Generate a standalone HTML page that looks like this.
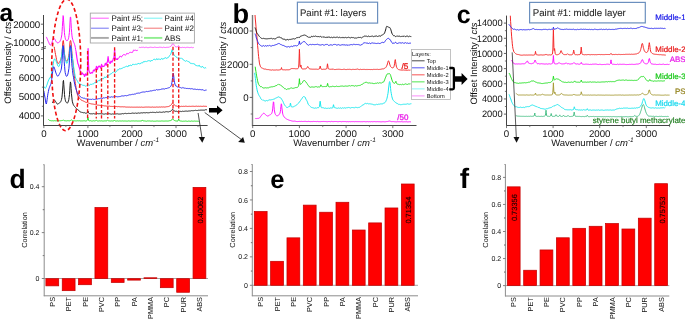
<!DOCTYPE html>
<html><head><meta charset="utf-8"><title>figure</title>
<style>html,body{margin:0;padding:0;background:#fff;}svg{display:block;will-change:transform;}svg text{font-family:"Liberation Sans", sans-serif;text-rendering:geometricPrecision;}</style>
</head><body>
<svg width="685" height="319" viewBox="0 0 685 319">
<rect x="0" y="0" width="685" height="319" fill="#ffffff"/>
<g id="pa">
<path d="M48.2 119.2 L48.5 119.5 L48.9 119.9 L49.2 120.1 L49.5 120.4 L49.9 120.6 L50.2 120.6 L50.5 120.6 L50.8 120.7 L51.2 120.7 L51.5 120.8 L51.8 120.8 L52.2 120.7 L52.5 120.8 L52.8 120.7 L53.2 120.8 L53.5 120.8 L53.8 120.9 L54.1 120.8 L54.5 120.7 L54.8 120.7 L55.1 120.8 L55.5 120.8 L55.8 120.8 L56.1 120.8 L56.5 120.8 L56.8 120.8 L57.1 120.9 L57.4 120.8 L57.8 120.8 L58.1 120.8 L58.4 120.9 L58.8 120.9 L59.1 120.8 L59.4 120.8 L59.8 120.7 L60.1 120.7 L60.4 120.7 L60.8 120.8 L61.1 120.8 L61.4 120.7 L61.7 120.5 L62.1 120.5 L62.4 120.5 L62.7 120.3 L63.1 120.0 L63.4 120.0 L63.7 120.3 L64.1 120.6 L64.4 120.7 L64.7 120.6 L65.0 120.6 L65.4 120.7 L65.7 120.9 L66.0 120.9 L66.4 120.9 L66.7 120.8 L67.0 120.7 L67.4 120.7 L67.7 120.7 L68.0 120.7 L68.3 120.7 L68.7 120.8 L69.0 120.9 L69.3 120.8 L69.7 120.8 L70.0 120.6 L70.3 120.5 L70.7 120.4 L71.0 120.1 L71.3 119.9 L71.6 120.0 L72.0 120.2 L72.3 120.4 L72.6 120.6 L73.0 120.7 L73.3 120.7 L73.6 120.8 L74.0 120.8 L74.3 120.8 L74.6 120.8 L75.0 120.9 L75.3 120.9 L75.6 120.9 L75.9 120.9 L76.3 120.9 L76.6 120.9 L76.9 120.8 L77.3 120.8 L77.6 120.7 L77.9 120.7 L78.3 120.8 L78.6 120.8 L78.9 120.8 L79.2 120.7 L79.6 120.8 L79.9 120.9 L80.2 121.0 L80.6 120.9 L80.9 120.8 L81.2 120.9 L81.6 120.9 L81.9 120.9 L82.2 120.9 L82.5 120.9 L82.9 120.9 L83.2 120.8 L83.5 120.8 L83.9 120.8 L84.2 120.7 L84.5 120.8 L84.9 120.9 L85.2 120.9 L85.5 121.0 L85.9 121.0 L86.2 120.9 L86.5 120.8 L86.8 120.7 L87.2 120.4 L87.5 119.5 L87.9 117.3 L88.2 118.6 L88.5 120.2 L88.8 120.7 L89.2 120.9 L89.5 120.8 L89.8 120.8 L90.1 120.8 L90.5 120.7 L90.8 120.8 L91.1 120.9 L91.5 121.0 L91.8 121.0 L92.1 121.0 L92.5 121.0 L92.8 120.9 L93.1 120.8 L93.4 120.8 L93.8 120.8 L94.1 120.9 L94.4 120.9 L94.8 120.9 L95.1 120.8 L95.4 120.7 L95.8 120.7 L96.1 120.6 L96.5 120.3 L96.7 120.5 L97.1 120.8 L97.4 120.9 L97.7 121.0 L98.1 121.0 L98.4 121.0 L98.7 121.0 L99.1 120.9 L99.4 120.8 L99.7 120.9 L100.1 121.0 L100.4 121.0 L100.7 120.9 L101.0 120.9 L101.4 120.9 L101.7 120.8 L102.0 120.9 L102.4 121.0 L102.7 121.0 L103.0 121.0 L103.4 121.0 L103.7 121.0 L104.0 120.9 L104.3 120.9 L104.7 120.9 L105.0 120.9 L105.3 120.9 L105.7 120.9 L106.0 120.9 L106.3 120.9 L106.7 120.8 L107.0 120.6 L107.3 120.3 L107.5 120.2 L108.0 120.6 L108.3 120.7 L108.6 120.8 L109.0 120.8 L109.3 120.9 L109.6 120.9 L110.0 120.9 L110.3 121.0 L110.6 121.0 L111.0 121.0 L111.3 120.9 L111.6 120.9 L111.9 121.0 L112.3 121.0 L112.6 121.0 L112.9 120.9 L113.3 120.9 L113.6 120.9 L113.9 120.7 L114.4 120.1 L114.6 120.3 L114.9 120.7 L115.2 121.0 L115.6 121.1 L115.9 121.1 L116.2 121.1 L116.6 121.0 L116.9 120.9 L117.2 120.9 L117.6 120.9 L117.9 120.9 L118.2 121.0 L118.5 121.1 L118.9 121.0 L119.2 121.0 L119.5 120.9 L119.9 120.9 L120.2 120.9 L120.5 121.0 L120.9 121.1 L121.2 121.1 L121.5 121.0 L121.8 121.0 L122.2 121.0 L122.5 120.9 L122.8 120.9 L123.2 121.0 L123.5 121.0 L123.8 121.0 L124.2 120.9 L124.5 121.0 L124.8 121.1 L125.2 121.1 L125.5 121.0 L125.8 120.9 L126.1 120.9 L126.5 121.1 L126.8 121.1 L127.1 121.1 L127.5 121.1 L127.8 121.0 L128.1 120.9 L128.5 120.9 L128.8 120.9 L129.1 120.9 L129.4 121.0 L129.8 121.0 L130.1 121.0 L130.4 121.1 L130.8 121.1 L131.1 121.0 L131.4 120.9 L131.8 121.0 L132.1 120.9 L132.4 121.0 L132.7 120.9 L133.1 120.9 L133.4 120.9 L133.7 120.9 L134.1 120.9 L134.4 121.0 L134.7 121.0 L135.1 120.9 L135.4 121.0 L135.7 120.9 L136.1 120.9 L136.4 120.9 L136.7 121.0 L137.0 121.1 L137.4 121.0 L137.7 121.1 L138.0 121.0 L138.4 121.0 L138.7 121.0 L139.0 121.0 L139.4 121.0 L139.7 121.0 L140.0 121.0 L140.3 121.0 L140.7 121.0 L141.0 121.0 L141.3 120.9 L141.7 120.8 L142.0 120.6 L142.3 120.1 L142.5 120.0 L143.0 120.7 L143.3 121.0 L143.6 121.0 L144.0 121.0 L144.3 121.0 L144.6 120.9 L145.0 121.0 L145.3 121.0 L145.6 121.1 L146.0 121.2 L146.3 121.2 L146.6 121.2 L146.9 121.1 L147.3 121.0 L147.6 120.9 L147.9 120.9 L148.3 120.9 L148.6 121.0 L148.9 121.0 L149.3 121.0 L149.6 120.9 L149.9 120.9 L150.3 121.0 L150.6 121.1 L150.9 121.1 L151.2 121.1 L151.6 121.1 L151.9 121.0 L152.2 121.0 L152.6 121.0 L152.9 121.1 L153.2 121.2 L153.6 121.2 L153.9 121.2 L154.2 121.2 L154.5 121.2 L154.9 121.2 L155.2 121.2 L155.5 121.2 L155.9 121.1 L156.2 121.1 L156.5 121.0 L156.9 121.0 L157.2 121.0 L157.5 121.0 L157.8 121.0 L158.2 121.1 L158.5 121.1 L158.8 121.1 L159.2 121.1 L159.5 121.1 L159.8 121.1 L160.2 121.2 L160.5 121.1 L160.8 121.0 L161.2 120.9 L161.5 121.0 L161.8 121.0 L162.1 121.0 L162.5 121.0 L162.8 121.0 L163.1 121.0 L163.5 121.1 L163.8 121.1 L164.1 121.1 L164.5 121.1 L164.8 121.0 L165.1 121.0 L165.4 121.0 L165.8 121.0 L166.1 121.0 L166.4 121.0 L166.8 121.0 L167.1 121.0 L167.4 121.1 L167.8 121.0 L168.1 121.0 L168.4 121.0 L168.7 120.9 L169.1 120.8 L169.4 120.8 L169.7 120.7 L170.1 120.7 L170.4 120.6 L170.7 120.6 L171.1 120.5 L171.4 120.3 L171.7 119.9 L172.0 119.3 L172.4 118.9 L172.7 118.8 L173.0 119.2 L173.4 119.7 L173.7 120.1 L174.0 120.3 L174.4 120.5 L174.7 120.5 L175.0 120.7 L175.4 120.8 L175.7 120.9 L176.0 120.9 L176.3 121.0 L176.7 121.0 L177.0 121.1 L177.3 121.1 L177.7 121.0 L178.0 120.8 L178.3 120.1 L178.7 119.0 L179.0 119.8 L179.3 120.6 L179.6 120.9 L180.0 121.0 L180.3 121.0 L180.6 121.0 L181.0 121.0 L181.3 121.1 L181.6 121.1 L182.0 121.2 L182.3 121.2 L182.6 121.3 L182.9 121.3 L183.3 121.2 L183.6 121.2 L183.9 121.2 L184.3 121.2 L184.6 121.2 L184.9 121.1 L185.3 121.1 L185.6 121.0 L185.9 121.0 L186.2 121.1 L186.6 121.2 L186.9 121.2 L187.2 121.3 L187.6 121.3 L187.9 121.2 L188.2 121.1 L188.6 121.1 L188.9 121.1 L189.2 121.1 L189.6 121.2 L189.9 121.2 L190.2 121.2 L190.5 121.3 L190.9 121.2 L191.2 121.1 L191.5 121.0 L191.9 121.1 L192.2 121.1 L192.5 121.2 L192.9 121.2 L193.2 121.2 L193.5 121.2 L193.8 121.2 L194.2 121.2 L194.5 121.0 L194.8 121.1 L195.2 121.2 L195.5 121.2 L195.8 121.1 L196.2 121.1 L196.5 121.2 L196.8 121.2 L197.1 121.2 L197.5 121.2 L197.8 121.3 L198.1 121.3 L198.5 121.3 L198.8 121.2" fill="none" stroke="#22e022" stroke-width="1.0" stroke-linejoin="round" />
<path d="M52.3 103.0 L52.6 102.4 L53.0 101.7 L53.3 101.0 L53.6 100.3 L53.9 100.0 L54.3 100.0 L54.6 100.2 L54.9 100.5 L55.3 101.0 L55.6 101.6 L55.9 102.1 L56.3 102.7 L56.6 103.2 L56.9 103.7 L57.2 104.1 L57.6 104.1 L57.9 104.0 L58.2 103.8 L58.6 103.6 L58.9 103.4 L59.2 103.3 L59.6 103.0 L59.9 102.6 L60.2 102.2 L60.5 101.9 L60.9 101.4 L61.2 100.6 L61.5 99.4 L61.9 97.6 L62.2 94.9 L62.5 91.1 L62.9 85.9 L63.2 81.0 L63.5 80.4 L63.8 84.5 L64.2 90.1 L64.5 94.5 L64.8 97.5 L65.2 99.5 L65.5 100.8 L65.8 101.7 L66.2 102.3 L66.5 102.6 L66.8 102.9 L67.1 103.0 L67.5 103.1 L67.8 102.6 L68.1 101.9 L68.5 100.9 L68.8 99.5 L69.1 97.5 L69.5 94.4 L69.8 90.2 L70.1 85.2 L70.4 81.9 L70.8 83.5 L71.1 88.4 L71.4 93.3 L71.8 97.1 L72.1 99.9 L72.4 101.8 L72.8 103.1 L73.1 104.1 L73.4 104.8 L73.7 105.4 L74.1 105.9 L74.4 106.3 L74.7 106.6 L75.1 107.0 L75.4 107.4 L75.7 107.8 L76.0 108.4 L76.4 108.7 L76.7 108.9 L77.0 109.0 L77.4 109.3 L77.7 109.6 L78.0 110.0 L78.4 110.2 L78.7 110.4 L79.0 110.8 L79.3 111.2 L79.7 111.5 L80.0 111.7 L80.3 111.9 L80.7 112.0 L81.0 111.9 L81.3 112.2 L81.7 112.4 L82.0 112.6 L82.3 112.5 L82.6 112.5 L83.0 112.6 L83.3 112.7 L83.6 112.8 L84.0 112.7 L84.3 112.6 L84.6 112.8 L85.0 113.1 L85.3 113.2 L85.6 113.2 L85.9 113.0 L86.3 113.1 L86.6 113.1 L86.9 113.0 L87.3 112.9 L87.6 112.1 L87.9 111.0 L88.3 112.2 L88.6 113.0 L88.9 113.3 L89.2 113.4 L89.6 113.6 L89.9 113.8 L90.2 113.8 L90.6 113.8 L90.9 113.8 L91.2 113.8 L91.6 113.8 L91.9 113.8 L92.2 113.9 L92.5 113.8 L92.9 113.7 L93.2 113.5 L93.5 113.6 L93.9 113.7 L94.2 113.8 L94.5 113.9 L94.9 113.8 L95.2 113.9 L95.5 113.9 L95.8 113.8 L96.2 113.7 L96.5 113.6 L96.8 113.6 L97.2 113.7 L97.5 113.6 L97.8 113.6 L98.1 113.7 L98.5 113.7 L98.8 113.8 L99.1 113.7 L99.5 113.7 L99.8 113.7 L100.1 113.7 L100.5 113.7 L100.8 113.8 L101.1 114.0 L101.4 113.9 L101.8 113.8 L102.1 113.8 L102.4 113.8 L102.8 113.9 L103.1 114.0 L103.4 114.1 L103.8 114.0 L104.1 114.1 L104.4 114.1 L104.7 114.0 L105.1 113.9 L105.4 113.8 L105.7 113.8 L106.1 113.8 L106.4 113.8 L106.7 114.0 L107.1 113.9 L107.4 113.8 L107.7 113.8 L108.0 113.8 L108.4 113.7 L108.7 113.7 L109.0 113.7 L109.4 113.7 L109.7 113.9 L110.0 114.0 L110.4 114.0 L110.7 114.0 L111.0 114.1 L111.3 114.2 L111.7 114.1 L112.0 114.0 L112.3 113.9 L112.7 114.0 L113.0 114.2 L113.3 114.1 L113.7 114.0 L114.0 113.9 L114.3 113.9 L114.6 114.0 L115.0 113.9 L115.3 113.9 L115.6 114.0 L116.0 114.0 L116.3 113.9 L116.6 113.9 L117.0 114.0 L117.3 113.9 L117.6 113.8 L117.9 113.6 L118.3 113.9 L118.6 114.1 L118.9 114.0 L119.3 114.0 L119.6 114.1 L119.9 114.0 L120.2 114.0 L120.6 114.0 L120.9 114.0 L121.2 114.0 L121.6 113.8 L121.9 113.8 L122.2 113.7 L122.6 113.6 L122.9 113.6 L123.2 113.7 L123.5 113.8 L123.9 113.7 L124.2 113.5 L124.5 113.5 L124.9 113.5 L125.2 113.4 L125.5 113.4 L125.9 113.3 L126.2 113.4 L126.5 113.6 L126.8 113.7 L127.2 113.6 L127.5 113.5 L127.8 113.5 L128.2 113.4 L128.5 113.4 L128.8 113.3 L129.2 113.4 L129.5 113.4 L129.8 113.5 L130.1 113.5 L130.5 113.5 L130.8 113.4 L131.1 113.4 L131.5 113.3 L131.8 113.2 L132.1 113.1 L132.5 113.1 L132.8 113.0 L133.1 113.0 L133.4 113.2 L133.8 113.3 L134.1 113.3 L134.4 113.3 L134.8 113.2 L135.1 113.1 L135.4 113.0 L135.8 113.0 L136.1 113.3 L136.4 113.3 L136.7 113.2 L137.1 113.1 L137.4 113.2 L137.7 113.2 L138.1 113.2 L138.4 113.0 L138.7 112.9 L139.1 113.1 L139.4 113.1 L139.7 113.2 L140.0 113.0 L140.4 113.0 L140.7 112.9 L141.0 112.8 L141.4 112.8 L141.7 112.8 L142.0 112.8 L142.3 112.8 L142.7 113.0 L143.0 112.8 L143.3 112.7 L143.7 112.7 L144.0 112.7 L144.3 112.8 L144.7 112.7 L145.0 112.9 L145.3 112.8 L145.6 112.9 L146.0 112.9 L146.3 112.7 L146.6 112.6 L147.0 112.7 L147.3 112.7 L147.6 112.8 L148.0 112.8 L148.3 112.8 L148.6 112.8 L148.9 112.7 L149.3 112.7 L149.6 112.6 L149.9 112.6 L150.3 112.5 L150.6 112.3 L150.9 112.4 L151.3 112.4 L151.6 112.5 L151.9 112.4 L152.2 112.3 L152.6 112.3 L152.9 112.4 L153.2 112.4 L153.6 112.4 L153.9 112.3 L154.2 112.4 L154.6 112.4 L154.9 112.5 L155.2 112.5 L155.5 112.6 L155.9 112.4 L156.2 112.2 L156.5 112.2 L156.9 112.2 L157.2 112.3 L157.5 112.3 L157.9 112.4 L158.2 112.4 L158.5 112.3 L158.8 112.3 L159.2 112.1 L159.5 112.1 L159.8 112.1 L160.2 112.2 L160.5 112.2 L160.8 112.3 L161.2 112.3 L161.5 112.3 L161.8 112.4 L162.1 112.3 L162.5 112.2 L162.8 112.1 L163.1 112.0 L163.5 111.9 L163.8 112.1 L164.1 112.2 L164.4 112.2 L164.8 112.0 L165.1 111.8 L165.4 111.8 L165.8 111.9 L166.1 111.9 L166.4 111.7 L166.8 111.7 L167.1 111.8 L167.4 111.8 L167.7 111.8 L168.1 111.9 L168.4 111.9 L168.7 111.8 L169.1 111.6 L169.4 111.6 L169.7 111.5 L170.1 111.5 L170.4 111.4 L170.7 111.3 L171.0 111.0 L171.4 110.5 L171.7 110.1 L172.0 109.7 L172.4 109.4 L172.7 109.3 L173.0 109.5 L173.4 109.9 L173.7 110.3 L174.0 110.7 L174.3 111.0 L174.7 111.2 L175.0 111.3 L175.3 111.3 L175.7 111.3 L176.0 111.2 L176.3 111.2 L176.7 111.3 L177.0 111.5 L177.3 111.6 L177.6 111.6 L178.0 111.5 L178.3 111.4 L178.6 111.2 L179.0 111.3 L179.3 111.3 L179.6 111.5 L180.0 111.5 L180.3 111.4 L180.6 111.4 L180.9 111.6 L181.3 111.6 L181.6 111.5 L181.9 111.5 L182.3 111.3 L182.6 111.2 L182.9 111.2 L183.3 111.3 L183.6 111.4 L183.9 111.3 L184.2 111.2 L184.6 111.3 L184.9 111.3 L185.2 111.2 L185.6 111.1 L185.9 111.1 L186.2 111.1 L186.5 111.1 L186.9 111.2 L187.2 111.3 L187.5 111.2 L187.9 111.2 L188.2 111.1 L188.5 111.0 L188.9 111.1 L189.2 111.0 L189.5 111.0 L189.8 110.9 L190.2 110.9 L190.5 110.9 L190.8 111.0 L191.2 110.8 L191.5 110.6 L191.8 110.7 L192.2 110.7 L192.5 110.7 L192.8 110.6 L193.1 110.5 L193.5 110.7 L193.8 110.7 L194.1 110.7 L194.5 110.5 L194.8 110.4 L195.1 110.3 L195.5 110.3 L195.8 110.4 L196.1 110.5 L196.4 110.5 L196.8 110.4 L197.1 110.3 L197.4 110.5 L197.8 110.5 L198.1 110.5 L198.4 110.3 L198.8 110.2 L199.1 110.3 L199.4 110.2 L199.7 110.3 L200.1 110.2 L200.4 110.2 L200.7 110.2 L201.1 110.3 L201.4 110.2 L201.7 110.0 L202.1 109.9 L202.4 110.1 L202.7 110.2 L203.0 110.1 L203.4 110.2 L203.7 110.1 L204.0 110.1 L204.4 110.2 L204.7 110.0 L205.0 109.8 L205.4 109.7 L205.7 109.7 L206.0 109.7 L206.3 109.7 L206.7 109.8 L207.0 109.9" fill="none" stroke="#1c1c1c" stroke-width="1.0" stroke-linejoin="round" />
<path d="M54.2 46.8 L54.5 48.8 L54.9 50.8 L55.2 52.7 L55.5 54.4 L55.9 56.1 L56.2 57.7 L56.5 59.4 L56.8 60.7 L57.2 61.9 L57.5 62.7 L57.8 63.3 L58.2 63.5 L58.5 63.4 L58.8 63.0 L59.2 62.5 L59.5 62.1 L59.8 61.5 L60.1 61.0 L60.5 60.3 L60.8 59.4 L61.1 58.3 L61.5 56.7 L61.8 54.5 L62.1 51.2 L62.5 46.9 L62.8 42.1 L63.1 40.6 L63.4 40.6 L63.8 44.4 L64.1 49.2 L64.4 53.2 L64.8 56.0 L65.1 58.0 L65.4 59.3 L65.8 60.3 L66.1 60.8 L66.4 61.1 L66.7 61.2 L67.1 61.0 L67.4 60.5 L67.7 59.9 L68.1 58.9 L68.4 57.6 L68.7 55.8 L69.1 53.4 L69.4 50.2 L69.7 46.1 L70.0 41.7 L70.4 40.6 L70.7 40.6 L71.0 42.1 L71.4 46.3 L71.7 50.2 L72.0 53.6 L72.4 56.8 L72.7 59.8 L73.0 62.9 L73.3 66.1 L73.7 69.5 L74.0 72.8 L74.3 75.8 L74.7 78.6 L75.0 81.1 L75.3 83.4 L75.7 85.4 L76.0 87.4 L76.3 89.2 L76.6 91.0 L77.0 92.6 L77.3 94.0 L77.6 95.1 L78.0 96.1 L78.3 96.9 L78.6 97.3 L79.0 97.7 L79.3 98.1 L79.6 98.5 L79.9 98.9 L80.3 99.1 L80.6 99.4 L80.9 99.8 L81.3 100.1 L81.6 100.3 L81.9 100.5 L82.3 100.6 L82.6 100.7 L82.9 100.8 L83.2 101.0 L83.6 101.1 L83.9 101.3 L84.2 101.5 L84.6 101.6 L84.9 101.8 L85.2 102.0 L85.6 102.2 L85.9 102.3 L86.2 102.4 L86.5 102.5 L86.9 102.5 L87.2 102.6 L87.5 102.7 L87.9 102.7 L88.2 102.9 L88.5 103.0 L88.9 103.1 L89.2 103.3 L89.5 103.4 L89.8 103.5 L90.2 103.6 L90.5 103.7 L90.8 103.7 L91.2 103.8 L91.5 103.9 L91.8 104.0 L92.2 104.0 L92.5 104.0 L92.8 104.1 L93.1 104.1 L93.5 104.2 L93.8 104.3 L94.1 104.4 L94.5 104.4 L94.8 104.4 L95.1 104.5 L95.5 104.7 L95.8 104.8 L96.1 104.8 L96.4 104.8 L96.8 104.9 L97.1 105.0 L97.4 105.1 L97.8 105.1 L98.1 105.1 L98.4 105.2 L98.8 105.2 L99.1 105.3 L99.4 105.3 L99.7 105.3 L100.1 105.4 L100.4 105.5 L100.7 105.5 L101.1 105.6 L101.4 105.6 L101.7 105.6 L102.1 105.5 L102.4 105.6 L102.7 105.6 L103.0 105.7 L103.4 105.7 L103.7 105.7 L104.0 105.7 L104.4 105.9 L104.7 105.9 L105.0 105.9 L105.4 105.9 L105.7 106.0 L106.0 106.1 L106.3 106.1 L106.7 106.1 L107.0 106.1 L107.3 106.1 L107.7 106.1 L108.0 106.2 L108.3 106.2 L108.7 106.2 L109.0 106.2 L109.3 106.1 L109.6 106.2 L110.0 106.3 L110.3 106.4 L110.6 106.4 L111.0 106.4 L111.3 106.4 L111.6 106.4 L112.0 106.4 L112.3 106.4 L112.6 106.5 L112.9 106.4 L113.3 106.4 L113.6 106.4 L113.9 106.4 L114.3 106.3 L114.6 106.4 L114.9 106.5 L115.3 106.5 L115.6 106.5 L115.9 106.5 L116.2 106.5 L116.6 106.5 L116.9 106.6 L117.2 106.7 L117.6 106.7 L117.9 106.6 L118.2 106.5 L118.6 106.6 L118.9 106.6 L119.2 106.7 L119.5 106.7 L119.9 106.7 L120.2 106.8 L120.5 106.8 L120.9 106.8 L121.2 106.8 L121.5 106.8 L121.9 106.7 L122.2 106.6 L122.5 106.8 L122.8 106.9 L123.2 106.9 L123.5 106.9 L123.8 106.8 L124.2 106.8 L124.5 106.8 L124.8 106.9 L125.2 107.0 L125.5 107.0 L125.8 107.0 L126.1 107.1 L126.5 107.1 L126.8 107.0 L127.1 107.0 L127.5 107.1 L127.8 107.1 L128.1 107.2 L128.5 107.1 L128.8 107.1 L129.1 107.1 L129.4 107.1 L129.8 107.1 L130.1 107.2 L130.4 107.2 L130.8 107.2 L131.1 107.2 L131.4 107.1 L131.8 107.1 L132.1 107.1 L132.4 107.2 L132.7 107.2 L133.1 107.3 L133.4 107.2 L133.7 107.2 L134.1 107.2 L134.4 107.2 L134.7 107.2 L135.1 107.3 L135.4 107.2 L135.7 107.2 L136.0 107.2 L136.4 107.2 L136.7 107.1 L137.0 107.1 L137.4 107.1 L137.7 107.2 L138.0 107.2 L138.4 107.2 L138.7 107.2 L139.0 107.1 L139.3 107.1 L139.7 107.2 L140.0 107.3 L140.3 107.2 L140.7 107.3 L141.0 107.2 L141.3 107.1 L141.7 107.1 L142.0 107.2 L142.3 107.3 L142.6 107.2 L143.0 107.2 L143.3 107.2 L143.6 107.3 L144.0 107.3 L144.3 107.2 L144.6 107.2 L145.0 107.2 L145.3 107.1 L145.6 107.1 L145.9 107.0 L146.3 107.0 L146.6 107.1 L146.9 107.1 L147.3 107.1 L147.6 107.1 L147.9 107.1 L148.3 107.1 L148.6 107.0 L148.9 107.1 L149.2 107.1 L149.6 107.1 L149.9 107.1 L150.2 107.1 L150.6 107.2 L150.9 107.3 L151.2 107.2 L151.6 107.2 L151.9 107.2 L152.2 107.1 L152.5 107.0 L152.9 107.1 L153.2 107.2 L153.5 107.2 L153.9 107.2 L154.2 107.1 L154.5 107.2 L154.9 107.2 L155.2 107.2 L155.5 107.2 L155.8 107.2 L156.2 107.1 L156.5 107.0 L156.8 107.0 L157.2 107.1 L157.5 107.1 L157.8 107.1 L158.2 107.2 L158.5 107.1 L158.8 107.1 L159.1 107.0 L159.5 107.0 L159.8 107.0 L160.1 107.1 L160.5 107.1 L160.8 107.1 L161.1 107.0 L161.5 106.9 L161.8 106.9 L162.1 106.9 L162.4 107.0 L162.8 107.1 L163.1 107.1 L163.4 107.0 L163.8 106.8 L164.1 106.9 L164.4 107.0 L164.8 107.1 L165.1 107.0 L165.4 107.0 L165.7 106.9 L166.1 106.8 L166.4 106.8 L166.7 106.7 L167.1 106.7 L167.4 106.7 L167.7 106.6 L168.1 106.6 L168.4 106.6 L168.7 106.4 L169.0 106.3 L169.4 106.1 L169.7 106.0 L170.0 105.9 L170.4 105.6 L170.7 105.2 L171.0 104.8 L171.4 104.5 L171.7 104.1 L172.0 103.6 L172.3 103.2 L172.7 103.0 L173.0 103.2 L173.3 103.7 L173.7 104.2 L174.0 104.6 L174.3 105.0 L174.7 105.3 L175.0 105.6 L175.3 105.8 L175.6 105.8 L176.0 105.9 L176.3 106.0 L176.6 106.0 L177.0 106.2 L177.3 106.3 L177.6 106.4 L178.0 106.4 L178.3 106.4 L178.6 106.4 L178.9 106.4 L179.3 106.4 L179.6 106.4 L179.9 106.4 L180.3 106.4 L180.6 106.6 L180.9 106.4 L181.3 106.3 L181.6 106.3 L181.9 106.5 L182.2 106.5 L182.6 106.4 L182.9 106.4 L183.2 106.3 L183.6 106.3 L183.9 106.4 L184.2 106.4 L184.6 106.4 L184.9 106.4 L185.2 106.3 L185.5 106.2 L185.9 106.2 L186.2 106.2 L186.5 106.3 L186.9 106.3 L187.2 106.4 L187.5 106.4 L187.9 106.4 L188.2 106.3 L188.5 106.4 L188.8 106.4 L189.2 106.3 L189.5 106.3 L189.8 106.4 L190.2 106.4 L190.5 106.4 L190.8 106.4 L191.2 106.4 L191.5 106.3 L191.8 106.3 L192.1 106.3 L192.5 106.2 L192.8 106.3 L193.1 106.2 L193.5 106.3 L193.8 106.3 L194.1 106.3 L194.5 106.4 L194.8 106.4 L195.1 106.4 L195.4 106.3 L195.8 106.3 L196.1 106.3 L196.4 106.2 L196.8 106.2 L197.1 106.3 L197.4 106.3 L197.8 106.4 L198.1 106.3 L198.4 106.3 L198.7 106.2 L199.1 106.2 L199.4 106.3 L199.7 106.4 L200.1 106.3 L200.4 106.3 L200.7 106.2 L201.1 106.3 L201.4 106.3 L201.7 106.4 L202.0 106.4 L202.4 106.4 L202.7 106.3 L203.0 106.2 L203.4 106.2 L203.7 106.2 L204.0 106.3 L204.4 106.3 L204.7 106.3 L205.0 106.3 L205.3 106.3 L205.7 106.3 L206.0 106.4 L206.3 106.4 L206.7 106.4 L207.0 106.4" fill="none" stroke="#f52828" stroke-width="1.0" stroke-linejoin="round" />
<path d="M44.0 86.5 L44.3 87.1 L44.7 87.8 L45.0 87.9 L45.3 88.1 L45.6 87.9 L46.0 87.5 L46.3 86.8 L46.6 85.6 L47.0 84.8 L47.3 83.8 L47.6 82.8 L48.0 81.7 L48.3 81.0 L48.6 80.1 L48.9 79.6 L49.3 78.8 L49.6 77.9 L49.9 78.0 L50.3 78.0 L50.6 77.1 L50.9 76.2 L51.3 74.9 L51.6 72.8 L51.9 70.8 L52.2 69.3 L52.6 67.6 L52.9 65.9 L53.2 63.9 L53.6 61.7 L53.9 60.4 L54.2 59.2 L54.6 59.0 L54.9 59.0 L55.2 59.5 L55.5 60.1 L55.9 60.6 L56.2 61.4 L56.5 62.2 L56.9 63.0 L57.2 64.0 L57.5 64.9 L57.9 65.9 L58.2 66.3 L58.5 66.6 L58.8 66.4 L59.2 66.2 L59.5 65.4 L59.8 64.4 L60.2 63.1 L60.5 61.9 L60.8 60.6 L61.2 58.8 L61.5 56.7 L61.8 54.1 L62.1 51.3 L62.5 47.9 L62.8 46.5 L63.1 46.5 L63.5 46.5 L63.8 48.5 L64.1 51.7 L64.5 54.6 L64.8 56.4 L65.1 58.3 L65.4 59.7 L65.8 60.9 L66.1 62.1 L66.4 63.1 L66.8 63.1 L67.1 63.2 L67.4 62.6 L67.8 61.4 L68.1 60.2 L68.4 59.2 L68.7 57.9 L69.1 55.7 L69.4 52.8 L69.7 49.9 L70.1 47.2 L70.4 46.5 L70.7 46.5 L71.1 47.6 L71.4 50.0 L71.7 52.7 L72.0 54.9 L72.4 57.6 L72.7 60.0 L73.0 62.2 L73.4 64.7 L73.7 67.3 L74.0 69.6 L74.4 71.7 L74.7 73.6 L75.0 75.3 L75.3 76.9 L75.7 78.1 L76.0 79.0 L76.3 79.4 L76.7 79.7 L77.0 80.3 L77.3 80.8 L77.7 81.5 L78.0 82.3 L78.3 82.9 L78.6 83.1 L79.0 83.5 L79.3 83.6 L79.6 83.9 L80.0 84.2 L80.3 84.3 L80.6 84.2 L81.0 84.3 L81.3 84.4 L81.6 84.7 L81.9 84.8 L82.3 84.9 L82.6 85.1 L82.9 85.5 L83.3 85.4 L83.6 85.4 L83.9 85.6 L84.3 85.6 L84.6 85.4 L84.9 85.6 L85.2 85.8 L85.6 86.2 L85.9 86.3 L86.2 85.9 L86.6 86.0 L86.9 85.7 L87.2 85.9 L87.6 85.6 L87.9 85.3 L88.2 85.2 L88.5 84.9 L88.9 84.9 L89.2 85.2 L89.5 85.4 L89.9 85.0 L90.2 84.5 L90.5 84.0 L90.9 84.1 L91.2 84.4 L91.5 84.3 L91.8 84.4 L92.2 84.0 L92.5 84.0 L92.8 83.9 L93.2 84.0 L93.5 83.8 L93.8 83.7 L94.2 83.2 L94.5 82.7 L94.8 82.9 L95.1 83.1 L95.5 82.8 L95.8 82.3 L96.1 82.2 L96.5 82.5 L96.8 82.8 L97.1 82.3 L97.5 81.2 L97.8 80.8 L98.1 80.7 L98.4 80.6 L98.8 81.0 L99.1 81.0 L99.4 80.8 L99.8 79.9 L100.1 79.5 L100.4 79.7 L100.7 80.1 L101.1 79.8 L101.4 79.1 L101.7 78.6 L102.1 78.6 L102.4 78.5 L102.7 78.9 L103.1 79.2 L103.4 78.9 L103.7 78.2 L104.0 78.0 L104.4 77.5 L104.7 76.8 L105.0 77.2 L105.4 77.4 L105.7 77.8 L106.0 77.3 L106.4 77.1 L106.7 76.4 L107.0 76.1 L107.3 75.6 L107.7 75.6 L108.0 75.4 L108.3 75.2 L108.7 75.2 L109.0 75.1 L109.3 75.1 L109.7 74.6 L110.0 74.3 L110.3 74.2 L110.6 74.0 L111.0 73.8 L111.3 73.8 L111.6 73.3 L112.0 72.9 L112.3 72.7 L112.6 72.6 L113.0 72.5 L113.3 72.1 L113.6 72.0 L113.9 71.7 L114.3 71.6 L114.6 71.7 L114.9 72.1 L115.3 72.5 L115.6 72.0 L115.9 71.9 L116.3 71.6 L116.6 71.5 L116.9 71.1 L117.2 70.4 L117.6 69.7 L117.9 69.6 L118.2 69.8 L118.6 69.7 L118.9 69.2 L119.2 68.8 L119.6 68.8 L119.9 68.6 L120.2 68.6 L120.5 69.0 L120.9 69.0 L121.2 68.9 L121.5 68.4 L121.9 68.4 L122.2 68.3 L122.5 68.1 L122.9 67.8 L123.2 67.7 L123.5 67.5 L123.8 67.2 L124.2 67.2 L124.5 67.3 L124.8 67.2 L125.2 67.0 L125.5 66.7 L125.8 66.6 L126.2 66.3 L126.5 66.3 L126.8 66.4 L127.1 66.5 L127.5 66.5 L127.8 66.8 L128.1 66.7 L128.5 66.0 L128.8 65.2 L129.1 65.5 L129.5 65.7 L129.8 65.7 L130.1 65.3 L130.4 65.1 L130.8 65.2 L131.1 65.7 L131.4 65.6 L131.8 65.4 L132.1 65.2 L132.4 64.7 L132.8 64.1 L133.1 64.1 L133.4 64.3 L133.7 64.4 L134.1 64.8 L134.4 64.8 L134.7 64.5 L135.1 64.5 L135.4 64.4 L135.7 64.2 L136.1 64.5 L136.4 64.4 L136.7 64.3 L137.0 64.5 L137.4 64.2 L137.7 64.0 L138.0 63.7 L138.4 63.0 L138.7 63.5 L139.0 63.7 L139.4 63.9 L139.7 63.8 L140.0 63.4 L140.3 63.3 L140.7 63.6 L141.0 63.4 L141.3 62.9 L141.7 62.7 L142.0 62.8 L142.3 62.9 L142.7 62.6 L143.0 61.9 L143.3 61.8 L143.6 61.7 L144.0 62.2 L144.3 61.8 L144.6 61.4 L145.0 61.2 L145.3 61.4 L145.6 61.4 L146.0 61.5 L146.3 61.6 L146.6 61.6 L146.9 61.3 L147.3 61.0 L147.6 61.1 L147.9 61.0 L148.3 60.7 L148.6 60.7 L148.9 60.8 L149.3 60.7 L149.6 60.8 L149.9 60.9 L150.2 61.3 L150.6 61.3 L150.9 60.8 L151.2 60.2 L151.6 60.6 L151.9 60.9 L152.2 60.8 L152.5 60.5 L152.9 60.1 L153.2 59.8 L153.5 59.4 L153.9 59.3 L154.2 59.1 L154.5 59.3 L154.9 59.6 L155.2 60.1 L155.5 59.9 L155.8 59.6 L156.2 59.2 L156.5 59.2 L156.8 58.6 L157.2 59.3 L157.5 59.8 L157.8 59.5 L158.2 59.4 L158.5 59.1 L158.8 59.1 L159.1 58.8 L159.5 59.3 L159.8 59.6 L160.1 59.7 L160.5 59.5 L160.8 59.5 L161.1 58.8 L161.5 58.4 L161.8 58.3 L162.1 58.7 L162.4 59.3 L162.8 59.1 L163.1 58.6 L163.4 58.8 L163.8 58.9 L164.1 58.6 L164.4 58.4 L164.8 57.8 L165.1 57.8 L165.4 57.7 L165.7 57.8 L166.1 57.9 L166.4 58.4 L166.7 58.2 L167.1 57.8 L167.4 57.9 L167.7 57.8 L168.1 57.8 L168.4 57.4 L168.7 57.0 L169.0 56.5 L169.4 55.8 L169.7 55.6 L170.0 55.1 L170.4 54.7 L170.7 54.1 L171.0 53.3 L171.4 52.1 L171.7 50.8 L172.0 49.7 L172.3 50.2 L172.7 51.5 L173.0 52.5 L173.3 53.3 L173.7 54.2 L174.0 55.0 L174.3 55.6 L174.7 55.6 L175.0 55.8 L175.3 56.1 L175.6 56.5 L176.0 56.9 L176.3 57.1 L176.6 57.2 L177.0 57.4 L177.3 57.9 L177.6 58.2 L178.0 58.4 L178.3 58.2 L178.6 58.4 L178.9 58.2 L179.3 58.4 L179.6 58.3 L179.9 58.4 L180.3 58.3 L180.6 58.4 L180.9 58.1 L181.3 58.3 L181.6 58.1 L181.9 58.4 L182.2 58.5 L182.6 58.9 L182.9 59.4 L183.2 59.8 L183.6 59.9 L183.9 60.0 L184.2 60.4 L184.6 60.7 L184.9 61.0 L185.2 61.1 L185.5 61.3 L185.9 61.1 L186.2 60.8 L186.5 60.7 L186.9 60.6 L187.2 60.9 L187.5 61.1 L187.9 61.6 L188.2 61.7 L188.5 61.6 L188.8 61.4 L189.2 61.8 L189.5 62.1 L189.8 62.8 L190.2 63.0 L190.5 63.4 L190.8 63.3 L191.2 63.6 L191.5 63.5 L191.8 63.2 L192.1 63.3 L192.5 63.6 L192.8 63.8 L193.1 63.9 L193.5 63.6 L193.8 63.7 L194.1 63.7 L194.5 63.9 L194.8 64.5 L195.1 65.0 L195.4 65.3 L195.8 65.2 L196.1 65.4 L196.4 65.6 L196.8 65.5 L197.1 65.5 L197.4 65.8 L197.8 66.1 L198.1 66.1 L198.4 66.1 L198.7 65.5 L199.1 65.3 L199.4 65.4 L199.7 66.4 L200.1 66.7 L200.4 66.7 L200.7 66.8 L201.1 67.1 L201.4 67.1 L201.7 67.1 L202.0 66.9 L202.4 66.2 L202.7 66.7 L203.0 67.3 L203.4 67.4 L203.7 67.7 L204.0 67.6 L204.4 67.9 L204.7 68.2 L205.0 67.9 L205.3 67.6 L205.7 67.7 L206.0 68.2" fill="none" stroke="#18e8ee" stroke-width="1.0" stroke-linejoin="round" />
<path d="M43.8 90.9 L44.1 92.5 L44.4 94.2 L44.7 96.0 L45.1 98.1 L45.4 100.1 L45.7 102.0 L46.1 103.7 L46.4 104.0 L46.7 102.3 L47.1 99.7 L47.4 97.4 L47.7 95.2 L48.0 93.3 L48.4 91.5 L48.7 89.9 L49.0 88.7 L49.4 87.5 L49.7 86.7 L50.0 86.0 L50.4 85.1 L50.7 84.4 L51.0 83.4 L51.3 81.9 L51.7 79.6 L52.0 76.7 L52.3 74.0 L52.7 71.5 L53.0 69.4 L53.3 67.7 L53.7 66.8 L54.0 66.9 L54.3 67.9 L54.7 68.8 L55.0 69.9 L55.3 71.0 L55.6 72.1 L56.0 73.0 L56.3 73.9 L56.6 74.7 L57.0 75.4 L57.3 76.0 L57.6 76.2 L58.0 76.2 L58.3 76.0 L58.6 75.5 L58.9 74.8 L59.3 74.2 L59.6 73.5 L59.9 72.8 L60.3 72.3 L60.6 71.4 L60.9 70.5 L61.3 69.1 L61.6 67.0 L61.9 63.7 L62.2 59.2 L62.6 53.1 L62.9 47.2 L63.2 45.6 L63.6 49.0 L63.9 55.6 L64.2 61.8 L64.6 66.4 L64.9 70.1 L65.2 72.6 L65.6 74.3 L65.9 75.4 L66.2 76.0 L66.5 76.3 L66.9 76.3 L67.2 76.0 L67.5 75.2 L67.9 74.1 L68.2 72.8 L68.5 71.0 L68.9 68.6 L69.2 65.0 L69.5 60.1 L69.8 53.4 L70.2 46.9 L70.5 45.6 L70.8 46.3 L71.2 52.5 L71.5 58.8 L71.8 63.7 L72.2 67.7 L72.5 70.7 L72.8 73.1 L73.1 75.2 L73.5 77.2 L73.8 79.2 L74.1 81.2 L74.5 83.0 L74.8 84.7 L75.1 86.0 L75.5 87.3 L75.8 88.4 L76.1 89.4 L76.5 90.6 L76.8 91.6 L77.1 92.4 L77.4 93.4 L77.8 94.0 L78.1 94.5 L78.4 94.8 L78.8 95.1 L79.1 95.3 L79.4 95.6 L79.8 95.9 L80.1 96.3 L80.4 96.8 L80.7 97.0 L81.1 97.3 L81.4 97.5 L81.7 97.6 L82.1 97.6 L82.4 97.7 L82.7 97.9 L83.1 97.9 L83.4 98.1 L83.7 98.3 L84.0 98.1 L84.4 98.2 L84.7 98.3 L85.0 98.5 L85.4 98.7 L85.7 99.0 L86.0 99.1 L86.4 99.0 L86.7 98.8 L87.0 98.7 L87.4 98.9 L87.7 99.2 L88.0 99.1 L88.3 99.1 L88.7 99.2 L89.0 99.2 L89.3 99.3 L89.7 99.4 L90.0 99.5 L90.3 99.4 L90.7 99.3 L91.0 99.3 L91.3 99.3 L91.6 99.5 L92.0 99.4 L92.3 99.1 L92.6 99.0 L93.0 99.2 L93.3 99.3 L93.6 99.4 L94.0 99.4 L94.3 99.4 L94.6 99.5 L95.0 99.6 L95.3 99.4 L95.6 99.2 L95.9 99.1 L96.3 99.1 L96.6 99.1 L96.9 98.9 L97.3 99.0 L97.6 98.9 L97.9 98.8 L98.3 98.7 L98.6 98.7 L98.9 98.6 L99.2 98.6 L99.6 98.6 L99.9 98.5 L100.2 98.4 L100.6 98.2 L100.9 98.3 L101.2 98.2 L101.6 98.3 L101.9 98.5 L102.2 98.4 L102.5 98.4 L102.9 98.4 L103.2 98.0 L103.5 97.8 L103.9 97.7 L104.2 98.0 L104.5 98.0 L104.9 97.9 L105.2 97.8 L105.5 97.6 L105.9 97.6 L106.2 97.6 L106.5 97.6 L106.8 97.6 L107.2 97.2 L107.5 96.7 L107.8 96.0 L108.0 96.0 L108.5 96.8 L108.8 96.9 L109.2 96.9 L109.5 97.0 L109.8 97.3 L110.1 97.3 L110.5 97.2 L110.8 97.0 L111.1 96.9 L111.5 96.8 L111.8 96.7 L112.1 96.8 L112.5 97.0 L112.8 97.1 L113.1 96.9 L113.4 96.9 L113.8 96.8 L114.1 96.7 L114.4 96.6 L114.8 96.6 L115.1 96.5 L115.4 96.5 L115.8 96.5 L116.1 96.5 L116.4 96.6 L116.8 96.7 L117.1 96.8 L117.4 96.8 L117.7 96.8 L118.1 96.8 L118.4 96.7 L118.7 96.7 L119.1 96.8 L119.4 96.6 L119.7 96.5 L120.1 96.4 L120.4 96.5 L120.7 96.3 L121.0 96.2 L121.4 96.0 L121.7 96.0 L122.0 96.0 L122.4 95.9 L122.7 95.9 L123.0 95.9 L123.4 95.9 L123.7 96.1 L124.0 96.0 L124.3 95.8 L124.7 95.7 L125.0 95.5 L125.3 95.5 L125.7 95.6 L126.0 95.7 L126.3 95.7 L126.7 95.8 L127.0 95.7 L127.3 95.6 L127.7 95.4 L128.0 95.3 L128.3 95.2 L128.6 95.1 L129.0 94.9 L129.3 94.8 L129.6 94.8 L130.0 94.9 L130.3 94.9 L130.6 94.7 L131.0 94.6 L131.3 94.5 L131.6 94.6 L131.9 94.5 L132.3 94.4 L132.6 94.3 L132.9 94.4 L133.3 94.5 L133.6 94.3 L133.9 94.2 L134.3 94.1 L134.6 94.0 L134.9 94.2 L135.2 94.1 L135.6 94.0 L135.9 93.8 L136.2 93.5 L136.6 93.3 L136.9 93.3 L137.2 93.3 L137.6 93.2 L137.9 93.1 L138.2 93.0 L138.6 93.1 L138.9 93.2 L139.2 93.1 L139.5 93.2 L139.9 93.0 L140.2 92.8 L140.5 92.7 L140.9 92.6 L141.2 92.4 L141.5 92.4 L141.9 92.2 L142.2 92.2 L142.5 92.1 L142.8 92.0 L143.2 92.1 L143.5 91.9 L143.8 92.0 L144.2 92.0 L144.5 92.0 L144.8 92.1 L145.2 92.0 L145.5 91.9 L145.8 91.6 L146.2 91.3 L146.5 91.5 L146.8 91.6 L147.1 91.7 L147.5 91.6 L147.8 91.7 L148.1 91.4 L148.5 91.4 L148.8 91.3 L149.1 91.3 L149.5 91.2 L149.8 91.1 L150.1 90.8 L150.4 90.9 L150.8 90.9 L151.1 90.8 L151.4 90.9 L151.8 90.9 L152.1 90.8 L152.4 90.6 L152.8 90.6 L153.1 90.4 L153.4 90.4 L153.7 90.4 L154.1 90.3 L154.4 90.3 L154.7 90.2 L155.1 90.3 L155.4 90.3 L155.7 90.2 L156.1 89.9 L156.4 89.6 L156.7 89.6 L157.1 89.8 L157.4 90.0 L157.7 89.8 L158.0 89.9 L158.4 89.8 L158.7 89.7 L159.0 89.7 L159.4 89.6 L159.7 89.7 L160.0 89.6 L160.4 89.5 L160.7 89.5 L161.0 89.2 L161.3 89.2 L161.7 89.0 L162.0 89.0 L162.3 89.0 L162.7 88.9 L163.0 88.9 L163.3 88.9 L163.7 88.9 L164.0 89.1 L164.3 89.1 L164.6 89.0 L165.0 88.7 L165.3 88.6 L165.6 88.5 L166.0 88.5 L166.3 88.5 L166.6 88.5 L167.0 88.5 L167.3 88.3 L167.6 88.0 L168.0 88.0 L168.3 87.9 L168.6 87.8 L168.9 87.7 L169.3 87.7 L169.6 87.4 L169.9 87.1 L170.3 86.7 L170.6 86.5 L170.9 86.0 L171.3 85.3 L171.6 84.4 L171.9 82.8 L172.2 80.7 L172.6 77.6 L172.9 74.4 L173.2 73.2 L173.6 74.9 L173.9 78.0 L174.2 80.8 L174.6 82.7 L174.9 84.0 L175.2 84.9 L175.5 85.7 L175.9 85.9 L176.2 86.0 L176.5 86.2 L176.9 86.5 L177.2 86.9 L177.5 87.0 L177.9 86.9 L178.2 86.7 L178.5 86.9 L178.9 86.8 L179.2 87.1 L179.5 87.4 L179.8 87.6 L180.2 87.6 L180.5 87.6 L180.8 87.7 L181.2 88.0 L181.5 88.0 L181.8 87.8 L182.2 87.5 L182.5 87.7 L182.8 87.9 L183.1 87.9 L183.5 87.8 L183.8 87.9 L184.1 88.0 L184.5 88.2 L184.8 88.1 L185.1 88.0 L185.5 88.1 L185.8 88.4 L186.1 88.7 L186.5 88.5 L186.8 88.4 L187.1 88.4 L187.4 88.4 L187.8 88.6 L188.1 88.6 L188.4 88.6 L188.8 88.5 L189.1 88.4 L189.4 88.5 L189.8 88.7 L190.1 89.1 L190.4 88.9 L190.7 88.7 L191.1 88.6 L191.4 88.7 L191.7 88.7 L192.1 88.8 L192.4 88.8 L192.7 88.9 L193.1 89.2 L193.4 89.2 L193.7 89.2 L194.0 89.0 L194.4 89.1 L194.7 89.2 L195.0 89.2 L195.4 89.3 L195.7 89.2 L196.0 89.3 L196.4 89.5 L196.7 89.5 L197.0 89.5 L197.4 89.3 L197.7 89.4 L198.0 89.3 L198.3 89.5 L198.7 89.7 L199.0 89.8 L199.3 89.7 L199.7 89.4 L200.0 89.6 L200.3 89.6 L200.7 89.7 L201.0 89.8 L201.3 89.8 L201.6 89.8 L202.0 89.8 L202.3 89.8 L202.6 89.7 L203.0 89.8 L203.3 90.1 L203.6 90.2 L204.0 90.4 L204.3 90.5 L204.6 90.5 L204.9 90.3 L205.3 90.3 L205.6 90.1 L205.9 90.0 L206.3 90.0 L206.6 90.1" fill="none" stroke="#2828f0" stroke-width="1.0" stroke-linejoin="round" />
<path d="M46.2 36.9 L46.6 37.5 L46.9 38.2 L47.2 38.9 L47.6 39.7 L47.9 40.6 L48.2 41.3 L48.6 41.9 L48.9 42.7 L49.2 43.5 L49.6 44.3 L49.9 44.8 L50.2 45.1 L50.5 45.1 L50.9 44.8 L51.2 44.3 L51.5 43.6 L51.9 42.8 L52.2 41.8 L52.5 40.8 L52.9 39.9 L53.2 39.1 L53.5 38.6 L53.8 38.4 L54.2 38.5 L54.5 38.7 L54.8 39.2 L55.2 39.8 L55.5 40.5 L55.8 41.1 L56.2 41.6 L56.5 42.1 L56.8 42.4 L57.1 42.6 L57.5 42.8 L57.8 42.8 L58.1 42.8 L58.5 42.7 L58.8 42.4 L59.1 42.1 L59.5 41.9 L59.8 41.6 L60.1 41.0 L60.4 40.4 L60.8 39.6 L61.1 38.6 L61.4 37.1 L61.8 34.8 L62.1 31.4 L62.4 26.5 L62.8 20.3 L63.1 15.6 L63.4 16.5 L63.7 22.1 L64.1 28.0 L64.4 32.4 L64.7 35.3 L65.1 37.4 L65.4 38.8 L65.7 39.6 L66.1 40.2 L66.4 40.6 L66.7 40.7 L67.0 40.8 L67.4 40.6 L67.7 40.3 L68.0 39.7 L68.4 38.8 L68.7 37.5 L69.0 35.5 L69.4 32.4 L69.7 27.9 L70.0 22.0 L70.3 17.1 L70.7 17.2 L71.0 22.4 L71.3 28.3 L71.7 32.8 L72.0 35.9 L72.3 37.9 L72.7 39.3 L73.0 40.4 L73.3 41.4 L73.6 42.2 L74.0 42.8 L74.3 43.6 L74.6 44.6 L75.0 45.9 L75.3 47.5 L75.6 49.4 L76.0 51.4" fill="none" stroke="#ff10ff" stroke-width="1.0" stroke-linejoin="round" />
<path d="M76.0 51.4 L76.3 53.6 L76.6 55.7 L76.9 58.0 L77.3 60.2 L77.6 62.0 L77.9 63.6 L78.3 64.3 L78.6 65.3 L78.9 66.7 L79.3 67.6 L79.6 68.5 L79.9 70.0 L80.2 70.9 L80.6 71.8 L80.9 73.2 L81.2 74.0 L81.6 74.4 L81.9 73.5 L82.2 72.9 L82.6 73.3 L82.9 73.9 L83.2 74.2 L83.5 74.5 L83.9 74.6 L84.2 75.3 L84.5 76.5 L84.9 75.9 L85.2 74.7 L85.5 73.8 L85.9 74.6 L86.2 75.2 L86.5 75.2 L86.8 74.5 L87.2 73.6 L87.5 70.6 L87.8 59.6 L88.1 48.6 L88.5 64.1 L88.8 70.0 L89.2 71.6 L89.5 71.7 L89.8 72.8 L90.1 73.2 L90.5 73.3 L90.8 73.3 L91.1 72.9 L91.5 72.7 L91.8 72.4 L92.1 72.7 L92.5 72.9 L92.8 72.1 L93.1 71.2 L93.4 70.2 L93.8 70.3 L94.1 70.6 L94.4 70.9 L94.8 69.8 L95.1 69.2 L95.4 69.3 L95.8 69.0 L96.1 67.9 L96.4 66.4 L96.7 66.8 L97.1 68.2 L97.4 69.6 L97.7 68.3 L98.1 67.2 L98.4 66.4 L98.7 66.2 L99.1 66.4 L99.4 66.1 L99.7 66.3 L100.0 66.9 L100.4 67.7 L100.7 68.0 L101.0 66.9 L101.4 65.2 L101.6 64.3 L102.0 66.2 L102.4 66.7 L102.7 66.3 L103.0 66.1 L103.3 66.4 L103.7 66.4 L104.0 66.2 L104.3 66.0 L104.7 65.5 L105.0 64.4 L105.3 63.3 L105.7 63.5 L106.0 64.6 L106.3 65.3 L106.6 64.0 L107.0 62.5 L107.3 62.1 L107.6 60.6 L108.1 56.7 L108.3 58.2 L108.6 60.7 L109.0 62.1 L109.3 62.5 L109.6 63.0 L109.9 63.0 L110.3 63.3 L110.6 62.1 L110.9 61.1 L111.3 61.3 L111.6 61.7 L111.9 62.2 L112.3 61.2 L112.6 60.9 L112.9 60.0 L113.2 58.9 L113.6 58.3 L113.9 58.0 L114.2 55.3 L114.6 49.5 L114.9 53.4 L115.2 57.4 L115.6 58.5 L115.9 59.5 L116.2 59.2 L116.5 59.2 L116.9 59.2 L117.2 59.4 L117.5 59.5 L117.9 58.5 L118.2 58.3" fill="none" stroke="#ff10ff" stroke-width="1.2" stroke-linejoin="round" />
<path d="M117.9 58.5 L118.2 58.3 L118.5 58.2 L118.9 58.0 L119.2 57.8 L119.5 57.2 L119.8 56.2 L120.2 56.2 L120.5 56.1 L120.8 56.7 L121.2 56.9 L121.5 57.1 L121.8 56.3 L122.2 56.1 L122.5 55.4 L122.8 55.5 L123.1 55.1 L123.5 54.6 L123.8 54.4 L124.1 54.8 L124.5 54.7 L124.8 54.9 L125.1 55.1 L125.5 55.2 L125.8 54.8 L126.1 54.6 L126.4 54.2 L126.8 53.3 L127.1 53.2 L127.4 53.6 L127.8 53.8 L128.1 53.8 L128.4 53.8 L128.8 53.3 L129.1 53.0 L129.4 52.6 L129.7 52.4 L130.1 52.4 L130.4 52.2 L130.7 52.4 L131.1 52.2 L131.4 52.6 L131.7 52.5 L132.1 52.4 L132.4 52.5 L132.7 52.2 L133.0 51.3 L133.4 50.3 L133.7 50.1 L134.0 50.3 L134.4 50.4 L134.7 50.3 L135.0 50.4 L135.4 50.2 L135.7 50.2 L136.0 50.2 L136.3 50.4 L136.7 50.6 L137.0 50.5 L137.3 50.2 L137.7 50.4 L138.0 50.6" fill="none" stroke="#ff10ff" stroke-width="1.0" stroke-linejoin="round" />
<path d="M138.8 47.7 L139.1 47.5 L139.4 47.4 L139.7 47.4 L140.1 47.4 L140.4 47.5 L140.7 47.5 L141.1 47.4 L141.4 47.3 L141.7 47.3 L142.0 47.3 L142.4 47.3 L142.7 47.3 L143.0 47.2 L143.4 47.2 L143.7 47.3 L144.0 47.4 L144.3 47.6 L144.7 47.5 L145.0 47.6 L145.3 47.4 L145.7 47.3 L146.0 47.2 L146.3 47.3 L146.7 47.3 L147.0 47.5 L147.3 47.6 L147.6 47.6 L148.0 47.6 L148.3 47.6 L148.6 47.6 L149.0 47.5 L149.3 47.5 L149.6 47.3 L149.9 47.1 L150.3 47.2 L150.6 47.2 L150.9 47.2 L151.3 47.3 L151.6 47.3 L151.9 47.4 L152.3 47.4 L152.6 47.5 L152.9 47.6 L153.2 47.5 L153.6 47.5 L153.9 47.3 L154.2 47.2 L154.6 47.2 L154.9 47.2 L155.2 47.2 L155.5 47.3 L155.9 47.4 L156.2 47.4 L156.5 47.5 L156.9 47.5 L157.2 47.5 L157.5 47.5 L157.9 47.3 L158.2 47.4 L158.5 47.4 L158.8 47.5 L159.2 47.3 L159.5 47.2 L159.8 47.3 L160.2 47.2 L160.5 47.3 L160.8 47.3 L161.1 47.3 L161.5 47.4 L161.8 47.4 L162.1 47.6 L162.5 47.5 L162.8 47.6 L163.1 47.4 L163.5 47.2 L163.8 47.3 L164.1 47.4 L164.4 47.4 L164.8 47.5 L165.1 47.5 L165.4 47.5 L165.8 47.5 L166.1 47.4 L166.4 47.4 L166.7 47.3 L167.1 47.3 L167.4 47.3 L167.7 47.3 L168.1 47.2 L168.4 47.3 L168.7 47.3 L169.0 47.2 L169.4 47.1 L169.7 47.0 L170.0 46.7 L170.4 46.5 L170.7 46.2 L171.0 46.0 L171.4 45.8 L171.7 45.4 L172.0 44.8 L172.3 44.1 L172.7 43.7 L173.0 43.4 L173.3 43.7 L173.7 44.3 L174.0 44.9 L174.3 45.4 L174.6 45.9 L175.0 46.3 L175.3 46.5 L175.6 46.7 L176.0 46.8 L176.3 46.8 L176.6 47.0 L177.0 47.0 L177.3 46.9 L177.6 46.7 L177.9 46.4 L178.3 45.8 L178.5 45.6 L178.9 46.5 L179.3 46.9 L179.6 47.1 L179.9 47.3 L180.2 47.5 L180.6 47.5 L180.9 47.5 L181.2 47.6 L181.6 47.5 L181.9 47.5 L182.2 47.4 L182.6 47.3 L182.9 47.3 L183.2 47.4 L183.5 47.5 L183.9 47.4 L184.2 47.4 L184.5 47.4 L184.9 47.6 L185.2 47.7 L185.5 47.7 L185.8 47.6 L186.2 47.5 L186.5 47.4 L186.8 47.3 L187.2 47.3 L187.5 47.3 L187.8 47.3 L188.2 47.4 L188.5 47.4 L188.8 47.5 L189.1 47.6 L189.5 47.6 L189.8 47.6 L190.1 47.6 L190.5 47.5 L190.8 47.4 L191.1 47.4 L191.4 47.3 L191.8 47.4 L192.1 47.6 L192.4 47.7 L192.8 47.6 L193.1 47.6 L193.4 47.5 L193.8 47.4" fill="none" stroke="#ff10ff" stroke-width="0.8" stroke-linejoin="round" opacity="0.85"/>
<line x1="87.60" y1="51.00" x2="87.60" y2="118.60" stroke="#f01818" stroke-width="1.35" stroke-dasharray="3.4 1.9"/>
<line x1="96.30" y1="69.00" x2="96.30" y2="118.60" stroke="#f01818" stroke-width="1.35" stroke-dasharray="3.4 1.9"/>
<line x1="101.50" y1="67.50" x2="101.50" y2="118.60" stroke="#f01818" stroke-width="1.35" stroke-dasharray="3.4 1.9"/>
<line x1="107.80" y1="64.00" x2="107.80" y2="118.60" stroke="#f01818" stroke-width="1.35" stroke-dasharray="3.4 1.9"/>
<line x1="114.60" y1="47.20" x2="114.60" y2="118.60" stroke="#f01818" stroke-width="1.35" stroke-dasharray="3.4 1.9"/>
<line x1="173.00" y1="46.80" x2="173.00" y2="118.60" stroke="#f01818" stroke-width="1.35" stroke-dasharray="3.4 1.9"/>
<line x1="178.70" y1="46.80" x2="178.70" y2="118.60" stroke="#f01818" stroke-width="1.35" stroke-dasharray="3.4 1.9"/>
<ellipse cx="66.2" cy="65" rx="14.5" ry="65.7" fill="none" stroke="#f01010" stroke-width="1.6" stroke-dasharray="3.8 2.5" transform="rotate(0.6 66.2 65)"/>
<line x1="43.50" y1="15.00" x2="43.50" y2="126.00" stroke="#444444" stroke-width="1" />
<line x1="43.00" y1="125.50" x2="207.60" y2="125.50" stroke="#444444" stroke-width="1" />
<line x1="43.85" y1="125.50" x2="43.85" y2="128.10" stroke="#666" stroke-width="0.9" />
<text x="43.85" y="136.80" font-size="9.7" fill="#111" text-anchor="middle" font-weight="normal" >0</text>
<line x1="87.90" y1="125.50" x2="87.90" y2="128.10" stroke="#666" stroke-width="0.9" />
<text x="87.90" y="136.80" font-size="9.7" fill="#111" text-anchor="middle" font-weight="normal" >1000</text>
<line x1="131.95" y1="125.50" x2="131.95" y2="128.10" stroke="#666" stroke-width="0.9" />
<text x="131.95" y="136.80" font-size="9.7" fill="#111" text-anchor="middle" font-weight="normal" >2000</text>
<line x1="176.00" y1="125.50" x2="176.00" y2="128.10" stroke="#666" stroke-width="0.9" />
<text x="176.00" y="136.80" font-size="9.7" fill="#111" text-anchor="middle" font-weight="normal" >3000</text>
<line x1="65.88" y1="125.50" x2="65.88" y2="127.10" stroke="#666" stroke-width="0.8" />
<line x1="109.92" y1="125.50" x2="109.92" y2="127.10" stroke="#666" stroke-width="0.8" />
<line x1="153.97" y1="125.50" x2="153.97" y2="127.10" stroke="#666" stroke-width="0.8" />
<line x1="198.02" y1="125.50" x2="198.02" y2="127.10" stroke="#666" stroke-width="0.8" />
<line x1="40.90" y1="24.20" x2="43.50" y2="24.20" stroke="#555" stroke-width="0.9" />
<text x="40.20" y="27.60" font-size="9.7" fill="#111" text-anchor="end" font-weight="normal" >20000</text>
<line x1="40.90" y1="42.85" x2="43.50" y2="42.85" stroke="#555" stroke-width="0.9" />
<text x="40.20" y="46.25" font-size="9.7" fill="#111" text-anchor="end" font-weight="normal" >10000</text>
<line x1="40.90" y1="58.60" x2="43.50" y2="58.60" stroke="#555" stroke-width="0.9" />
<text x="40.20" y="62.00" font-size="9.7" fill="#111" text-anchor="end" font-weight="normal" >7000</text>
<line x1="40.90" y1="77.60" x2="43.50" y2="77.60" stroke="#555" stroke-width="0.9" />
<text x="40.20" y="81.00" font-size="9.7" fill="#111" text-anchor="end" font-weight="normal" >6000</text>
<line x1="40.90" y1="96.70" x2="43.50" y2="96.70" stroke="#555" stroke-width="0.9" />
<text x="40.20" y="100.10" font-size="9.7" fill="#111" text-anchor="end" font-weight="normal" >5000</text>
<line x1="40.90" y1="115.90" x2="43.50" y2="115.90" stroke="#555" stroke-width="0.9" />
<text x="40.20" y="119.30" font-size="9.7" fill="#111" text-anchor="end" font-weight="normal" >4000</text>
<line x1="41.90" y1="33.50" x2="43.50" y2="33.50" stroke="#555" stroke-width="0.8" />
<line x1="41.90" y1="68.10" x2="43.50" y2="68.10" stroke="#555" stroke-width="0.8" />
<line x1="41.90" y1="87.20" x2="43.50" y2="87.20" stroke="#555" stroke-width="0.8" />
<line x1="41.90" y1="106.30" x2="43.50" y2="106.30" stroke="#555" stroke-width="0.8" />
<line x1="41.20" y1="48.00" x2="46.00" y2="46.40" stroke="#444444" stroke-width="0.8" />
<line x1="41.20" y1="49.60" x2="46.00" y2="48.00" stroke="#444444" stroke-width="0.8" />
<text x="117.80" y="146.00" font-size="9.5" fill="#111" text-anchor="middle" font-weight="normal" >Wavenumber / <tspan font-style="italic">cm</tspan><tspan font-style="italic" font-size="6.5" dy="-3.8">-1</tspan></text>
<text transform="translate(11.10 62.70) rotate(-90)" font-size="9.35" fill="#111" text-anchor="middle" font-weight="normal" >Offset Intensity / <tspan font-style="italic">cts</tspan></text>
<rect x="90.30" y="13.10" width="104.10" height="29.90" fill="#fff" stroke="#a6a6a6" stroke-width="0.9" />
<line x1="91.00" y1="18.20" x2="108.80" y2="18.20" stroke="#ff30ff" stroke-width="0.8" />
<text x="111.50" y="21.10" font-size="8.0" fill="#111" text-anchor="start" font-weight="normal" >Paint #5;</text>
<line x1="91.00" y1="28.20" x2="108.80" y2="28.20" stroke="#5050f0" stroke-width="0.8" />
<text x="111.50" y="31.10" font-size="8.0" fill="#111" text-anchor="start" font-weight="normal" >Paint #3;</text>
<line x1="91.00" y1="37.90" x2="108.80" y2="37.90" stroke="#a9a9a9" stroke-width="1.9" />
<text x="111.50" y="40.80" font-size="8.0" fill="#111" text-anchor="start" font-weight="normal" >Paint #1;</text>
<line x1="144.00" y1="18.20" x2="162.30" y2="18.20" stroke="#50f0f0" stroke-width="0.8" />
<text x="164.60" y="21.10" font-size="8.0" fill="#111" text-anchor="start" font-weight="normal" >Paint #4</text>
<line x1="144.00" y1="28.20" x2="162.30" y2="28.20" stroke="#f05050" stroke-width="0.8" />
<text x="164.60" y="31.10" font-size="8.0" fill="#111" text-anchor="start" font-weight="normal" >Paint #2</text>
<line x1="144.00" y1="37.90" x2="162.30" y2="37.90" stroke="#90ee90" stroke-width="1.9" />
<text x="164.60" y="40.80" font-size="8.0" fill="#111" text-anchor="start" font-weight="normal" >ABS</text>
<text x="-0.60" y="21.10" font-size="24.5" fill="#000" text-anchor="start" font-weight="bold" >a</text>
<path d="M209 108 H217 V105.6 L222.6 110.3 L217 115 V112.5 H209 Z" fill="#000"/>
<line x1="198.10" y1="113.00" x2="201.90" y2="137.40" stroke="#222" stroke-width="0.8" />
<path d="M198.7 136.9 L205 136.9 L202.3 142.8 Z" fill="#111"/>
<line x1="204.70" y1="112.50" x2="241.40" y2="139.50" stroke="#222" stroke-width="0.8" />
<path d="M244.8 142.8 L238.1 141.9 L243.1 136.9 Z" fill="#111"/>
</g>
<g id="pb">
<path d="M255.2 118.5 L255.5 118.5 L255.9 118.5 L256.2 118.6 L256.5 118.5 L256.9 118.5 L257.2 118.5 L257.5 118.4 L257.8 118.4 L258.2 118.4 L258.5 118.4 L258.8 118.3 L259.2 118.2 L259.5 117.9 L259.8 117.6 L260.2 117.2 L260.5 116.7 L260.8 116.2 L261.1 115.8 L261.5 115.4 L261.8 115.0 L262.1 114.6 L262.5 114.2 L262.8 113.8 L263.1 113.5 L263.5 113.3 L263.8 113.2 L264.1 113.3 L264.4 113.5 L264.8 113.9 L265.1 114.2 L265.4 114.6 L265.8 114.9 L266.1 115.2 L266.4 115.4 L266.8 115.7 L267.1 115.9 L267.4 116.0 L267.7 116.0 L268.1 116.0 L268.4 115.8 L268.7 115.6 L269.1 115.4 L269.4 115.1 L269.7 114.9 L270.1 114.8 L270.4 114.7 L270.7 114.4 L271.0 114.1 L271.4 113.8 L271.7 113.4 L272.0 112.6 L272.4 111.2 L272.7 108.9 L273.0 105.3 L273.4 101.8 L273.7 102.2 L274.0 106.2 L274.3 109.8 L274.7 112.0 L275.0 113.4 L275.3 114.2 L275.7 114.8 L276.0 115.2 L276.3 115.5 L276.7 115.8 L277.0 115.8 L277.3 115.8 L277.6 115.7 L278.0 115.5 L278.3 115.3 L278.6 115.0 L279.0 114.8 L279.3 114.4 L279.6 113.9 L280.0 113.1 L280.3 111.8 L280.6 109.7 L280.9 106.6 L281.3 103.8 L281.6 104.6 L281.9 107.9 L282.3 111.0 L282.6 113.1 L282.9 114.5 L283.3 115.5 L283.6 116.1 L283.9 116.6 L284.2 117.1 L284.6 117.4 L284.9 117.8 L285.2 118.1 L285.6 118.3 L285.9 118.5 L286.2 118.7 L286.6 119.0 L286.9 119.1 L287.2 119.4 L287.5 119.5 L287.9 119.6 L288.2 119.8 L288.5 119.9 L288.9 120.0 L289.2 120.2 L289.5 120.3 L289.9 120.4 L290.2 120.5 L290.5 120.5 L290.8 120.7 L291.2 120.8 L291.5 120.9 L291.8 120.9 L292.2 121.0 L292.5 121.1 L292.8 121.2 L293.2 121.2 L293.5 121.2 L293.8 121.2 L294.1 121.1 L294.5 121.1 L294.8 121.2 L295.1 121.2 L295.5 121.3 L295.8 121.3 L296.1 121.4 L296.5 121.5 L296.8 121.5 L297.1 121.5 L297.5 121.6 L297.8 121.5 L298.1 121.5 L298.4 121.5 L298.8 121.4 L299.1 121.4 L299.4 121.4 L299.8 121.5 L300.1 121.6 L300.4 121.5 L300.8 121.4 L301.1 121.4 L301.4 121.4 L301.7 121.4 L302.1 121.5 L302.4 121.5 L302.7 121.5 L303.1 121.5 L303.4 121.5 L303.7 121.4 L304.1 121.4 L304.4 121.4 L304.7 121.4 L305.0 121.4 L305.4 121.4 L305.7 121.4 L306.0 121.5 L306.4 121.5 L306.7 121.6 L307.0 121.6 L307.4 121.6 L307.7 121.5 L308.0 121.5 L308.3 121.4 L308.7 121.4 L309.0 121.4 L309.3 121.5 L309.7 121.5 L310.0 121.5 L310.3 121.6 L310.7 121.6 L311.0 121.6 L311.3 121.6 L311.6 121.5 L312.0 121.4 L312.3 121.5 L312.6 121.6 L313.0 121.6 L313.3 121.5 L313.6 121.4 L314.0 121.5 L314.3 121.5 L314.6 121.5 L314.9 121.5 L315.3 121.5 L315.6 121.5 L315.9 121.6 L316.3 121.6 L316.6 121.6 L316.9 121.5 L317.3 121.5 L317.6 121.4 L317.9 121.5 L318.2 121.6 L318.6 121.6 L318.9 121.6 L319.2 121.6 L319.6 121.6 L319.9 121.7 L320.2 121.6 L320.6 121.7 L320.9 121.6 L321.2 121.6 L321.5 121.5 L321.9 121.5 L322.2 121.5 L322.5 121.5 L322.9 121.5 L323.2 121.4 L323.5 121.5 L323.9 121.5 L324.2 121.5 L324.5 121.5 L324.8 121.6 L325.2 121.6 L325.5 121.5 L325.8 121.6 L326.2 121.6 L326.5 121.6 L326.8 121.7 L327.2 121.7 L327.5 121.7 L327.8 121.6 L328.1 121.6 L328.5 121.5 L328.8 121.5 L329.1 121.5 L329.5 121.5 L329.8 121.6 L330.1 121.6 L330.5 121.7 L330.8 121.6 L331.1 121.5 L331.4 121.4 L331.8 121.5 L332.1 121.5 L332.4 121.6 L332.8 121.6 L333.1 121.7 L333.4 121.6 L333.8 121.6 L334.1 121.6 L334.4 121.5 L334.8 121.5 L335.1 121.5 L335.4 121.5 L335.7 121.5 L336.1 121.5 L336.4 121.5 L336.7 121.5 L337.1 121.5 L337.4 121.6 L337.7 121.7 L338.1 121.6 L338.4 121.7 L338.7 121.6 L339.0 121.6 L339.4 121.5 L339.7 121.5 L340.0 121.5 L340.4 121.5 L340.7 121.6 L341.0 121.6 L341.4 121.7 L341.7 121.7 L342.0 121.6 L342.3 121.6 L342.7 121.5 L343.0 121.6 L343.3 121.5 L343.7 121.6 L344.0 121.6 L344.3 121.6 L344.7 121.5 L345.0 121.5 L345.3 121.6 L345.6 121.5 L346.0 121.6 L346.3 121.7 L346.6 121.7 L347.0 121.6 L347.3 121.6 L347.6 121.6 L348.0 121.6 L348.3 121.7 L348.6 121.7 L348.9 121.7 L349.3 121.6 L349.6 121.6 L349.9 121.6 L350.3 121.7 L350.6 121.7 L350.9 121.6 L351.3 121.6 L351.6 121.6 L351.9 121.7 L352.2 121.7 L352.6 121.6 L352.9 121.6 L353.2 121.6 L353.6 121.6 L353.9 121.6 L354.2 121.7 L354.6 121.7 L354.9 121.6 L355.2 121.6 L355.5 121.6 L355.9 121.5 L356.2 121.6 L356.5 121.6 L356.9 121.7 L357.2 121.7 L357.5 121.6 L357.9 121.7 L358.2 121.7 L358.5 121.6 L358.8 121.7 L359.2 121.7 L359.5 121.6 L359.8 121.6 L360.2 121.6 L360.5 121.7 L360.8 121.8 L361.2 121.7 L361.5 121.7 L361.8 121.7 L362.1 121.7 L362.5 121.7 L362.8 121.7 L363.1 121.6 L363.5 121.6 L363.8 121.6 L364.1 121.6 L364.5 121.6 L364.8 121.6 L365.1 121.6 L365.4 121.7 L365.8 121.8 L366.1 121.7 L366.4 121.7 L366.8 121.7 L367.1 121.6 L367.4 121.6 L367.8 121.6 L368.1 121.6 L368.4 121.7 L368.7 121.8 L369.1 121.7 L369.4 121.7 L369.7 121.6 L370.1 121.7 L370.4 121.8 L370.7 121.7 L371.1 121.6 L371.4 121.6 L371.7 121.6 L372.1 121.6 L372.4 121.7 L372.7 121.8 L373.0 121.8 L373.4 121.7 L373.7 121.6 L374.0 121.6 L374.4 121.6 L374.7 121.6 L375.0 121.7 L375.4 121.7 L375.7 121.7 L376.0 121.7 L376.3 121.7 L376.7 121.7 L377.0 121.7 L377.3 121.7 L377.7 121.6 L378.0 121.7 L378.3 121.7 L378.7 121.7 L379.0 121.7 L379.3 121.7 L379.6 121.7 L380.0 121.8 L380.3 121.8 L380.6 121.8 L381.0 121.8 L381.3 121.8 L381.6 121.8 L382.0 121.7 L382.3 121.7 L382.6 121.7 L382.9 121.7 L383.3 121.7 L383.6 121.7 L383.9 121.7 L384.3 121.8 L384.6 121.8 L384.9 121.7 L385.3 121.8 L385.6 121.7 L385.9 121.7 L386.2 121.6 L386.6 121.6 L386.9 121.6 L387.2 121.6 L387.6 121.5 L387.9 121.4 L388.2 121.4 L388.6 121.2 L388.9 121.1 L389.2 121.1 L389.5 121.0 L389.9 121.1 L390.2 121.2 L390.5 121.3 L390.9 121.5 L391.2 121.6 L391.5 121.6 L391.9 121.6 L392.2 121.6 L392.5 121.6 L392.8 121.6 L393.2 121.6 L393.5 121.6 L393.8 121.6 L394.2 121.7 L394.5 121.7 L394.8 121.7 L395.2 121.7 L395.5 121.8 L395.8 121.8 L396.1 121.8 L396.5 121.8 L396.8 121.9 L397.1 121.8 L397.5 121.7 L397.8 121.7 L398.1 121.8 L398.5 121.7 L398.8 121.7 L399.1 121.7 L399.4 121.7 L399.8 121.7 L400.1 121.7 L400.4 121.7 L400.8 121.8 L401.1 121.7 L401.4 121.7 L401.8 121.7 L402.1 121.8 L402.4 121.8 L402.7 121.8 L403.1 121.8 L403.4 121.8 L403.7 121.9 L404.1 121.9 L404.4 121.8 L404.7 121.7 L405.1 121.7 L405.4 121.8 L405.7 121.8 L406.0 121.8 L406.4 121.7 L406.7 121.8 L407.0 121.8 L407.4 121.9 L407.7 121.9 L408.0 121.9 L408.4 121.9 L408.7 121.8 L409.0 121.8 L409.3 121.8 L409.7 121.7 L410.0 121.7 L410.3 121.8 L410.7 121.8 L411.0 121.8" fill="none" stroke="#ff10ff" stroke-width="1.0" stroke-linejoin="round" />
<path d="M254.7 72.8 L255.0 75.5 L255.4 78.4 L255.7 80.8 L256.0 83.4 L256.3 85.8 L256.7 87.8 L257.0 89.6 L257.3 91.0 L257.7 92.2 L258.0 93.2 L258.3 94.0 L258.7 94.7 L259.0 95.4 L259.3 95.9 L259.6 96.4 L260.0 96.9 L260.3 97.4 L260.6 98.3 L261.0 99.0 L261.3 99.3 L261.6 99.5 L262.0 99.6 L262.3 99.9 L262.6 100.2 L262.9 100.2 L263.3 100.1 L263.6 100.1 L263.9 100.4 L264.3 100.6 L264.6 100.8 L264.9 101.1 L265.3 101.0 L265.6 100.9 L265.9 100.7 L266.2 100.6 L266.6 100.5 L266.9 100.5 L267.2 100.7 L267.6 100.8 L267.9 100.6 L268.2 100.3 L268.6 100.2 L268.9 100.0 L269.2 100.0 L269.5 99.8 L269.9 99.7 L270.2 99.8 L270.5 99.9 L270.9 99.9 L271.2 99.8 L271.5 99.7 L271.9 99.7 L272.2 99.6 L272.5 99.6 L272.8 99.4 L273.2 99.3 L273.5 99.2 L273.8 99.2 L274.2 99.0 L274.5 98.9 L274.8 98.8 L275.2 98.5 L275.5 98.1 L275.8 98.0 L276.1 97.9 L276.5 97.8 L276.8 97.6 L277.1 97.5 L277.5 97.3 L277.8 97.2 L278.1 97.0 L278.5 96.9 L278.8 96.8 L279.1 97.1 L279.4 97.3 L279.8 97.5 L280.1 97.6 L280.4 97.7 L280.8 98.0 L281.1 98.3 L281.4 98.8 L281.8 99.5 L282.1 100.1 L282.4 100.4 L282.7 101.0 L283.1 101.7 L283.4 102.5 L283.7 103.3 L284.1 104.0 L284.4 104.7 L284.7 105.1 L285.1 105.7 L285.4 106.0 L285.7 106.4 L286.0 106.7 L286.4 107.0 L286.7 107.4 L287.0 107.4 L287.4 107.5 L287.7 107.2 L288.0 107.0 L288.3 106.8 L288.7 106.8 L289.0 106.7 L289.3 106.6 L289.7 106.4 L290.0 105.7 L290.3 103.6 L290.5 103.1 L291.0 105.8 L291.3 106.6 L291.6 107.0 L292.0 107.0 L292.3 106.9 L292.6 107.0 L293.0 107.0 L293.3 107.0 L293.6 106.7 L294.0 106.5 L294.3 106.2 L294.6 106.1 L294.9 105.9 L295.3 105.8 L295.6 105.6 L295.9 105.4 L296.3 105.2 L296.6 105.0 L296.9 104.8 L297.3 104.4 L297.6 104.0 L297.9 103.7 L298.2 103.3 L298.6 103.0 L298.9 102.6 L299.2 102.2 L299.6 101.9 L299.9 101.4 L300.2 100.9 L300.6 100.4 L300.9 100.0 L301.2 99.5 L301.5 99.1 L301.9 98.6 L302.2 98.0 L302.5 97.5 L302.9 97.0 L303.2 96.8 L303.5 96.6 L303.9 96.6 L304.2 96.7 L304.5 96.8 L304.8 96.9 L305.2 97.3 L305.5 98.1 L305.8 99.0 L306.2 99.6 L306.5 100.0 L306.8 100.6 L307.2 101.3 L307.5 102.2 L307.8 103.0 L308.1 104.0 L308.5 104.6 L308.8 104.9 L309.1 105.2 L309.5 105.7 L309.8 106.0 L310.1 106.3 L310.5 106.7 L310.8 106.9 L311.1 107.2 L311.4 107.4 L311.8 107.4 L312.1 107.4 L312.4 107.6 L312.8 107.8 L313.1 107.9 L313.4 107.9 L313.8 108.0 L314.1 108.0 L314.4 108.2 L314.7 108.3 L315.1 108.1 L315.4 107.9 L315.7 108.0 L316.1 108.2 L316.4 108.2 L316.7 107.9 L317.1 107.7 L317.4 107.7 L317.7 107.7 L318.0 107.7 L318.4 107.6 L318.7 107.6 L319.0 107.3 L319.4 106.7 L319.7 105.0 L320.0 102.0 L320.2 101.2 L320.7 105.0 L321.0 107.0 L321.3 107.5 L321.7 107.7 L322.0 107.6 L322.3 107.7 L322.7 107.7 L323.0 107.9 L323.3 107.8 L323.6 107.9 L324.0 108.2 L324.3 108.4 L324.6 108.2 L325.0 108.1 L325.3 108.0 L325.6 108.2 L326.0 108.3 L326.3 108.3 L326.6 108.5 L326.9 108.4 L327.3 108.4 L327.6 108.3 L327.9 108.2 L328.3 108.0 L328.6 108.1 L328.9 108.4 L329.3 108.4 L329.6 108.3 L329.9 108.2 L330.2 108.1 L330.6 107.9 L330.9 107.9 L331.2 108.0 L331.6 108.0 L331.9 108.1 L332.2 108.0 L332.6 108.0 L332.9 107.4 L333.2 106.0 L333.5 104.7 L333.9 106.2 L334.2 107.3 L334.5 107.6 L334.9 107.7 L335.2 107.8 L335.5 107.8 L335.9 107.9 L336.2 108.0 L336.5 108.2 L336.8 108.3 L337.2 108.4 L337.5 108.3 L337.8 108.3 L338.2 108.2 L338.5 107.9 L338.8 107.9 L339.2 108.1 L339.5 108.3 L339.8 108.1 L340.1 107.8 L340.5 107.9 L340.8 108.1 L341.1 108.3 L341.5 108.3 L341.8 108.3 L342.1 108.0 L342.5 107.8 L342.8 107.6 L343.1 107.9 L343.4 108.1 L343.8 108.2 L344.1 107.9 L344.4 107.8 L344.8 107.9 L345.1 108.1 L345.4 108.0 L345.8 108.2 L346.1 108.1 L346.4 107.8 L346.7 107.7 L347.1 107.7 L347.4 107.7 L347.7 107.7 L348.1 107.6 L348.4 107.5 L348.7 107.4 L349.0 107.4 L349.4 107.6 L349.7 107.7 L350.0 107.8 L350.4 107.9 L350.7 108.1 L351.0 107.9 L351.4 107.6 L351.7 107.6 L352.0 107.5 L352.3 107.5 L352.7 107.5 L353.0 107.5 L353.3 107.5 L353.7 107.8 L354.0 107.9 L354.3 107.8 L354.7 107.7 L355.0 107.5 L355.3 107.4 L355.6 107.3 L356.0 107.3 L356.3 107.4 L356.6 107.5 L357.0 107.8 L357.3 107.7 L357.6 107.7 L358.0 107.5 L358.3 107.5 L358.6 107.4 L358.9 107.5 L359.3 107.4 L359.6 107.3 L359.9 107.1 L360.3 106.8 L360.6 106.6 L360.9 106.3 L361.3 106.1 L361.6 105.9 L361.9 105.6 L362.2 105.4 L362.6 105.1 L362.9 105.0 L363.2 104.9 L363.6 104.8 L363.9 104.3 L364.2 104.0 L364.6 103.7 L364.9 103.8 L365.2 103.7 L365.5 103.4 L365.9 103.2 L366.2 103.4 L366.5 103.7 L366.9 103.8 L367.2 103.6 L367.5 103.4 L367.9 103.7 L368.2 103.8 L368.5 103.9 L368.8 103.8 L369.2 103.8 L369.5 103.8 L369.8 103.7 L370.2 103.8 L370.5 103.9 L370.8 104.0 L371.2 104.1 L371.5 104.1 L371.8 104.1 L372.1 104.2 L372.5 104.1 L372.8 104.5 L373.1 104.7 L373.5 104.7 L373.8 104.6 L374.1 104.6 L374.5 104.8 L374.8 104.8 L375.1 104.7 L375.4 104.8 L375.8 104.6 L376.1 104.4 L376.4 104.3 L376.8 104.3 L377.1 104.6 L377.4 104.5 L377.8 104.6 L378.1 104.5 L378.4 104.3 L378.7 104.1 L379.1 104.1 L379.4 104.2 L379.7 104.2 L380.1 104.1 L380.4 103.9 L380.7 103.9 L381.0 103.8 L381.4 103.8 L381.7 104.0 L382.0 104.0 L382.4 104.0 L382.7 103.9 L383.0 103.5 L383.4 103.1 L383.7 103.1 L384.0 103.0 L384.3 103.1 L384.7 102.8 L385.0 102.4 L385.3 102.0 L385.7 101.6 L386.0 100.9 L386.3 100.2 L386.7 99.3 L387.0 98.2 L387.3 96.9 L387.6 95.3 L388.0 93.4 L388.3 91.0 L388.6 88.0 L389.0 85.0 L389.3 82.6 L389.6 81.6 L390.0 82.7 L390.3 85.4 L390.6 88.6 L390.9 91.4 L391.3 93.5 L391.6 95.3 L391.9 96.8 L392.3 98.1 L392.6 99.1 L392.9 99.9 L393.3 100.4 L393.6 100.7 L393.9 100.9 L394.2 101.3 L394.6 101.7 L394.9 101.9 L395.2 102.2 L395.6 102.4 L395.9 102.8 L396.2 103.2 L396.6 103.2 L396.9 103.4 L397.2 103.5 L397.5 103.6 L397.9 103.7 L398.2 104.1 L398.5 104.4 L398.9 104.6 L399.2 104.5 L399.5 104.4 L399.9 104.5 L400.2 104.6 L400.5 104.7 L400.8 104.6 L401.2 104.6 L401.5 104.6 L401.8 104.7 L402.2 104.7 L402.5 104.4 L402.8 104.3 L403.2 104.3 L403.5 104.2 L403.8 104.3 L404.1 104.3 L404.5 104.2 L404.8 104.3 L405.1 104.2 L405.5 104.3 L405.8 104.2 L406.1 104.2 L406.5 104.1 L406.8 104.1 L407.1 104.0 L407.4 103.8 L407.8 103.9 L408.1 104.0 L408.4 104.1 L408.8 104.1 L409.1 104.1 L409.4 104.2 L409.8 104.1 L410.1 104.1 L410.4 103.9 L410.7 103.7 L411.1 103.7 L411.4 103.7" fill="none" stroke="#18e8ee" stroke-width="1.0" stroke-linejoin="round" />
<path d="M255.2 66.7 L255.5 69.0 L255.9 71.4 L256.2 73.3 L256.5 75.1 L256.8 76.9 L257.2 78.7 L257.5 80.3 L257.8 81.8 L258.2 83.2 L258.5 84.2 L258.8 84.7 L259.2 85.0 L259.5 85.7 L259.8 86.0 L260.1 86.3 L260.5 86.6 L260.8 86.7 L261.1 86.6 L261.5 86.6 L261.8 86.9 L262.1 87.3 L262.5 87.6 L262.8 87.6 L263.1 87.7 L263.4 87.9 L263.8 88.2 L264.1 88.2 L264.4 88.0 L264.8 87.8 L265.1 87.8 L265.4 87.7 L265.8 87.8 L266.1 87.8 L266.4 87.9 L266.7 88.0 L267.1 87.9 L267.4 87.9 L267.7 87.7 L268.1 87.6 L268.4 87.8 L268.7 87.8 L269.0 87.6 L269.4 87.4 L269.7 87.2 L270.0 87.2 L270.4 87.1 L270.7 87.0 L271.0 86.9 L271.4 86.8 L271.7 86.9 L272.0 86.9 L272.3 86.9 L272.7 86.7 L273.0 86.6 L273.3 86.6 L273.7 86.5 L274.0 86.5 L274.3 86.4 L274.7 86.4 L275.0 86.3 L275.3 86.1 L275.6 85.7 L276.0 85.5 L276.3 85.5 L276.6 85.5 L277.0 85.3 L277.3 85.0 L277.6 84.7 L278.0 84.5 L278.3 84.2 L278.6 84.2 L278.9 84.5 L279.3 84.7 L279.6 84.6 L279.9 84.7 L280.3 84.9 L280.6 85.2 L280.9 85.3 L281.2 85.6 L281.6 85.8 L281.9 86.3 L282.2 86.6 L282.6 86.8 L282.9 87.0 L283.2 87.2 L283.6 87.5 L283.9 87.8 L284.2 88.2 L284.5 88.6 L284.9 88.9 L285.2 88.7 L285.5 88.8 L285.9 89.0 L286.2 89.3 L286.5 89.5 L286.9 89.5 L287.2 89.4 L287.5 89.1 L287.8 88.7 L288.2 88.7 L288.5 88.9 L288.8 89.0 L289.2 89.0 L289.5 88.8 L289.8 88.6 L290.2 88.2 L290.5 88.1 L290.8 87.9 L291.1 87.9 L291.5 87.9 L291.8 88.0 L292.1 88.1 L292.5 88.3 L292.8 88.3 L293.1 88.2 L293.4 88.3 L293.8 88.2 L294.1 88.1 L294.4 88.1 L294.8 87.8 L295.1 87.5 L295.4 87.5 L295.8 87.8 L296.1 87.9 L296.4 87.6 L296.7 87.4 L297.1 87.3 L297.4 87.4 L297.7 87.1 L298.1 86.8 L298.4 86.3 L298.7 85.3 L299.1 82.9 L299.4 78.7 L299.7 81.9 L300.0 84.1 L300.4 84.3 L300.7 84.2 L301.0 83.9 L301.4 83.7 L301.7 83.4 L302.0 83.1 L302.4 82.7 L302.7 82.1 L303.0 81.3 L303.3 80.9 L303.7 80.6 L304.0 80.6 L304.3 80.6 L304.7 80.5 L305.0 80.9 L305.3 81.2 L305.6 81.7 L306.0 82.1 L306.3 82.6 L306.6 83.0 L307.0 83.3 L307.3 83.8 L307.6 84.5 L308.0 85.2 L308.3 85.5 L308.6 85.7 L308.9 86.1 L309.3 86.6 L309.6 87.1 L309.9 87.3 L310.3 87.4 L310.6 87.2 L310.9 87.1 L311.3 86.9 L311.6 87.0 L311.9 87.2 L312.2 87.0 L312.6 87.0 L312.9 87.0 L313.2 87.1 L313.6 87.1 L313.9 87.1 L314.2 87.1 L314.6 87.0 L314.9 86.8 L315.2 86.7 L315.5 86.7 L315.9 86.7 L316.2 86.7 L316.5 86.7 L316.9 86.8 L317.2 87.0 L317.5 87.1 L317.8 87.0 L318.2 86.9 L318.5 86.9 L318.8 86.9 L319.2 87.0 L319.5 86.9 L319.8 87.0 L320.2 86.7 L320.5 86.3 L320.9 84.8 L321.1 85.4 L321.5 86.2 L321.8 86.4 L322.1 86.5 L322.5 86.6 L322.8 86.7 L323.1 86.6 L323.5 86.6 L323.8 86.6 L324.1 86.6 L324.4 86.5 L324.8 86.5 L325.1 86.4 L325.4 86.5 L325.8 86.6 L326.1 86.5 L326.4 86.5 L326.8 86.4 L327.1 85.7 L327.4 84.1 L327.6 83.4 L328.1 85.6 L328.4 86.4 L328.7 86.7 L329.1 86.8 L329.4 86.9 L329.7 86.8 L330.0 86.8 L330.4 86.6 L330.7 86.7 L331.0 86.5 L331.4 86.6 L331.7 86.6 L332.0 86.4 L332.4 86.3 L332.7 86.2 L333.0 86.2 L333.3 86.3 L333.7 86.5 L334.0 86.5 L334.3 86.6 L334.7 86.6 L335.0 86.5 L335.3 86.5 L335.7 86.5 L336.0 86.4 L336.3 86.3 L336.6 86.1 L337.0 86.2 L337.3 86.4 L337.6 86.5 L338.0 86.6 L338.3 86.5 L338.6 86.5 L338.9 86.7 L339.3 86.6 L339.6 86.4 L339.9 86.2 L340.3 86.1 L340.6 86.2 L340.9 86.3 L341.3 86.1 L341.6 86.1 L341.9 86.1 L342.2 86.0 L342.6 86.1 L342.9 86.2 L343.2 86.3 L343.6 86.3 L343.9 86.3 L344.2 86.4 L344.6 86.1 L344.9 86.2 L345.2 86.1 L345.5 86.0 L345.9 86.1 L346.2 86.2 L346.5 86.1 L346.9 86.3 L347.2 86.4 L347.5 86.1 L347.9 85.9 L348.2 85.8 L348.5 85.9 L348.8 85.9 L349.2 85.7 L349.5 85.7 L349.8 85.7 L350.2 86.0 L350.5 86.1 L350.8 85.8 L351.1 85.7 L351.5 85.6 L351.8 85.7 L352.1 85.7 L352.5 85.6 L352.8 85.7 L353.1 85.7 L353.5 85.8 L353.8 85.8 L354.1 86.1 L354.4 86.2 L354.8 85.8 L355.1 85.6 L355.4 85.6 L355.8 85.9 L356.1 86.1 L356.4 86.0 L356.8 85.9 L357.1 85.8 L357.4 85.8 L357.7 85.7 L358.1 85.6 L358.4 85.6 L358.7 85.5 L359.1 85.6 L359.4 85.5 L359.7 85.4 L360.1 85.4 L360.4 85.3 L360.7 85.1 L361.0 84.9 L361.4 84.6 L361.7 84.5 L362.0 84.5 L362.4 84.4 L362.7 84.0 L363.0 83.6 L363.3 83.3 L363.7 83.1 L364.0 82.9 L364.3 82.8 L364.7 83.0 L365.0 82.7 L365.3 82.5 L365.7 82.3 L366.0 82.3 L366.3 82.2 L366.6 82.4 L367.0 82.6 L367.3 82.8 L367.6 82.7 L368.0 82.8 L368.3 82.9 L368.6 83.1 L369.0 83.1 L369.3 83.0 L369.6 82.8 L369.9 82.9 L370.3 83.1 L370.6 83.1 L370.9 83.0 L371.3 83.0 L371.6 83.1 L371.9 83.4 L372.3 83.3 L372.6 83.2 L372.9 83.2 L373.2 83.5 L373.6 83.6 L373.9 83.6 L374.2 83.6 L374.6 83.5 L374.9 83.4 L375.2 83.2 L375.5 83.3 L375.9 83.4 L376.2 83.4 L376.5 83.3 L376.9 83.1 L377.2 83.0 L377.5 82.8 L377.9 82.9 L378.2 83.2 L378.5 83.2 L378.8 83.0 L379.2 82.7 L379.5 82.8 L379.8 82.8 L380.2 82.9 L380.5 82.9 L380.8 83.0 L381.2 83.1 L381.5 83.0 L381.8 82.9 L382.1 82.6 L382.5 82.3 L382.8 82.3 L383.1 82.3 L383.5 82.1 L383.8 81.6 L384.1 81.1 L384.5 80.2 L384.8 79.4 L385.1 78.6 L385.4 77.8 L385.8 76.9 L386.1 76.1 L386.4 75.3 L386.8 74.6 L387.1 74.1 L387.4 73.9 L387.7 73.9 L388.1 73.9 L388.4 73.8 L388.7 73.7 L389.1 73.7 L389.4 73.6 L389.7 73.8 L390.1 74.2 L390.4 74.7 L390.7 75.6 L391.0 76.8 L391.4 77.9 L391.7 79.1 L392.0 80.1 L392.4 81.0 L392.7 81.8 L393.0 82.3 L393.4 82.8 L393.7 83.0 L394.0 83.2 L394.3 83.3 L394.7 83.3 L395.0 83.0 L395.3 82.6 L395.7 81.7 L395.9 81.3 L396.3 82.7 L396.7 83.6 L397.0 83.9 L397.3 84.1 L397.6 84.1 L398.0 84.2 L398.3 84.3 L398.6 84.4 L399.0 84.6 L399.3 84.7 L399.6 84.5 L399.9 84.4 L400.3 84.4 L400.6 84.5 L400.9 84.5 L401.3 84.7 L401.6 84.8 L401.9 84.5 L402.3 84.2 L402.6 84.3 L402.9 84.5 L403.2 84.6 L403.6 84.6 L403.9 84.5 L404.2 84.4 L404.6 84.3 L404.9 84.2 L405.2 84.0 L405.6 83.9 L405.9 83.9 L406.2 84.1 L406.5 84.2 L406.9 84.2 L407.2 84.5 L407.5 84.4 L407.9 84.3 L408.2 84.2 L408.5 83.9 L408.9 83.8 L409.2 83.9 L409.5 83.9 L409.8 83.9 L410.2 83.8 L410.5 83.9" fill="none" stroke="#22e022" stroke-width="1.0" stroke-linejoin="round" />
<path d="M255.0 15.0 L255.3 19.0 L255.7 23.0 L256.0 26.8 L256.3 30.7 L256.7 34.4 L257.0 38.0 L257.3 41.7 L257.6 45.7 L258.0 49.6 L258.3 53.2 L258.6 56.5 L259.0 59.6 L259.3 62.1 L259.6 63.9 L260.0 65.2 L260.3 66.1 L260.6 66.8 L260.9 67.3 L261.3 67.6 L261.6 67.8 L261.9 67.9 L262.3 68.0 L262.6 68.3 L262.9 68.5 L263.3 68.7 L263.6 68.8 L263.9 68.9 L264.2 69.0 L264.6 69.1 L264.9 69.1 L265.2 69.1 L265.6 69.1 L265.9 69.3 L266.2 69.5 L266.6 69.4 L266.9 69.5 L267.2 69.5 L267.5 69.6 L267.9 69.6 L268.2 69.6 L268.5 69.6 L268.9 69.7 L269.2 69.8 L269.5 69.8 L269.9 69.8 L270.2 69.8 L270.5 70.0 L270.8 70.0 L271.2 70.1 L271.5 70.1 L271.8 70.1 L272.2 70.0 L272.5 69.8 L272.8 69.9 L273.2 70.0 L273.5 70.1 L273.8 70.0 L274.1 70.1 L274.5 70.0 L274.8 70.1 L275.1 70.1 L275.5 70.0 L275.8 70.0 L276.1 69.9 L276.5 69.9 L276.8 69.9 L277.1 70.0 L277.5 70.0 L277.8 70.0 L278.1 70.0 L278.4 70.0 L278.8 70.0 L279.1 70.0 L279.4 69.9 L279.8 69.8 L280.1 69.8 L280.4 69.7 L280.8 69.6 L281.1 69.2 L281.5 67.6 L281.7 68.5 L282.1 69.5 L282.4 69.8 L282.7 69.8 L283.1 69.8 L283.4 69.8 L283.7 69.8 L284.1 69.8 L284.4 69.8 L284.7 69.8 L285.0 69.9 L285.4 69.9 L285.7 69.9 L286.0 69.8 L286.4 69.8 L286.7 69.8 L287.0 69.9 L287.4 69.8 L287.7 69.8 L288.0 69.8 L288.3 69.8 L288.7 69.8 L289.0 69.8 L289.3 69.7 L289.7 69.6 L290.0 69.4 L290.3 69.2 L290.7 69.1 L291.0 69.0 L291.3 68.7 L291.6 68.6 L292.0 68.5 L292.3 68.5 L292.6 68.6 L293.0 68.6 L293.3 68.6 L293.6 68.6 L294.0 68.6 L294.3 68.6 L294.6 68.6 L294.9 68.7 L295.3 68.7 L295.6 68.8 L295.9 68.8 L296.3 68.8 L296.6 68.7 L296.9 68.7 L297.3 68.7 L297.6 68.7 L297.9 68.6 L298.2 68.3 L298.6 67.4 L298.9 64.0 L299.4 49.3 L299.6 53.5 L299.9 63.9 L300.2 66.9 L300.6 66.6 L300.9 65.1 L301.2 66.9 L301.6 68.3 L301.9 68.7 L302.2 68.9 L302.5 68.9 L302.9 68.9 L303.2 68.9 L303.5 69.0 L303.9 68.9 L304.2 68.9 L304.5 68.9 L304.9 68.9 L305.2 68.9 L305.5 68.9 L305.8 68.7 L306.2 68.6 L306.5 68.4 L306.8 68.0 L307.2 67.4 L307.5 66.7 L307.8 66.5 L308.2 67.0 L308.5 67.7 L308.8 68.2 L309.1 68.6 L309.5 68.8 L309.8 68.9 L310.1 69.0 L310.5 69.0 L310.8 69.1 L311.1 69.1 L311.5 69.1 L311.8 69.2 L312.1 69.2 L312.4 69.2 L312.8 69.2 L313.1 69.2 L313.4 69.2 L313.8 69.2 L314.1 69.2 L314.4 69.2 L314.8 69.2 L315.1 69.1 L315.4 69.2 L315.7 69.2 L316.1 69.2 L316.4 69.2 L316.7 69.2 L317.1 69.3 L317.4 69.3 L317.7 69.3 L318.1 69.2 L318.4 69.2 L318.7 69.2 L319.0 69.1 L319.4 68.9 L319.7 68.2 L320.0 66.7 L320.2 66.0 L320.7 68.1 L321.0 68.9 L321.4 69.2 L321.7 69.3 L322.0 69.3 L322.4 69.4 L322.7 69.4 L323.0 69.5 L323.3 69.3 L323.7 69.2 L324.0 69.2 L324.3 69.2 L324.7 69.3 L325.0 69.2 L325.3 69.2 L325.7 69.2 L326.0 69.2 L326.3 69.1 L326.6 68.7 L327.0 67.6 L327.3 64.9 L327.5 63.8 L328.0 67.3 L328.3 68.6 L328.6 69.0 L329.0 69.2 L329.3 69.2 L329.6 69.2 L329.9 69.3 L330.3 69.3 L330.6 69.3 L330.9 69.3 L331.3 69.3 L331.6 69.2 L331.9 69.3 L332.3 69.3 L332.6 69.2 L333.0 68.8 L333.2 69.0 L333.6 69.3 L333.9 69.4 L334.2 69.5 L334.6 69.5 L334.9 69.5 L335.2 69.5 L335.6 69.5 L335.9 69.5 L336.2 69.4 L336.5 69.4 L336.9 69.3 L337.2 69.3 L337.5 69.3 L337.9 69.3 L338.2 69.2 L338.5 69.3 L338.9 69.3 L339.2 69.3 L339.5 69.3 L339.8 69.3 L340.2 69.4 L340.5 69.4 L340.8 69.4 L341.2 69.5 L341.5 69.5 L341.8 69.5 L342.2 69.5 L342.5 69.5 L342.8 69.4 L343.1 69.3 L343.5 69.3 L343.8 69.3 L344.1 69.3 L344.5 69.3 L344.8 69.3 L345.1 69.5 L345.5 69.5 L345.8 69.5 L346.1 69.5 L346.5 69.5 L346.8 69.6 L347.1 69.5 L347.4 69.4 L347.8 69.3 L348.1 69.3 L348.4 69.4 L348.8 69.4 L349.1 69.4 L349.4 69.3 L349.8 69.3 L350.1 69.3 L350.4 69.4 L350.7 69.5 L351.1 69.6 L351.4 69.6 L351.7 69.6 L352.1 69.5 L352.4 69.4 L352.7 69.4 L353.1 69.4 L353.4 69.4 L353.7 69.4 L354.0 69.5 L354.4 69.5 L354.7 69.4 L355.0 69.3 L355.4 69.4 L355.7 69.4 L356.0 69.4 L356.4 69.3 L356.7 69.2 L357.0 69.0 L357.2 68.9 L357.7 69.2 L358.0 69.4 L358.3 69.4 L358.7 69.4 L359.0 69.3 L359.3 69.5 L359.7 69.6 L360.0 69.6 L360.3 69.4 L360.6 69.3 L361.0 69.4 L361.3 69.5 L361.6 69.5 L362.0 69.5 L362.3 69.5 L362.6 69.4 L363.0 69.3 L363.3 69.4 L363.6 69.4 L363.9 69.3 L364.3 69.4 L364.6 69.4 L364.9 69.4 L365.3 69.5 L365.6 69.5 L365.9 69.6 L366.3 69.6 L366.6 69.4 L366.9 69.4 L367.3 69.4 L367.6 69.5 L367.9 69.6 L368.2 69.5 L368.6 69.5 L368.9 69.5 L369.2 69.5 L369.6 69.5 L369.9 69.5 L370.2 69.6 L370.6 69.5 L370.9 69.4 L371.2 69.4 L371.5 69.5 L371.9 69.5 L372.2 69.5 L372.5 69.6 L372.9 69.5 L373.2 69.4 L373.5 69.4 L373.9 69.3 L374.2 69.3 L374.5 69.4 L374.8 69.5 L375.2 69.5 L375.5 69.4 L375.8 69.4 L376.2 69.4 L376.5 69.4 L376.8 69.4 L377.2 69.4 L377.5 69.3 L377.8 69.4 L378.1 69.5 L378.5 69.5 L378.8 69.4 L379.1 69.4 L379.5 69.4 L379.8 69.4 L380.1 69.3 L380.5 69.3 L380.8 69.3 L381.1 69.2 L381.4 69.1 L381.8 69.1 L382.1 69.0 L382.4 68.9 L382.8 68.9 L383.1 68.9 L383.4 68.9 L383.8 68.7 L384.1 68.6 L384.4 68.4 L384.7 68.2 L385.1 68.1 L385.4 67.8 L385.7 67.5 L386.1 67.1 L386.4 66.5 L386.7 65.8 L387.1 65.0 L387.4 63.9 L387.7 62.6 L388.0 61.5 L388.4 60.8 L388.7 60.9 L389.0 61.8 L389.4 63.0 L389.7 64.2 L390.0 65.2 L390.4 66.1 L390.7 66.7 L391.0 67.0 L391.4 67.4 L391.7 67.6 L392.0 67.7 L392.3 67.8 L392.7 67.8 L393.0 67.7 L393.3 67.6 L393.7 67.1 L394.0 66.4 L394.3 65.2 L394.7 63.2 L395.0 60.5 L395.3 59.6 L395.6 61.7 L396.0 64.3 L396.3 66.1 L396.6 67.3 L397.0 67.9 L397.3 68.5 L397.6 68.8 L398.0 69.2 L398.3 69.5 L398.6 69.6 L398.9 69.6 L399.3 69.7 L399.6 69.8 L399.9 69.9 L400.3 69.9 L400.6 70.0 L400.9 70.1 L401.3 70.1 L401.6 70.1 L401.9 70.1 L402.2 70.1 L402.6 70.1 L402.9 70.1 L403.2 70.0 L403.6 70.0 L403.9 70.0 L404.2 70.1 L404.6 70.1 L404.9 70.1 L405.2 70.1 L405.5 70.2 L405.9 70.2 L406.2 70.3 L406.5 70.3 L406.9 70.3 L407.2 70.3 L407.5 70.3 L407.9 70.3 L408.2 70.2 L408.5 70.1 L408.8 70.1 L409.2 70.2 L409.5 70.2 L409.8 70.2 L410.2 70.1 L410.5 70.1" fill="none" stroke="#f52828" stroke-width="1.0" stroke-linejoin="round" />
<path d="M255.0 33.6 L255.3 34.5 L255.7 35.5 L256.0 36.5 L256.3 37.7 L256.6 38.8 L257.0 39.5 L257.3 40.4 L257.6 41.3 L258.0 42.2 L258.3 42.9 L258.6 43.5 L259.0 44.0 L259.3 44.4 L259.6 44.6 L259.9 44.8 L260.3 45.1 L260.6 45.5 L260.9 45.6 L261.3 45.8 L261.6 46.0 L261.9 46.3 L262.3 46.2 L262.6 45.9 L262.9 45.7 L263.2 45.5 L263.6 45.6 L263.9 45.9 L264.2 46.1 L264.6 46.3 L264.9 46.0 L265.2 45.7 L265.6 45.7 L265.9 46.1 L266.2 46.3 L266.5 46.1 L266.9 45.9 L267.2 45.6 L267.5 45.7 L267.9 45.6 L268.2 45.7 L268.5 46.0 L268.9 45.7 L269.2 45.5 L269.5 45.4 L269.8 45.6 L270.2 45.8 L270.5 45.9 L270.8 46.0 L271.2 46.0 L271.5 46.0 L271.8 46.0 L272.2 45.8 L272.5 45.4 L272.8 45.4 L273.1 45.4 L273.5 45.5 L273.8 45.4 L274.1 45.2 L274.5 45.2 L274.8 45.1 L275.1 45.0 L275.4 44.9 L275.8 44.6 L276.1 44.6 L276.4 44.5 L276.8 44.4 L277.1 44.0 L277.4 44.0 L277.8 43.7 L278.1 43.5 L278.4 43.5 L278.7 43.6 L279.1 43.6 L279.4 43.7 L279.7 43.7 L280.1 44.0 L280.4 44.3 L280.7 44.5 L281.1 44.7 L281.4 44.7 L281.7 45.0 L282.0 45.2 L282.4 45.4 L282.7 45.2 L283.0 45.1 L283.4 45.3 L283.7 45.7 L284.0 45.9 L284.4 46.0 L284.7 46.1 L285.0 46.3 L285.3 46.4 L285.7 46.5 L286.0 46.5 L286.3 46.7 L286.7 47.0 L287.0 47.1 L287.3 47.0 L287.7 46.7 L288.0 46.4 L288.3 46.5 L288.6 46.4 L289.0 46.8 L289.3 47.0 L289.6 47.0 L290.0 46.7 L290.3 46.5 L290.6 46.7 L290.9 46.5 L291.3 46.4 L291.6 46.2 L291.9 46.2 L292.3 46.5 L292.6 46.6 L292.9 46.2 L293.3 46.0 L293.6 45.8 L293.9 45.8 L294.2 45.8 L294.6 45.8 L294.9 45.6 L295.2 45.6 L295.6 45.6 L295.9 45.7 L296.2 45.8 L296.6 45.9 L296.9 45.8 L297.2 45.7 L297.5 45.5 L297.9 45.2 L298.2 44.9 L298.5 44.7 L298.9 44.1 L299.2 42.2 L299.4 41.2 L299.9 43.9 L300.2 44.4 L300.5 44.2 L300.8 44.0 L301.2 43.6 L301.5 43.3 L301.8 42.9 L302.2 42.6 L302.5 42.2 L302.8 41.9 L303.2 41.6 L303.5 41.6 L303.8 41.7 L304.1 41.6 L304.5 41.5 L304.8 41.7 L305.1 42.2 L305.5 42.7 L305.8 43.0 L306.1 43.3 L306.5 43.6 L306.8 44.1 L307.1 44.5 L307.4 44.6 L307.8 44.8 L308.1 45.1 L308.4 45.2 L308.8 45.2 L309.1 44.9 L309.4 44.7 L309.7 44.5 L310.1 44.4 L310.4 44.4 L310.7 44.5 L311.1 44.7 L311.4 44.7 L311.7 44.7 L312.1 44.6 L312.4 44.4 L312.7 44.4 L313.0 44.3 L313.4 44.5 L313.7 44.6 L314.0 44.8 L314.4 44.7 L314.7 44.6 L315.0 44.6 L315.4 44.5 L315.7 44.6 L316.0 44.6 L316.3 44.5 L316.7 44.4 L317.0 44.2 L317.3 44.3 L317.7 44.2 L318.0 44.3 L318.3 44.5 L318.7 44.8 L319.0 45.0 L319.3 45.0 L319.6 44.8 L320.0 44.7 L320.3 44.9 L320.6 45.1 L321.0 45.2 L321.3 45.1 L321.6 45.0 L322.0 44.5 L322.3 44.2 L322.6 44.5 L322.9 44.8 L323.3 45.0 L323.6 45.0 L323.9 45.1 L324.3 45.1 L324.6 45.2 L324.9 44.8 L325.2 44.6 L325.6 44.6 L325.9 44.6 L326.2 44.6 L326.6 44.4 L326.9 44.5 L327.2 44.4 L327.6 44.5 L327.9 44.8 L328.2 45.0 L328.5 45.4 L328.9 45.4 L329.2 45.4 L329.5 45.2 L329.9 45.0 L330.2 44.7 L330.5 44.9 L330.9 45.0 L331.2 45.1 L331.5 44.9 L331.8 44.9 L332.2 45.1 L332.5 45.2 L332.8 45.1 L333.2 44.7 L333.5 44.5 L333.8 44.6 L334.2 44.5 L334.5 44.4 L334.8 44.5 L335.1 44.4 L335.5 44.5 L335.8 44.6 L336.1 44.7 L336.5 45.0 L336.8 45.2 L337.1 45.1 L337.5 45.1 L337.8 44.7 L338.1 44.5 L338.4 44.6 L338.8 45.0 L339.1 45.2 L339.4 45.1 L339.8 45.0 L340.1 45.1 L340.4 45.2 L340.8 45.2 L341.1 45.0 L341.4 44.8 L341.7 45.0 L342.1 44.9 L342.4 44.9 L342.7 44.6 L343.1 44.4 L343.4 44.9 L343.7 45.2 L344.0 45.0 L344.4 44.9 L344.7 44.7 L345.0 44.9 L345.4 45.1 L345.7 45.0 L346.0 44.9 L346.4 44.9 L346.7 44.9 L347.0 44.8 L347.3 45.0 L347.7 45.2 L348.0 45.3 L348.3 45.0 L348.7 45.0 L349.0 44.9 L349.3 45.1 L349.7 44.9 L350.0 44.9 L350.3 44.7 L350.6 44.7 L351.0 44.4 L351.3 44.5 L351.6 44.6 L352.0 44.8 L352.3 44.8 L352.6 44.8 L353.0 44.5 L353.3 44.4 L353.6 44.3 L353.9 44.3 L354.3 44.4 L354.6 44.4 L354.9 44.6 L355.3 44.6 L355.6 44.6 L355.9 44.7 L356.3 44.5 L356.6 44.5 L356.9 44.6 L357.2 44.6 L357.6 44.5 L357.9 44.4 L358.2 44.3 L358.6 44.7 L358.9 44.9 L359.2 45.0 L359.5 44.9 L359.9 44.9 L360.2 45.1 L360.5 45.2 L360.9 45.0 L361.2 44.7 L361.5 44.7 L361.9 44.6 L362.2 44.5 L362.5 44.2 L362.8 43.7 L363.2 43.4 L363.5 43.1 L363.8 43.0 L364.2 42.9 L364.5 42.8 L364.8 42.7 L365.2 42.6 L365.5 42.8 L365.8 43.1 L366.1 43.4 L366.5 43.1 L366.8 42.8 L367.1 43.0 L367.5 43.2 L367.8 43.4 L368.1 43.4 L368.5 43.5 L368.8 43.4 L369.1 43.0 L369.4 42.8 L369.8 43.1 L370.1 43.5 L370.4 43.6 L370.8 43.6 L371.1 43.5 L371.4 43.1 L371.8 42.8 L372.1 43.0 L372.4 42.9 L372.7 43.0 L373.1 43.3 L373.4 43.2 L373.7 43.2 L374.1 43.3 L374.4 43.2 L374.7 43.2 L375.1 43.2 L375.4 43.3 L375.7 43.5 L376.0 43.6 L376.4 43.5 L376.7 43.5 L377.0 43.4 L377.4 43.4 L377.7 43.2 L378.0 43.1 L378.3 43.1 L378.7 43.3 L379.0 43.7 L379.3 43.6 L379.7 43.5 L380.0 43.5 L380.3 43.3 L380.7 43.3 L381.0 43.0 L381.3 42.8 L381.6 42.6 L382.0 42.5 L382.3 42.4 L382.6 42.3 L383.0 42.2 L383.3 42.4 L383.6 42.7 L384.0 42.7 L384.3 42.3 L384.6 42.0 L384.9 41.5 L385.3 40.8 L385.6 40.4 L385.9 40.2 L386.3 39.7 L386.6 39.4 L386.9 39.0 L387.3 38.8 L387.6 38.5 L387.9 38.4 L388.2 38.3 L388.6 38.3 L388.9 38.6 L389.2 39.0 L389.6 39.5 L389.9 39.6 L390.2 39.7 L390.6 40.4 L390.9 41.1 L391.2 41.5 L391.5 42.0 L391.9 42.3 L392.2 42.9 L392.5 43.4 L392.9 43.3 L393.2 43.1 L393.5 43.1 L393.8 43.3 L394.2 43.4 L394.5 43.0 L394.8 42.8 L395.2 42.4 L395.6 42.0 L395.8 42.5 L396.2 43.0 L396.5 43.2 L396.8 43.5 L397.1 43.5 L397.5 43.5 L397.8 43.2 L398.1 43.1 L398.5 43.0 L398.8 43.2 L399.1 43.2 L399.5 42.9 L399.8 42.6 L400.1 42.8 L400.4 42.9 L400.8 43.0 L401.1 43.1 L401.4 43.1 L401.8 42.9 L402.1 42.8 L402.4 42.7 L402.8 42.7 L403.1 42.8 L403.4 43.0 L403.7 43.3 L404.1 43.3 L404.4 43.1 L404.7 43.1 L405.1 42.9 L405.4 42.6 L405.7 42.9 L406.1 43.2 L406.4 43.2 L406.7 43.2 L407.0 43.0 L407.4 43.0 L407.7 43.0 L408.0 43.1 L408.4 43.3 L408.7 43.5 L409.0 43.5 L409.4 43.3 L409.7 43.2 L410.0 43.3 L410.3 43.2 L410.7 43.1 L411.0 43.0" fill="none" stroke="#2828f0" stroke-width="1.0" stroke-linejoin="round" />
<path d="M255.0 27.5 L255.3 28.4 L255.7 29.3 L256.0 30.3 L256.3 31.3 L256.6 32.4 L257.0 33.1 L257.3 33.5 L257.6 33.9 L258.0 34.5 L258.3 34.9 L258.6 35.4 L259.0 36.1 L259.3 36.4 L259.6 36.7 L259.9 37.0 L260.3 37.4 L260.6 37.6 L260.9 37.8 L261.3 38.1 L261.6 38.3 L261.9 38.6 L262.3 39.0 L262.6 38.7 L262.9 38.6 L263.2 38.3 L263.6 38.3 L263.9 38.3 L264.2 38.4 L264.6 38.7 L264.9 38.7 L265.2 38.8 L265.6 38.7 L265.9 38.9 L266.2 38.8 L266.5 38.9 L266.9 38.6 L267.2 38.6 L267.5 38.8 L267.9 38.8 L268.2 38.7 L268.5 38.7 L268.8 38.6 L269.2 38.7 L269.5 38.6 L269.8 38.5 L270.2 38.6 L270.5 38.4 L270.8 38.4 L271.2 38.3 L271.5 38.4 L271.8 38.4 L272.1 38.5 L272.5 38.9 L272.8 38.9 L273.1 38.7 L273.5 38.6 L273.8 38.8 L274.1 39.0 L274.5 38.9 L274.8 38.7 L275.1 38.6 L275.4 38.8 L275.8 38.6 L276.1 38.4 L276.4 38.0 L276.8 37.9 L277.1 37.6 L277.4 37.3 L277.8 37.3 L278.1 37.3 L278.4 37.1 L278.7 37.3 L279.1 37.2 L279.4 37.1 L279.7 37.1 L280.1 37.3 L280.4 37.6 L280.7 37.9 L281.1 37.8 L281.4 37.7 L281.7 38.2 L282.0 38.7 L282.4 38.8 L282.7 39.1 L283.0 39.2 L283.4 39.2 L283.7 39.1 L284.0 39.0 L284.3 39.1 L284.7 39.1 L285.0 39.5 L285.3 40.0 L285.7 40.1 L286.0 39.9 L286.3 39.9 L286.7 39.7 L287.0 39.7 L287.3 39.6 L287.6 39.4 L288.0 39.5 L288.3 39.9 L288.6 40.0 L289.0 39.7 L289.3 39.3 L289.6 39.4 L290.0 39.3 L290.3 39.3 L290.6 39.5 L290.9 39.6 L291.3 39.4 L291.6 39.0 L291.9 38.9 L292.3 39.0 L292.6 38.9 L292.9 38.8 L293.3 38.6 L293.6 38.8 L293.9 38.9 L294.2 38.9 L294.6 39.0 L294.9 39.0 L295.2 38.9 L295.6 38.5 L295.9 38.2 L296.2 37.9 L296.5 37.7 L296.9 37.8 L297.2 37.7 L297.5 37.8 L297.9 37.3 L298.2 37.0 L298.5 37.2 L298.9 37.6 L299.2 37.6 L299.5 37.4 L299.8 37.3 L300.2 36.7 L300.5 36.2 L300.8 36.0 L301.2 36.0 L301.5 35.9 L301.8 35.8 L302.2 35.6 L302.5 35.6 L302.8 35.4 L303.1 35.3 L303.5 35.2 L303.8 35.3 L304.1 35.0 L304.5 35.0 L304.8 35.1 L305.1 35.2 L305.5 35.4 L305.8 35.4 L306.1 35.5 L306.4 35.7 L306.8 36.3 L307.1 36.6 L307.4 36.7 L307.8 36.7 L308.1 36.9 L308.4 37.2 L308.7 37.3 L309.1 37.3 L309.4 37.2 L309.7 37.3 L310.1 37.2 L310.4 37.3 L310.7 37.2 L311.1 36.9 L311.4 36.7 L311.7 36.2 L312.0 36.4 L312.4 36.5 L312.7 36.7 L313.0 36.4 L313.4 36.2 L313.7 36.4 L314.0 36.6 L314.4 36.5 L314.7 36.2 L315.0 36.0 L315.3 36.0 L315.7 36.1 L316.0 36.2 L316.3 36.4 L316.7 36.5 L317.0 36.6 L317.3 36.7 L317.7 36.5 L318.0 36.6 L318.3 36.6 L318.6 36.5 L319.0 36.4 L319.3 36.7 L319.6 36.9 L320.0 37.0 L320.3 36.7 L320.6 36.3 L320.9 36.5 L321.3 36.9 L321.6 37.1 L321.9 37.1 L322.3 37.2 L322.6 36.9 L322.9 36.6 L323.3 36.9 L323.6 37.1 L323.9 37.3 L324.2 37.1 L324.6 37.2 L324.9 37.2 L325.2 37.3 L325.6 37.5 L325.9 37.4 L326.2 37.5 L326.6 37.3 L326.9 36.9 L327.2 36.9 L327.5 37.4 L327.9 37.5 L328.2 37.2 L328.5 37.0 L328.9 37.0 L329.2 37.0 L329.5 37.1 L329.9 37.3 L330.2 37.9 L330.5 37.8 L330.8 37.5 L331.2 37.4 L331.5 37.1 L331.8 37.0 L332.2 37.5 L332.5 37.8 L332.8 37.8 L333.1 37.5 L333.5 37.2 L333.8 37.3 L334.1 37.4 L334.5 37.3 L334.8 37.2 L335.1 37.2 L335.5 37.4 L335.8 37.7 L336.1 37.5 L336.4 37.3 L336.8 37.2 L337.1 37.2 L337.4 37.0 L337.8 37.4 L338.1 37.7 L338.4 37.7 L338.8 37.6 L339.1 37.5 L339.4 37.3 L339.7 37.2 L340.1 37.4 L340.4 37.7 L340.7 37.8 L341.1 37.8 L341.4 37.7 L341.7 37.4 L342.1 37.1 L342.4 37.4 L342.7 37.7 L343.0 38.1 L343.4 37.6 L343.7 37.4 L344.0 37.4 L344.4 37.6 L344.7 37.7 L345.0 37.5 L345.4 37.4 L345.7 37.5 L346.0 37.8 L346.3 37.8 L346.7 37.7 L347.0 37.5 L347.3 37.5 L347.7 37.6 L348.0 37.5 L348.3 37.4 L348.6 37.2 L349.0 37.4 L349.3 37.5 L349.6 37.7 L350.0 37.8 L350.3 37.9 L350.6 37.9 L351.0 38.0 L351.3 37.7 L351.6 37.3 L351.9 37.4 L352.3 37.5 L352.6 37.6 L352.9 37.7 L353.3 37.5 L353.6 37.7 L353.9 37.8 L354.3 38.1 L354.6 38.0 L354.9 38.1 L355.2 38.0 L355.6 38.0 L355.9 37.8 L356.2 37.9 L356.6 38.1 L356.9 38.0 L357.2 37.8 L357.6 37.8 L357.9 37.5 L358.2 37.4 L358.5 37.4 L358.9 37.7 L359.2 37.6 L359.5 37.5 L359.9 37.4 L360.2 37.4 L360.5 37.4 L360.8 37.6 L361.2 37.8 L361.5 37.9 L361.8 37.7 L362.2 37.4 L362.5 37.2 L362.8 37.1 L363.2 37.0 L363.5 36.7 L363.8 36.5 L364.1 36.2 L364.5 36.1 L364.8 36.0 L365.1 36.2 L365.5 36.1 L365.8 36.2 L366.1 36.1 L366.5 36.2 L366.8 36.3 L367.1 36.4 L367.4 36.6 L367.8 36.7 L368.1 36.3 L368.4 36.1 L368.8 36.0 L369.1 36.2 L369.4 36.5 L369.8 36.7 L370.1 36.6 L370.4 36.5 L370.7 36.4 L371.1 36.4 L371.4 36.3 L371.7 36.2 L372.1 36.2 L372.4 36.1 L372.7 36.2 L373.0 36.4 L373.4 36.7 L373.7 36.5 L374.0 36.1 L374.4 36.1 L374.7 36.4 L375.0 36.4 L375.4 36.2 L375.7 36.1 L376.0 36.1 L376.3 36.0 L376.7 36.0 L377.0 36.2 L377.3 36.4 L377.7 36.5 L378.0 36.5 L378.3 36.3 L378.7 36.0 L379.0 35.8 L379.3 35.9 L379.6 35.8 L380.0 35.9 L380.3 36.1 L380.6 36.2 L381.0 35.9 L381.3 35.4 L381.6 35.2 L382.0 35.0 L382.3 34.9 L382.6 34.8 L382.9 34.7 L383.3 34.4 L383.6 34.2 L383.9 34.0 L384.3 33.5 L384.6 33.0 L384.9 32.1 L385.2 31.2 L385.6 30.0 L385.9 28.7 L386.2 27.5 L386.6 26.6 L386.9 26.1 L387.2 26.3 L387.6 26.7 L387.9 26.9 L388.2 27.0 L388.5 27.2 L388.9 27.2 L389.2 27.4 L389.5 27.5 L389.9 27.6 L390.2 28.2 L390.5 28.8 L390.9 29.8 L391.2 30.9 L391.5 31.9 L391.8 33.0 L392.2 33.9 L392.5 34.4 L392.8 35.0 L393.2 35.4 L393.5 35.7 L393.8 35.6 L394.2 35.7 L394.5 35.7 L394.8 35.9 L395.1 36.1 L395.5 36.5 L395.8 36.7 L396.1 36.5 L396.5 36.1 L396.8 36.0 L397.1 36.1 L397.5 36.1 L397.8 36.2 L398.1 36.3 L398.4 36.3 L398.8 36.1 L399.1 36.0 L399.4 36.1 L399.8 36.3 L400.1 36.4 L400.4 36.7 L400.7 36.6 L401.1 36.5 L401.4 36.4 L401.7 36.5 L402.1 36.5 L402.4 36.4 L402.7 36.2 L403.1 36.0 L403.4 36.2 L403.7 36.4 L404.0 36.4 L404.4 36.0 L404.7 35.9 L405.0 36.4 L405.4 36.7 L405.7 36.4 L406.0 36.1 L406.4 36.1 L406.7 36.3 L407.0 36.4 L407.3 36.2 L407.7 36.1 L408.0 36.1 L408.3 36.5 L408.7 36.8 L409.0 36.5 L409.3 36.3 L409.7 36.2 L410.0 36.4 L410.3 36.5 L410.6 36.5 L411.0 36.8 L411.3 36.7" fill="none" stroke="#1c1c1c" stroke-width="1.0" stroke-linejoin="round" />
<text x="401.60" y="68.70" font-size="8.2" fill="#e81818" text-anchor="start" font-weight="normal" stroke="#e81818" stroke-width="0.3">/5</text>
<text x="397.30" y="119.80" font-size="8.0" fill="#e818e8" text-anchor="start" font-weight="normal" stroke="#e818e8" stroke-width="0.3">/50</text>
<line x1="252.50" y1="15.00" x2="252.50" y2="126.00" stroke="#7a7a7a" stroke-width="1.4" />
<line x1="252.00" y1="125.50" x2="416.50" y2="125.50" stroke="#4a4a4a" stroke-width="1" />
<line x1="252.70" y1="125.50" x2="252.70" y2="128.10" stroke="#666" stroke-width="0.9" />
<text x="252.70" y="136.50" font-size="9.7" fill="#111" text-anchor="middle" font-weight="normal" >0</text>
<line x1="299.40" y1="125.50" x2="299.40" y2="128.10" stroke="#666" stroke-width="0.9" />
<text x="299.40" y="136.50" font-size="9.7" fill="#111" text-anchor="middle" font-weight="normal" >1000</text>
<line x1="346.10" y1="125.50" x2="346.10" y2="128.10" stroke="#666" stroke-width="0.9" />
<text x="346.10" y="136.50" font-size="9.7" fill="#111" text-anchor="middle" font-weight="normal" >2000</text>
<line x1="392.80" y1="125.50" x2="392.80" y2="128.10" stroke="#666" stroke-width="0.9" />
<text x="392.80" y="136.50" font-size="9.7" fill="#111" text-anchor="middle" font-weight="normal" >3000</text>
<line x1="276.05" y1="125.50" x2="276.05" y2="127.10" stroke="#666" stroke-width="0.8" />
<line x1="322.75" y1="125.50" x2="322.75" y2="127.10" stroke="#666" stroke-width="0.8" />
<line x1="369.45" y1="125.50" x2="369.45" y2="127.10" stroke="#666" stroke-width="0.8" />
<line x1="249.70" y1="31.00" x2="252.50" y2="31.00" stroke="#555" stroke-width="0.9" />
<text x="248.60" y="34.40" font-size="9.7" fill="#111" text-anchor="end" font-weight="normal" >4000</text>
<line x1="249.70" y1="64.30" x2="252.50" y2="64.30" stroke="#555" stroke-width="0.9" />
<text x="248.60" y="67.70" font-size="9.7" fill="#111" text-anchor="end" font-weight="normal" >2000</text>
<line x1="249.70" y1="97.40" x2="252.50" y2="97.40" stroke="#555" stroke-width="0.9" />
<text x="248.60" y="100.80" font-size="9.7" fill="#111" text-anchor="end" font-weight="normal" >0</text>
<line x1="250.70" y1="47.60" x2="252.50" y2="47.60" stroke="#555" stroke-width="0.8" />
<line x1="250.70" y1="80.90" x2="252.50" y2="80.90" stroke="#555" stroke-width="0.8" />
<line x1="250.70" y1="114.00" x2="252.50" y2="114.00" stroke="#555" stroke-width="0.8" />
<text x="334.50" y="145.60" font-size="9.5" fill="#111" text-anchor="middle" font-weight="normal" >Wavenumber / <tspan font-style="italic">cm</tspan><tspan font-style="italic" font-size="6.5" dy="-3.8">-1</tspan></text>
<text transform="translate(226.40 62.70) rotate(-90)" font-size="9.35" fill="#111" text-anchor="middle" font-weight="normal" >Offset Intensity / <tspan font-style="italic">cts</tspan></text>
<rect x="297.40" y="2.20" width="80.20" height="20.90" fill="#fff" stroke="#6b8fbe" stroke-width="1.2" />
<text x="299.90" y="15.80" font-size="9.65" fill="#262626" text-anchor="start" font-weight="normal" stroke="#262626" stroke-width="0.08">Paint #1: layers</text>
<rect x="411.50" y="49.50" width="39.00" height="50.00" fill="#fff" stroke="#b4b4b4" stroke-width="0.8" />
<text x="412.10" y="55.80" font-size="5.7" fill="#111" text-anchor="start" font-weight="normal" >Layers:</text>
<line x1="412.00" y1="60.80" x2="424.60" y2="60.80" stroke="#1c1c1c" stroke-width="0.8" />
<text x="426.75" y="62.60" font-size="5.7" fill="#111" text-anchor="start" font-weight="normal" >Top</text>
<line x1="412.00" y1="67.82" x2="424.60" y2="67.82" stroke="#2828f0" stroke-width="0.8" />
<text x="426.75" y="69.62" font-size="5.7" fill="#111" text-anchor="start" font-weight="normal" >Middle-1</text>
<line x1="412.00" y1="74.84" x2="424.60" y2="74.84" stroke="#f52828" stroke-width="0.8" />
<text x="426.75" y="76.64" font-size="5.7" fill="#111" text-anchor="start" font-weight="normal" >Middle-2</text>
<line x1="412.00" y1="81.86" x2="424.60" y2="81.86" stroke="#22e022" stroke-width="0.8" />
<text x="426.75" y="83.66" font-size="5.7" fill="#111" text-anchor="start" font-weight="normal" >Middle-3</text>
<line x1="412.00" y1="88.88" x2="424.60" y2="88.88" stroke="#70f0f4" stroke-width="0.8" />
<text x="426.75" y="90.68" font-size="5.7" fill="#111" text-anchor="start" font-weight="normal" >Middle-4</text>
<line x1="412.00" y1="95.90" x2="424.60" y2="95.90" stroke="#f870f8" stroke-width="0.8" />
<text x="426.75" y="97.70" font-size="5.7" fill="#111" text-anchor="start" font-weight="normal" >Bottom</text>
<path d="M449.3 68 H452.6 Q453.9 68 453.9 69.3 V88 Q453.9 89.3 452.6 89.3 H449.3" fill="none" stroke="#000" stroke-width="2.3"/>
<path d="M454 76.2 H461.6 V72.9 L467.6 79 L461.6 85 V81.7 H454 Z" fill="#000"/>
<text x="232.40" y="23.20" font-size="27.2" fill="#000" text-anchor="start" font-weight="bold" >b</text>
</g>
<g id="pc">
<path d="M515.9 115.7 L516.2 115.8 L516.6 115.8 L516.9 115.9 L517.2 116.0 L517.6 116.1 L517.9 116.1 L518.2 116.1 L518.5 116.2 L518.9 116.1 L519.2 116.2 L519.5 116.2 L519.9 116.2 L520.2 116.2 L520.5 116.3 L520.9 116.3 L521.2 116.3 L521.5 116.3 L521.8 116.3 L522.2 116.3 L522.5 116.3 L522.8 116.4 L523.2 116.4 L523.5 116.3 L523.8 116.3 L524.2 116.3 L524.5 116.4 L524.8 116.4 L525.1 116.4 L525.5 116.4 L525.8 116.3 L526.1 116.3 L526.5 116.3 L526.8 116.3 L527.1 116.4 L527.5 116.4 L527.8 116.4 L528.1 116.4 L528.4 116.3 L528.8 116.3 L529.1 116.3 L529.4 116.4 L529.8 116.3 L530.1 116.3 L530.4 116.2 L530.8 116.2 L531.1 116.2 L531.4 116.3 L531.7 116.4 L532.1 116.4 L532.4 116.3 L532.7 116.3 L533.1 116.2 L533.4 116.2 L533.7 116.1 L534.1 115.9 L534.4 115.0 L534.8 113.0 L535.0 114.6 L535.4 115.9 L535.7 116.2 L536.0 116.3 L536.4 116.3 L536.7 116.4 L537.0 116.4 L537.4 116.4 L537.7 116.4 L538.0 116.4 L538.3 116.3 L538.7 116.3 L539.0 116.3 L539.3 116.4 L539.7 116.4 L540.0 116.4 L540.3 116.4 L540.7 116.4 L541.0 116.3 L541.3 116.3 L541.6 116.3 L542.0 116.4 L542.3 116.5 L542.6 116.4 L543.0 116.2 L543.3 116.2 L543.6 116.4 L544.0 116.4 L544.3 116.2 L544.6 116.1 L544.9 115.9 L545.3 115.5 L545.6 113.9 L546.0 110.2 L546.3 112.5 L546.6 115.2 L546.9 116.0 L547.3 116.3 L547.6 116.3 L547.9 116.3 L548.2 116.3 L548.6 116.3 L548.9 116.3 L549.2 116.4 L549.6 116.4 L549.9 116.3 L550.2 116.1 L550.6 115.8 L550.9 114.8 L551.2 113.5 L551.5 115.0 L551.9 116.0 L552.2 116.3 L552.5 116.4 L552.9 116.4 L553.2 116.4 L553.5 116.4 L553.9 116.4 L554.2 116.3 L554.5 116.3 L554.8 116.3 L555.2 116.2 L555.5 115.8 L555.8 115.0 L556.0 114.7 L556.5 115.8 L556.8 116.1 L557.2 116.2 L557.5 116.3 L557.8 116.3 L558.1 116.4 L558.5 116.4 L558.8 116.3 L559.1 116.1 L559.5 115.5 L559.8 114.9 L560.1 115.6 L560.5 116.2 L560.8 116.4 L561.1 116.4 L561.4 116.5 L561.8 116.4 L562.1 116.3 L562.4 116.3 L562.8 116.2 L563.1 116.0 L563.4 115.5 L563.6 115.3 L564.1 116.1 L564.4 116.3 L564.7 116.4 L565.1 116.4 L565.4 116.4 L565.7 116.5 L566.1 116.5 L566.4 116.5 L566.7 116.4 L567.1 116.3 L567.4 116.2 L567.7 115.8 L568.0 115.4 L568.4 115.9 L568.7 116.2 L569.0 116.4 L569.4 116.5 L569.7 116.5 L570.0 116.6 L570.4 116.5 L570.7 116.5 L571.0 116.4 L571.3 116.4 L571.7 116.4 L572.0 116.4 L572.3 116.4 L572.7 116.2 L573.0 116.2 L573.3 116.0 L573.7 115.1 L574.0 113.1 L574.2 112.1 L574.6 114.6 L575.0 115.8 L575.3 116.2 L575.6 116.4 L576.0 116.5 L576.3 116.4 L576.6 116.4 L577.0 116.4 L577.3 116.4 L577.6 116.4 L577.9 116.3 L578.3 116.4 L578.6 116.4 L578.9 116.4 L579.3 116.4 L579.6 116.4 L579.9 116.4 L580.3 116.5 L580.6 116.5 L580.9 116.6 L581.2 116.6 L581.6 116.6 L581.9 116.6 L582.2 116.5 L582.6 116.5 L582.9 116.4 L583.2 116.5 L583.6 116.5 L583.9 116.5 L584.2 116.6 L584.5 116.6 L584.9 116.6 L585.2 116.5 L585.5 116.4 L585.9 116.4 L586.2 116.5 L586.5 116.4 L586.9 116.1 L587.3 115.2 L587.5 115.6 L587.8 116.2 L588.2 116.4 L588.5 116.6 L588.8 116.7 L589.2 116.7 L589.5 116.7 L589.8 116.6 L590.2 116.5 L590.5 116.5 L590.8 116.5 L591.1 116.6 L591.5 116.5 L591.8 116.5 L592.1 116.5 L592.5 116.5 L592.8 116.5 L593.1 116.5 L593.5 116.4 L593.8 116.5 L594.1 116.6 L594.4 116.7 L594.8 116.5 L595.1 116.5 L595.4 116.5 L595.8 116.5 L596.1 116.5 L596.4 116.6 L596.8 116.6 L597.1 116.7 L597.4 116.6 L597.7 116.6 L598.1 116.5 L598.4 116.5 L598.7 116.6 L599.1 116.7 L599.4 116.6 L599.7 116.5 L600.1 116.5 L600.4 116.6 L600.7 116.6 L601.0 116.6 L601.4 116.7 L601.7 116.6 L602.0 116.6 L602.4 116.6 L602.7 116.6 L603.0 116.7 L603.4 116.7 L603.7 116.7 L604.0 116.6 L604.3 116.6 L604.7 116.6 L605.0 116.7 L605.3 116.7 L605.7 116.7 L606.0 116.6 L606.3 116.5 L606.7 116.6 L607.0 116.6 L607.3 116.6 L607.6 116.6 L608.0 116.6 L608.3 116.6 L608.6 116.5 L609.0 116.6 L609.3 116.7 L609.6 116.7 L610.0 116.6 L610.3 116.5 L610.6 116.6 L610.9 116.6 L611.3 116.7 L611.6 116.7 L611.9 116.7 L612.3 116.7 L612.6 116.6 L612.9 116.6 L613.3 116.5 L613.6 116.6 L613.9 116.6 L614.2 116.7 L614.6 116.6 L614.9 116.6 L615.2 116.6 L615.6 116.7 L615.9 116.7 L616.2 116.7 L616.6 116.7 L616.9 116.7 L617.2 116.7 L617.5 116.7 L617.9 116.7 L618.2 116.6 L618.5 116.6 L618.9 116.7 L619.2 116.7 L619.5 116.7 L619.9 116.7 L620.2 116.7 L620.5 116.6 L620.8 116.6 L621.2 116.5 L621.5 116.6 L621.8 116.6 L622.2 116.8 L622.5 116.7 L622.8 116.6 L623.2 116.6 L623.5 116.7 L623.8 116.8 L624.1 116.8 L624.5 116.7 L624.8 116.8 L625.1 116.7 L625.5 116.6 L625.8 116.6 L626.1 116.6 L626.5 116.6 L626.8 116.7 L627.1 116.8 L627.4 116.8 L627.8 116.8 L628.1 116.8 L628.4 116.8 L628.8 116.7 L629.1 116.7 L629.4 116.6 L629.8 116.6 L630.1 116.6 L630.4 116.5 L630.7 116.6 L631.1 116.6 L631.4 116.6 L631.7 116.7 L632.1 116.6 L632.4 116.6 L632.7 116.6 L633.1 116.5 L633.4 116.5 L633.7 116.4 L634.0 116.3 L634.4 116.0 L634.8 115.5 L635.0 115.7 L635.4 116.2 L635.7 116.4 L636.0 116.5 L636.4 116.4 L636.7 116.4 L637.0 116.3 L637.3 116.4 L637.7 116.3 L638.0 116.2 L638.3 115.9 L638.7 115.7 L639.0 115.3 L639.3 114.8 L639.7 114.3 L640.0 113.5 L640.3 112.7 L640.6 111.6 L641.0 110.6 L641.3 109.6 L641.6 108.4 L642.0 107.1 L642.3 105.9 L642.6 105.1 L643.0 104.7 L643.3 104.5 L643.6 104.8 L643.9 105.5 L644.3 106.4 L644.6 107.8 L644.9 109.0 L645.3 110.2 L645.6 111.3 L645.9 112.2 L646.3 113.1 L646.6 113.7 L646.9 114.2 L647.2 114.7 L647.6 115.3 L647.9 115.7 L648.2 115.9 L648.6 116.1 L648.9 116.2 L649.2 116.2 L649.6 116.2 L649.9 116.2 L650.2 116.2 L650.5 116.2 L650.9 116.2 L651.2 116.2 L651.5 116.3 L651.9 116.3 L652.2 116.3 L652.5 116.4 L652.9 116.4 L653.2 116.4 L653.5 116.2 L653.8 116.3 L654.2 116.4 L654.5 116.5 L654.8 116.5 L655.2 116.5 L655.5 116.4 L655.8 116.3 L656.2 116.3 L656.5 116.4 L656.8 116.4 L657.1 116.5 L657.5 116.5 L657.8 116.5 L658.1 116.5 L658.5 116.5 L658.8 116.5 L659.1 116.4 L659.5 116.4 L659.8 116.3 L660.1 116.3 L660.4 116.4 L660.8 116.5 L661.1 116.4 L661.4 116.3 L661.8 116.4 L662.1 116.5 L662.4 116.5 L662.8 116.6 L663.1 116.6 L663.4 116.5 L663.7 116.5 L664.1 116.5 L664.4 116.5 L664.7 116.5 L665.1 116.5 L665.4 116.4 L665.7 116.5 L666.1 116.5 L666.4 116.6 L666.7 116.5 L667.0 116.5 L667.4 116.4 L667.7 116.4 L668.0 116.4 L668.4 116.5 L668.7 116.6" fill="none" stroke="#4cc088" stroke-width="1.0" stroke-linejoin="round" />
<path d="M509.1 94.4 L509.4 95.3 L509.8 96.3 L510.1 97.3 L510.4 98.1 L510.8 99.0 L511.1 100.0 L511.4 100.9 L511.7 101.8 L512.1 102.6 L512.4 103.3 L512.7 103.9 L513.1 104.4 L513.4 104.8 L513.7 105.1 L514.1 105.6 L514.4 106.0 L514.7 106.4 L515.0 106.6 L515.4 106.8 L515.7 106.7 L516.0 106.8 L516.4 106.7 L516.7 106.9 L517.0 107.0 L517.4 107.2 L517.7 107.3 L518.0 107.4 L518.3 107.4 L518.7 107.5 L519.0 107.5 L519.3 107.5 L519.7 107.4 L520.0 107.3 L520.3 107.2 L520.7 107.2 L521.0 107.4 L521.3 107.5 L521.7 107.5 L522.0 107.7 L522.3 107.5 L522.6 107.5 L523.0 107.4 L523.3 107.3 L523.6 107.3 L524.0 107.4 L524.3 107.6 L524.6 107.4 L525.0 107.1 L525.3 107.0 L525.6 106.9 L525.9 106.9 L526.3 106.9 L526.6 106.7 L526.9 106.7 L527.3 106.6 L527.6 106.6 L527.9 106.7 L528.3 106.7 L528.6 106.6 L528.9 106.6 L529.2 106.5 L529.6 106.4 L529.9 106.3 L530.2 105.9 L530.6 105.6 L530.9 105.5 L531.2 105.4 L531.6 105.2 L531.9 105.1 L532.2 105.0 L532.6 105.0 L532.9 105.2 L533.2 105.3 L533.5 105.4 L533.9 105.6 L534.2 105.7 L534.5 105.8 L534.9 105.9 L535.2 106.1 L535.5 106.3 L535.9 106.4 L536.2 106.5 L536.5 106.6 L536.8 106.6 L537.2 106.7 L537.5 107.0 L537.8 107.3 L538.2 107.4 L538.5 107.5 L538.8 107.5 L539.2 107.7 L539.5 107.6 L539.8 108.0 L540.1 108.2 L540.5 108.4 L540.8 108.5 L541.1 108.6 L541.5 108.5 L541.8 108.6 L542.1 108.6 L542.5 108.7 L542.8 108.7 L543.1 108.8 L543.5 108.8 L543.8 109.0 L544.1 109.1 L544.4 109.1 L544.8 109.1 L545.1 109.1 L545.4 109.1 L545.8 109.1 L546.1 108.9 L546.4 108.8 L546.8 108.6 L547.1 108.7 L547.4 108.7 L547.7 108.6 L548.1 108.4 L548.4 108.3 L548.7 108.1 L549.1 108.0 L549.4 107.9 L549.7 107.9 L550.1 107.8 L550.4 107.7 L550.7 107.5 L551.0 107.4 L551.4 107.4 L551.7 107.1 L552.0 106.8 L552.4 106.6 L552.7 106.5 L553.0 106.5 L553.4 106.2 L553.7 106.0 L554.0 105.7 L554.4 105.8 L554.7 105.9 L555.0 105.7 L555.3 105.4 L555.7 105.3 L556.0 105.2 L556.3 105.1 L556.7 104.7 L557.0 104.5 L557.3 104.5 L557.7 104.6 L558.0 104.8 L558.3 104.9 L558.6 104.9 L559.0 105.3 L559.3 105.6 L559.6 105.9 L560.0 106.1 L560.3 106.3 L560.6 106.7 L561.0 107.0 L561.3 107.2 L561.6 107.5 L561.9 107.6 L562.3 107.8 L562.6 107.9 L562.9 108.2 L563.3 108.3 L563.6 108.5 L563.9 108.8 L564.3 109.2 L564.6 109.4 L564.9 109.6 L565.3 109.6 L565.6 109.7 L565.9 109.8 L566.2 109.8 L566.6 109.7 L566.9 109.7 L567.2 109.8 L567.6 109.8 L567.9 109.9 L568.2 109.9 L568.6 109.8 L568.9 109.7 L569.2 109.7 L569.5 109.8 L569.9 110.0 L570.2 109.9 L570.5 109.7 L570.9 109.7 L571.2 109.9 L571.5 110.0 L571.9 109.9 L572.2 109.9 L572.5 109.8 L572.8 109.8 L573.2 109.7 L573.5 109.5 L573.8 108.7 L574.3 106.8 L574.5 107.3 L574.8 108.6 L575.2 109.3 L575.5 109.5 L575.8 109.6 L576.2 109.7 L576.5 109.7 L576.8 109.6 L577.1 109.6 L577.5 109.7 L577.8 109.8 L578.1 109.9 L578.5 110.0 L578.8 110.0 L579.1 109.9 L579.5 109.9 L579.8 110.0 L580.1 110.0 L580.4 110.1 L580.8 109.9 L581.1 109.7 L581.4 109.9 L581.8 110.0 L582.1 110.1 L582.4 110.1 L582.8 110.1 L583.1 109.9 L583.4 109.7 L583.7 109.7 L584.1 109.9 L584.4 109.9 L584.7 110.0 L585.1 110.2 L585.4 110.1 L585.7 109.9 L586.1 110.0 L586.4 109.9 L586.7 109.7 L587.0 109.1 L587.3 108.7 L587.7 109.6 L588.0 110.0 L588.4 110.2 L588.7 110.2 L589.0 110.2 L589.4 110.0 L589.7 110.0 L590.0 109.9 L590.4 110.0 L590.7 109.9 L591.0 110.0 L591.3 110.2 L591.7 110.3 L592.0 110.2 L592.3 110.1 L592.7 110.1 L593.0 110.1 L593.3 110.0 L593.7 110.1 L594.0 110.0 L594.3 110.0 L594.6 110.1 L595.0 110.1 L595.3 110.2 L595.6 110.2 L596.0 110.1 L596.3 110.0 L596.6 110.1 L597.0 110.2 L597.3 110.2 L597.6 110.1 L597.9 110.0 L598.3 110.0 L598.6 109.8 L598.9 110.0 L599.3 110.2 L599.6 110.3 L599.9 110.3 L600.3 110.2 L600.6 110.1 L600.9 110.0 L601.3 109.9 L601.6 110.1 L601.9 110.2 L602.2 110.1 L602.6 110.1 L602.9 110.1 L603.2 110.3 L603.6 110.3 L603.9 110.3 L604.2 110.3 L604.6 110.2 L604.9 110.2 L605.2 110.1 L605.5 110.0 L605.9 110.0 L606.2 110.0 L606.5 110.1 L606.9 109.9 L607.2 110.0 L607.5 109.9 L607.9 110.0 L608.2 110.1 L608.5 110.1 L608.8 110.0 L609.2 110.0 L609.5 110.0 L609.8 110.1 L610.2 110.0 L610.5 110.0 L610.8 109.9 L611.2 110.1 L611.5 110.2 L611.8 110.1 L612.2 110.0 L612.5 110.1 L612.8 110.1 L613.1 110.1 L613.5 110.0 L613.8 110.0 L614.1 110.0 L614.5 110.0 L614.8 109.9 L615.1 109.7 L615.5 109.5 L615.8 109.4 L616.1 109.2 L616.4 109.1 L616.8 109.0 L617.1 108.9 L617.4 108.8 L617.8 108.7 L618.1 108.7 L618.4 108.6 L618.8 108.5 L619.1 108.4 L619.4 108.2 L619.7 108.3 L620.1 108.4 L620.4 108.5 L620.7 108.4 L621.1 108.4 L621.4 108.3 L621.7 108.3 L622.1 108.3 L622.4 108.4 L622.7 108.4 L623.1 108.2 L623.4 108.1 L623.7 108.1 L624.0 108.2 L624.4 108.1 L624.7 108.1 L625.0 108.1 L625.4 108.1 L625.7 108.1 L626.0 108.2 L626.4 108.1 L626.7 108.0 L627.0 108.0 L627.3 108.0 L627.7 108.1 L628.0 108.3 L628.3 108.4 L628.7 108.3 L629.0 108.2 L629.3 108.3 L629.7 108.4 L630.0 108.5 L630.3 108.4 L630.6 108.4 L631.0 108.3 L631.3 108.3 L631.6 108.2 L632.0 108.2 L632.3 108.1 L632.6 108.3 L633.0 108.4 L633.3 108.4 L633.6 108.2 L634.0 108.0 L634.3 108.0 L634.6 108.0 L634.9 108.0 L635.3 108.2 L635.6 108.2 L635.9 108.1 L636.3 107.8 L636.6 107.8 L636.9 107.8 L637.3 107.8 L637.6 107.9 L637.9 107.9 L638.2 107.7 L638.6 107.5 L638.9 107.4 L639.2 107.4 L639.6 107.3 L639.9 106.8 L640.2 106.4 L640.6 106.0 L640.9 105.5 L641.2 105.1 L641.5 104.6 L641.9 103.9 L642.2 102.9 L642.5 101.6 L642.9 100.5 L643.2 99.5 L643.5 98.8 L643.9 98.5 L644.2 98.8 L644.5 99.6 L644.9 100.8 L645.2 102.0 L645.5 103.1 L645.8 104.1 L646.2 104.9 L646.5 105.6 L646.8 106.1 L647.2 106.4 L647.5 106.6 L647.8 106.9 L648.2 107.2 L648.5 107.4 L648.8 107.4 L649.1 107.5 L649.5 107.6 L649.8 107.9 L650.1 107.9 L650.5 107.9 L650.8 108.0 L651.1 107.9 L651.5 108.0 L651.8 108.0 L652.1 107.9 L652.4 107.8 L652.8 107.8 L653.1 107.8 L653.4 107.9 L653.8 108.0 L654.1 108.1 L654.4 108.1 L654.8 108.1 L655.1 108.0 L655.4 107.8 L655.8 107.9 L656.1 108.0 L656.4 108.1 L656.7 108.1 L657.1 108.3 L657.4 108.1 L657.7 108.0 L658.1 107.9 L658.4 107.9 L658.7 108.1 L659.1 108.1 L659.4 108.2 L659.7 108.1 L660.0 108.1 L660.4 107.9 L660.7 107.9 L661.0 107.9 L661.4 107.9 L661.7 107.8 L662.0 107.8 L662.4 107.8 L662.7 107.8 L663.0 107.8 L663.3 107.7 L663.7 107.8 L664.0 108.0 L664.3 108.0 L664.7 108.0 L665.0 107.7" fill="none" stroke="#18e8ee" stroke-width="1.0" stroke-linejoin="round" />
<path d="M515.9 93.3 L516.2 93.5 L516.6 93.8 L516.9 94.1 L517.2 94.4 L517.5 94.6 L517.9 94.8 L518.2 95.0 L518.5 95.0 L518.9 95.1 L519.2 95.0 L519.5 95.0 L519.9 95.0 L520.2 95.0 L520.5 95.0 L520.8 95.0 L521.2 95.0 L521.5 95.0 L521.8 95.0 L522.2 95.0 L522.5 95.0 L522.8 95.0 L523.2 95.1 L523.5 95.0 L523.8 94.9 L524.1 95.0 L524.5 95.0 L524.8 95.1 L525.1 95.1 L525.5 95.1 L525.8 95.0 L526.1 95.0 L526.5 94.9 L526.8 94.9 L527.1 95.0 L527.4 95.0 L527.8 95.0 L528.1 95.0 L528.4 95.1 L528.8 95.1 L529.1 95.1 L529.4 95.1 L529.8 95.0 L530.1 95.0 L530.4 94.9 L530.7 94.9 L531.1 94.9 L531.4 95.0 L531.7 95.1 L532.1 95.1 L532.4 95.1 L532.7 95.0 L533.1 95.0 L533.4 95.1 L533.7 95.0 L534.0 94.9 L534.4 94.8 L534.7 94.8 L535.0 94.4 L535.5 93.1 L535.7 93.7 L536.0 94.7 L536.3 95.0 L536.7 95.1 L537.0 95.1 L537.3 95.1 L537.7 95.1 L538.0 95.0 L538.3 95.0 L538.7 94.9 L539.0 94.9 L539.3 94.9 L539.6 94.9 L540.0 94.9 L540.3 94.9 L540.6 95.0 L541.0 94.9 L541.3 94.8 L541.6 94.6 L542.0 94.5 L542.3 94.4 L542.6 94.2 L542.9 94.2 L543.3 94.5 L543.6 94.7 L543.9 94.8 L544.3 94.9 L544.6 94.9 L544.9 94.9 L545.3 95.0 L545.6 95.0 L545.9 95.0 L546.2 95.0 L546.6 95.0 L546.9 95.0 L547.2 95.0 L547.6 95.0 L547.9 94.9 L548.2 95.0 L548.6 95.0 L548.9 95.0 L549.2 95.0 L549.5 95.0 L549.9 95.1 L550.2 95.0 L550.5 95.0 L550.9 94.9 L551.2 94.9 L551.5 94.9 L551.9 94.8 L552.2 94.7 L552.5 94.2 L552.8 92.6 L553.2 87.0 L553.4 82.8 L553.8 91.0 L554.2 93.3 L554.5 93.3 L554.9 92.1 L555.1 93.1 L555.5 94.3 L555.8 94.7 L556.1 94.8 L556.5 94.9 L556.8 95.0 L557.1 95.0 L557.5 95.0 L557.8 95.0 L558.1 95.0 L558.4 95.0 L558.8 95.0 L559.1 95.0 L559.4 94.9 L559.8 94.8 L560.1 94.7 L560.4 94.5 L560.8 94.2 L561.1 93.6 L561.4 93.3 L561.7 93.4 L562.1 93.8 L562.4 94.2 L562.7 94.6 L563.1 94.7 L563.4 94.8 L563.7 94.8 L564.1 94.8 L564.4 94.9 L564.7 95.0 L565.0 95.0 L565.4 95.0 L565.7 95.0 L566.0 95.0 L566.4 95.0 L566.7 95.0 L567.0 95.1 L567.4 95.1 L567.7 95.1 L568.0 95.1 L568.3 95.1 L568.7 95.2 L569.0 95.1 L569.3 95.1 L569.7 95.1 L570.0 95.1 L570.3 95.1 L570.7 95.1 L571.0 95.1 L571.3 95.1 L571.6 95.1 L572.0 95.0 L572.3 95.0 L572.6 95.0 L573.0 94.9 L573.3 94.7 L573.6 94.4 L574.0 94.0 L574.3 94.4 L574.6 94.8 L574.9 94.9 L575.3 94.9 L575.6 95.0 L575.9 94.9 L576.3 95.0 L576.6 95.1 L576.9 95.1 L577.2 95.1 L577.6 95.1 L577.9 95.1 L578.2 95.1 L578.6 95.0 L578.9 95.0 L579.2 95.0 L579.6 95.0 L579.9 95.0 L580.2 94.9 L580.5 94.6 L580.9 93.7 L581.3 91.8 L581.5 92.7 L581.9 94.2 L582.2 94.8 L582.5 95.0 L582.9 95.1 L583.2 95.1 L583.5 95.1 L583.8 95.0 L584.2 95.0 L584.5 95.0 L584.8 95.1 L585.2 95.1 L585.5 95.1 L585.8 95.1 L586.2 95.1 L586.5 95.1 L586.8 95.1 L587.1 95.2 L587.5 95.1 L587.8 95.0 L588.1 95.0 L588.5 95.0 L588.8 95.0 L589.1 95.1 L589.5 95.2 L589.8 95.1 L590.1 95.1 L590.4 95.0 L590.8 95.0 L591.1 95.1 L591.4 95.1 L591.8 95.2 L592.1 95.2 L592.4 95.1 L592.8 95.1 L593.1 95.1 L593.4 95.1 L593.7 95.0 L594.1 95.0 L594.4 95.0 L594.7 95.0 L595.1 95.0 L595.4 95.1 L595.7 95.1 L596.0 95.1 L596.4 95.2 L596.7 95.2 L597.0 95.1 L597.4 95.1 L597.7 95.0 L598.0 95.0 L598.4 95.0 L598.7 95.0 L599.0 95.0 L599.3 95.1 L599.7 95.1 L600.0 95.2 L600.3 95.1 L600.7 95.1 L601.0 95.1 L601.3 95.1 L601.7 95.1 L602.0 95.1 L602.3 95.1 L602.6 95.2 L603.0 95.2 L603.3 95.2 L603.6 95.1 L604.0 95.1 L604.3 95.2 L604.6 95.2 L605.0 95.2 L605.3 95.1 L605.6 95.1 L605.9 95.1 L606.3 95.1 L606.6 95.1 L606.9 95.0 L607.3 95.1 L607.6 95.1 L607.9 95.2 L608.3 95.2 L608.6 95.1 L608.9 95.1 L609.2 95.1 L609.6 95.1 L609.9 95.2 L610.2 95.2 L610.6 95.2 L610.9 95.2 L611.2 95.2 L611.6 95.2 L611.9 95.2 L612.2 95.2 L612.5 95.2 L612.9 95.2 L613.2 95.2 L613.5 95.2 L613.9 95.2 L614.2 95.1 L614.5 95.1 L614.8 95.1 L615.2 95.1 L615.5 95.0 L615.8 95.0 L616.2 95.0 L616.5 95.1 L616.8 95.0 L617.2 95.0 L617.5 95.1 L617.8 95.1 L618.1 95.1 L618.5 95.0 L618.8 95.0 L619.1 95.0 L619.5 95.0 L619.8 95.0 L620.1 95.0 L620.5 95.0 L620.8 95.0 L621.1 95.1 L621.4 95.2 L621.8 95.1 L622.1 95.1 L622.4 95.0 L622.8 95.1 L623.1 95.2 L623.4 95.1 L623.8 95.2 L624.1 95.2 L624.4 95.2 L624.7 95.2 L625.1 95.1 L625.4 95.1 L625.7 95.1 L626.1 95.1 L626.4 95.1 L626.7 95.1 L627.1 95.1 L627.4 95.1 L627.7 95.1 L628.0 95.1 L628.4 95.1 L628.7 95.1 L629.0 95.1 L629.4 95.0 L629.7 95.0 L630.0 95.1 L630.4 95.1 L630.7 95.0 L631.0 95.0 L631.3 95.0 L631.7 95.0 L632.0 95.0 L632.3 95.0 L632.7 95.1 L633.0 95.1 L633.3 95.1 L633.6 95.0 L634.0 95.0 L634.3 94.9 L634.6 95.0 L635.0 95.1 L635.3 95.1 L635.6 95.0 L636.0 95.0 L636.3 95.0 L636.6 95.0 L636.9 95.0 L637.3 94.9 L637.6 94.9 L637.9 94.9 L638.3 95.0 L638.6 95.0 L638.9 94.9 L639.3 94.8 L639.6 94.7 L639.9 94.6 L640.2 94.6 L640.6 94.5 L640.9 94.3 L641.2 94.1 L641.6 93.8 L641.9 93.5 L642.2 93.3 L642.6 93.3 L642.9 93.5 L643.2 93.8 L643.5 94.1 L643.9 94.3 L644.2 94.5 L644.5 94.6 L644.9 94.7 L645.2 94.7 L645.5 94.7 L645.9 94.7 L646.2 94.6 L646.5 94.6 L646.8 94.5 L647.2 94.4 L647.5 94.1 L647.8 93.7 L648.2 93.2 L648.5 92.4 L648.8 91.1 L649.2 89.9 L649.5 90.0 L649.8 91.3 L650.1 92.5 L650.5 93.3 L650.8 93.8 L651.1 94.1 L651.5 94.4 L651.8 94.6 L652.1 94.7 L652.4 94.8 L652.8 94.9 L653.1 94.9 L653.4 95.0 L653.8 95.0 L654.1 94.9 L654.4 94.9 L654.8 94.9 L655.1 95.0 L655.4 95.0 L655.7 95.0 L656.1 95.0 L656.4 95.0 L656.7 95.1 L657.1 95.0 L657.4 95.0 L657.7 95.0 L658.1 95.0 L658.4 95.0 L658.7 95.0 L659.0 94.9 L659.4 95.0 L659.7 95.1 L660.0 95.1 L660.4 95.1 L660.7 95.2 L661.0 95.1 L661.4 95.2 L661.7 95.2 L662.0 95.2 L662.3 95.2 L662.7 95.2 L663.0 95.1 L663.3 95.2 L663.7 95.2 L664.0 95.2 L664.3 95.1 L664.7 95.1 L665.0 95.1 L665.3 95.0 L665.6 95.0 L666.0 95.1 L666.3 95.1 L666.6 95.2 L667.0 95.2 L667.3 95.1 L667.6 95.1 L668.0 95.0 L668.3 95.1 L668.6 95.1 L668.9 95.1 L669.3 95.1 L669.6 95.1" fill="none" stroke="#a89c38" stroke-width="1.0" stroke-linejoin="round" />
<path d="M509.1 73.0 L509.4 73.7 L509.8 74.3 L510.1 75.1 L510.4 76.1 L510.8 77.0 L511.1 77.7 L511.4 78.4 L511.7 79.2 L512.1 79.9 L512.4 80.5 L512.7 81.0 L513.1 81.4 L513.4 81.9 L513.7 82.2 L514.1 82.5 L514.4 82.5 L514.7 82.7 L515.0 82.7 L515.4 82.7 L515.7 82.8 L516.0 82.9 L516.4 83.0 L516.7 83.2 L517.0 83.3 L517.4 83.2 L517.7 83.2 L518.0 83.2 L518.3 83.3 L518.7 83.4 L519.0 83.2 L519.3 83.1 L519.7 83.1 L520.0 83.1 L520.3 83.1 L520.7 83.1 L521.0 83.1 L521.3 83.1 L521.7 82.9 L522.0 82.8 L522.3 82.8 L522.6 82.9 L523.0 82.8 L523.3 82.9 L523.6 82.8 L524.0 82.8 L524.3 82.7 L524.6 82.7 L525.0 82.7 L525.3 82.8 L525.6 82.8 L525.9 82.8 L526.3 82.7 L526.6 82.7 L526.9 82.6 L527.3 82.6 L527.6 82.5 L527.9 82.4 L528.3 82.3 L528.6 82.2 L528.9 82.3 L529.2 82.3 L529.6 82.1 L529.9 81.9 L530.2 81.7 L530.6 81.6 L530.9 81.4 L531.2 81.2 L531.6 81.0 L531.9 81.1 L532.2 81.1 L532.6 81.0 L532.9 80.8 L533.2 80.8 L533.5 80.9 L533.9 81.1 L534.2 81.2 L534.5 81.5 L534.9 81.6 L535.2 81.8 L535.5 82.0 L535.9 82.1 L536.2 82.3 L536.5 82.3 L536.8 82.5 L537.2 82.7 L537.5 82.8 L537.8 82.9 L538.2 82.9 L538.5 82.9 L538.8 82.9 L539.2 83.0 L539.5 83.0 L539.8 83.1 L540.1 83.1 L540.5 83.2 L540.8 83.4 L541.1 83.5 L541.5 83.5 L541.8 83.5 L542.1 83.6 L542.5 83.5 L542.8 83.5 L543.1 83.4 L543.5 83.4 L543.8 83.3 L544.1 83.2 L544.4 83.2 L544.8 83.3 L545.1 83.2 L545.4 83.1 L545.8 83.0 L546.1 82.9 L546.4 83.0 L546.8 83.0 L547.1 83.0 L547.4 83.0 L547.7 82.8 L548.1 82.7 L548.4 82.6 L548.7 82.5 L549.1 82.5 L549.4 82.6 L549.7 82.5 L550.1 82.5 L550.4 82.4 L550.7 82.3 L551.0 82.0 L551.4 81.7 L551.7 81.5 L552.0 81.3 L552.4 81.0 L552.7 80.5 L553.0 79.0 L553.4 76.2 L553.7 77.9 L554.0 79.3 L554.4 79.6 L554.7 79.8 L555.0 79.6 L555.3 79.4 L555.7 79.2 L556.0 79.1 L556.3 78.8 L556.7 78.9 L557.0 79.0 L557.3 79.0 L557.7 79.1 L558.0 79.1 L558.3 79.0 L558.6 79.1 L559.0 79.5 L559.3 79.9 L559.6 80.2 L560.0 80.3 L560.3 80.3 L560.6 80.7 L561.0 80.9 L561.3 81.2 L561.6 81.3 L561.9 81.4 L562.3 81.7 L562.6 82.0 L562.9 82.1 L563.3 82.0 L563.6 82.1 L563.9 82.3 L564.3 82.4 L564.6 82.3 L564.9 82.2 L565.3 82.2 L565.6 82.3 L565.9 82.5 L566.2 82.5 L566.6 82.5 L566.9 82.5 L567.2 82.4 L567.6 82.4 L567.9 82.2 L568.2 82.1 L568.6 82.1 L568.9 82.2 L569.2 82.3 L569.5 82.3 L569.9 82.4 L570.2 82.3 L570.5 82.3 L570.9 82.2 L571.2 82.1 L571.5 82.0 L571.9 82.2 L572.2 82.3 L572.5 82.3 L572.8 82.4 L573.2 82.3 L573.5 82.2 L573.8 82.0 L574.2 81.6 L574.5 81.1 L574.7 80.9 L575.2 81.6 L575.5 82.0 L575.8 82.2 L576.2 82.1 L576.5 82.2 L576.8 82.2 L577.1 82.2 L577.5 82.2 L577.8 82.2 L578.1 82.1 L578.5 82.2 L578.8 82.3 L579.1 82.3 L579.5 82.3 L579.8 82.3 L580.1 82.2 L580.4 82.1 L580.8 81.6 L581.1 80.5 L581.3 80.1 L581.8 81.5 L582.1 82.0 L582.4 82.2 L582.8 82.4 L583.1 82.3 L583.4 82.2 L583.7 82.1 L584.1 82.1 L584.4 82.1 L584.7 82.1 L585.1 82.0 L585.4 82.1 L585.7 82.1 L586.1 82.2 L586.4 82.2 L586.7 82.3 L587.0 82.2 L587.4 82.1 L587.7 82.1 L588.0 82.2 L588.4 82.2 L588.7 82.1 L589.0 82.2 L589.4 82.0 L589.7 82.0 L590.0 81.9 L590.4 81.9 L590.7 81.9 L591.0 82.1 L591.3 82.2 L591.7 82.2 L592.0 82.0 L592.3 82.0 L592.7 82.0 L593.0 82.0 L593.3 82.1 L593.7 82.0 L594.0 82.0 L594.3 82.0 L594.6 82.0 L595.0 82.1 L595.3 82.2 L595.6 82.1 L596.0 82.2 L596.3 82.3 L596.6 82.3 L597.0 82.2 L597.3 82.1 L597.6 82.1 L597.9 82.1 L598.3 82.1 L598.6 82.1 L598.9 82.1 L599.3 82.2 L599.6 82.2 L599.9 82.2 L600.3 82.1 L600.6 82.2 L600.9 82.1 L601.3 82.0 L601.6 82.0 L601.9 82.0 L602.2 82.0 L602.6 81.9 L602.9 82.0 L603.2 81.9 L603.6 82.0 L603.9 81.9 L604.2 82.0 L604.6 81.9 L604.9 81.8 L605.2 81.7 L605.5 81.8 L605.9 81.8 L606.2 81.7 L606.5 81.7 L606.9 81.7 L607.2 81.8 L607.5 81.9 L607.9 81.8 L608.2 81.6 L608.5 81.5 L608.8 81.6 L609.2 81.5 L609.5 81.7 L609.8 81.8 L610.2 81.7 L610.5 81.6 L610.8 81.4 L611.2 81.6 L611.5 81.7 L611.8 81.6 L612.2 81.7 L612.5 81.6 L612.8 81.5 L613.1 81.6 L613.5 81.6 L613.8 81.6 L614.1 81.6 L614.5 81.6 L614.8 81.6 L615.1 81.4 L615.5 81.2 L615.8 81.1 L616.1 80.9 L616.4 80.7 L616.8 80.7 L617.1 80.6 L617.4 80.4 L617.8 80.3 L618.1 80.2 L618.4 80.2 L618.8 80.2 L619.1 80.1 L619.4 80.1 L619.7 80.1 L620.1 80.2 L620.4 80.3 L620.7 80.2 L621.1 80.0 L621.4 80.2 L621.7 80.2 L622.1 80.2 L622.4 80.1 L622.7 80.0 L623.1 80.0 L623.4 80.0 L623.7 80.1 L624.0 80.2 L624.4 80.4 L624.7 80.3 L625.0 80.3 L625.4 80.1 L625.7 80.0 L626.0 80.0 L626.4 80.0 L626.7 80.1 L627.0 80.2 L627.3 80.4 L627.7 80.3 L628.0 80.4 L628.3 80.4 L628.7 80.3 L629.0 80.4 L629.3 80.3 L629.7 80.3 L630.0 80.3 L630.3 80.3 L630.6 80.4 L631.0 80.3 L631.3 80.3 L631.6 80.3 L632.0 80.4 L632.3 80.4 L632.6 80.4 L633.0 80.5 L633.3 80.4 L633.6 80.6 L634.0 80.6 L634.3 80.5 L634.6 80.3 L634.9 80.3 L635.3 80.4 L635.6 80.4 L635.9 80.3 L636.3 80.3 L636.6 80.3 L636.9 80.4 L637.3 80.3 L637.6 80.0 L637.9 79.6 L638.2 79.5 L638.6 79.2 L638.9 78.8 L639.2 78.3 L639.6 77.8 L639.9 77.5 L640.2 77.1 L640.6 76.9 L640.9 76.8 L641.2 76.8 L641.5 76.5 L641.9 76.4 L642.2 76.5 L642.5 76.6 L642.9 76.6 L643.2 76.5 L643.5 76.4 L643.9 76.7 L644.2 77.1 L644.5 77.4 L644.9 77.8 L645.2 78.2 L645.5 78.8 L645.8 79.4 L646.2 79.9 L646.5 80.2 L646.8 80.5 L647.2 80.7 L647.5 80.8 L647.8 80.9 L648.2 81.0 L648.5 81.0 L648.8 81.0 L649.1 80.8 L649.5 80.1 L649.8 79.5 L650.1 80.0 L650.5 80.6 L650.8 80.8 L651.1 80.9 L651.5 80.8 L651.8 80.8 L652.1 80.8 L652.4 80.9 L652.8 81.0 L653.1 81.3 L653.4 81.2 L653.8 81.2 L654.1 81.1 L654.4 81.0 L654.8 80.8 L655.1 81.0 L655.4 81.0 L655.8 81.0 L656.1 81.1 L656.4 81.1 L656.7 81.1 L657.1 81.1 L657.4 81.0 L657.7 80.9 L658.1 80.9 L658.4 80.9 L658.7 80.8 L659.1 80.9 L659.4 80.9 L659.7 81.0 L660.0 80.9 L660.4 80.9 L660.7 80.9 L661.0 81.0 L661.4 80.9 L661.7 80.9 L662.0 80.9 L662.4 81.0 L662.7 81.1 L663.0 81.1 L663.3 81.0 L663.7 80.9 L664.0 80.8 L664.3 80.8 L664.7 80.8 L665.0 80.9" fill="none" stroke="#22e022" stroke-width="1.0" stroke-linejoin="round" />
<path d="M511.6 60.0 L511.9 60.7 L512.3 61.4 L512.6 62.0 L512.9 62.3 L513.2 62.7 L513.6 63.3 L513.9 63.7 L514.2 63.9 L514.6 63.7 L514.9 63.7 L515.2 63.9 L515.6 64.0 L515.9 64.0 L516.2 63.9 L516.5 63.9 L516.9 64.0 L517.2 64.0 L517.5 64.0 L517.9 63.9 L518.2 63.9 L518.5 63.9 L518.9 63.9 L519.2 64.0 L519.5 63.9 L519.8 64.0 L520.2 64.0 L520.5 64.0 L520.8 63.9 L521.2 63.8 L521.5 63.9 L521.8 63.9 L522.2 63.8 L522.5 63.8 L522.8 63.7 L523.1 63.8 L523.5 63.8 L523.8 63.8 L524.1 63.9 L524.5 63.9 L524.8 63.5 L525.1 63.2 L525.5 63.0 L525.8 62.9 L526.1 62.5 L526.4 62.0 L526.8 61.5 L527.1 60.9 L527.4 61.0 L527.8 61.6 L528.1 62.3 L528.4 63.0 L528.8 63.2 L529.1 63.3 L529.4 63.4 L529.7 63.5 L530.1 63.7 L530.4 63.6 L530.7 63.6 L531.1 63.7 L531.4 63.7 L531.7 63.7 L532.1 63.6 L532.4 63.4 L532.7 63.4 L533.0 63.4 L533.4 63.3 L533.7 62.9 L534.0 62.4 L534.4 61.8 L534.7 60.8 L535.0 60.0 L535.3 60.3 L535.7 61.4 L536.0 62.2 L536.3 62.7 L536.7 63.1 L537.0 63.5 L537.3 63.7 L537.7 63.7 L538.0 63.7 L538.3 63.6 L538.6 63.6 L539.0 63.6 L539.3 63.8 L539.6 63.9 L540.0 63.9 L540.3 63.8 L540.6 63.9 L541.0 63.7 L541.3 63.7 L541.6 63.7 L541.9 63.9 L542.3 63.9 L542.6 63.8 L542.9 63.8 L543.3 63.8 L543.6 64.0 L543.9 64.0 L544.3 64.1 L544.6 64.0 L544.9 64.0 L545.2 64.0 L545.6 64.0 L545.9 63.9 L546.2 63.9 L546.6 63.9 L546.9 64.0 L547.2 64.1 L547.6 64.1 L547.9 64.1 L548.2 64.0 L548.5 63.9 L548.9 63.9 L549.2 63.9 L549.5 63.8 L549.9 63.8 L550.2 63.9 L550.5 64.0 L550.9 64.1 L551.2 63.9 L551.5 63.8 L551.8 63.7 L552.2 63.5 L552.5 63.3 L552.8 62.3 L553.2 58.5 L553.4 55.5 L553.8 61.2 L554.2 63.2 L554.5 63.7 L554.8 63.8 L555.1 63.9 L555.5 63.9 L555.8 63.9 L556.1 63.9 L556.5 63.9 L556.8 63.8 L557.1 63.8 L557.4 63.7 L557.8 63.7 L558.1 63.6 L558.4 63.2 L558.8 62.7 L559.1 62.7 L559.4 63.0 L559.8 63.3 L560.1 63.4 L560.4 63.4 L560.7 63.7 L561.1 63.9 L561.4 63.9 L561.7 63.7 L562.1 63.6 L562.4 63.8 L562.7 64.0 L563.1 63.9 L563.4 63.9 L563.7 63.8 L564.0 63.9 L564.4 63.8 L564.7 63.7 L565.0 63.6 L565.4 63.4 L565.7 63.0 L566.0 62.8 L566.4 62.9 L566.7 63.2 L567.0 63.5 L567.3 63.8 L567.7 63.9 L568.0 63.8 L568.3 63.6 L568.7 63.7 L569.0 63.8 L569.3 63.9 L569.7 64.0 L570.0 64.0 L570.3 64.1 L570.6 63.9 L571.0 63.8 L571.3 63.8 L571.6 63.8 L572.0 63.7 L572.3 63.8 L572.6 63.6 L573.0 63.5 L573.3 63.3 L573.6 63.0 L573.9 62.6 L574.3 62.8 L574.6 63.2 L574.9 63.5 L575.3 63.7 L575.6 63.8 L575.9 63.9 L576.3 64.0 L576.6 64.0 L576.9 63.9 L577.2 63.8 L577.6 63.9 L577.9 63.9 L578.2 64.1 L578.6 64.1 L578.9 64.2 L579.2 64.2 L579.5 64.2 L579.9 64.1 L580.2 63.9 L580.5 63.7 L580.9 63.4 L581.3 62.4 L581.5 62.9 L581.9 63.8 L582.2 64.1 L582.5 64.1 L582.8 64.1 L583.2 64.2 L583.5 64.3 L583.8 64.3 L584.2 64.4 L584.5 64.3 L584.8 64.2 L585.2 64.0 L585.5 64.2 L585.8 64.3 L586.1 64.3 L586.5 64.2 L586.8 64.0 L587.1 64.1 L587.5 64.2 L587.8 64.3 L588.1 64.2 L588.5 64.3 L588.8 64.4 L589.1 64.4 L589.4 64.5 L589.8 64.4 L590.1 64.3 L590.4 64.3 L590.8 64.4 L591.1 64.4 L591.4 64.4 L591.8 64.5 L592.1 64.4 L592.4 64.2 L592.7 64.2 L593.1 64.2 L593.4 64.2 L593.7 64.2 L594.1 64.2 L594.4 64.1 L594.7 64.2 L595.1 64.1 L595.4 64.1 L595.7 64.1 L596.0 64.2 L596.4 64.2 L596.7 64.2 L597.0 64.3 L597.4 64.4 L597.7 64.5 L598.0 64.6 L598.4 64.5 L598.7 64.5 L599.0 64.4 L599.3 64.3 L599.7 64.3 L600.0 64.3 L600.3 64.3 L600.7 64.4 L601.0 64.4 L601.3 64.5 L601.7 64.6 L602.0 64.5 L602.3 64.6 L602.6 64.5 L603.0 64.5 L603.3 64.5 L603.6 64.5 L604.0 64.5 L604.3 64.5 L604.6 64.4 L604.9 64.5 L605.3 64.6 L605.6 64.4 L605.9 64.3 L606.3 64.2 L606.6 64.3 L606.9 64.2 L607.3 64.2 L607.6 64.2 L607.9 64.2 L608.2 64.2 L608.6 64.3 L608.9 64.5 L609.2 64.6 L609.6 64.4 L609.9 64.1 L610.2 63.8 L610.6 63.2 L611.0 59.9 L611.2 61.4 L611.5 63.5 L611.9 64.0 L612.2 64.2 L612.5 64.2 L612.9 64.2 L613.2 64.1 L613.5 64.3 L613.9 64.5 L614.2 64.5 L614.5 64.4 L614.8 64.3 L615.2 64.3 L615.5 64.5 L615.8 64.5 L616.2 64.5 L616.5 64.5 L616.8 64.4 L617.2 64.2 L617.5 64.2 L617.8 64.2 L618.1 64.4 L618.5 64.4 L618.8 64.6 L619.1 64.4 L619.5 64.3 L619.8 64.2 L620.1 64.2 L620.5 64.3 L620.8 64.2 L621.1 64.2 L621.4 64.3 L621.8 64.5 L622.1 64.5 L622.4 64.4 L622.8 64.1 L623.1 64.2 L623.4 64.2 L623.8 64.3 L624.1 64.2 L624.4 64.3 L624.7 64.4 L625.1 64.5 L625.4 64.5 L625.7 64.4 L626.1 64.3 L626.4 64.5 L626.7 64.6 L627.0 64.6 L627.4 64.5 L627.7 64.5 L628.0 64.5 L628.4 64.5 L628.7 64.4 L629.0 64.3 L629.4 64.3 L629.7 64.4 L630.0 64.4 L630.3 64.4 L630.7 64.4 L631.0 64.4 L631.3 64.3 L631.7 64.3 L632.0 64.3 L632.3 64.3 L632.7 64.3 L633.0 64.3 L633.3 64.4 L633.6 64.4 L634.0 64.4 L634.3 64.4 L634.6 64.4 L635.0 64.4 L635.3 64.3 L635.6 64.3 L636.0 64.2 L636.3 64.1 L636.6 64.1 L636.9 64.1 L637.3 64.1 L637.6 64.1 L637.9 64.0 L638.3 64.0 L638.6 63.9 L638.9 63.9 L639.3 63.7 L639.6 63.5 L639.9 63.5 L640.2 63.4 L640.6 62.9 L640.9 62.4 L641.2 61.6 L641.6 60.9 L641.9 60.1 L642.2 59.6 L642.6 59.8 L642.9 60.5 L643.2 61.4 L643.5 62.2 L643.9 62.7 L644.2 63.0 L644.5 63.3 L644.9 63.4 L645.2 63.6 L645.5 63.7 L645.9 63.8 L646.2 63.9 L646.5 63.8 L646.8 63.8 L647.2 63.8 L647.5 63.5 L647.8 63.2 L648.2 62.6 L648.5 61.5 L648.8 60.1 L649.1 58.7 L649.5 58.6 L649.8 60.2 L650.1 61.6 L650.5 62.6 L650.8 63.1 L651.1 63.5 L651.5 63.8 L651.8 64.0 L652.1 64.0 L652.4 64.0 L652.8 64.1 L653.1 64.2 L653.4 64.2 L653.8 64.3 L654.1 64.2 L654.4 64.3 L654.8 64.3 L655.1 64.3 L655.4 64.2 L655.7 64.3 L656.1 64.3 L656.4 64.5 L656.7 64.5 L657.1 64.5 L657.4 64.5 L657.7 64.4 L658.1 64.3 L658.4 64.4 L658.7 64.5 L659.0 64.5 L659.4 64.3 L659.7 64.2 L660.0 64.3 L660.4 64.3 L660.7 64.5 L661.0 64.5 L661.4 64.5 L661.7 64.4 L662.0 64.4 L662.3 64.3 L662.7 64.3 L663.0 64.3 L663.3 64.2 L663.7 64.2 L664.0 64.4 L664.3 64.5 L664.7 64.5 L665.0 64.5 L665.3 64.5 L665.6 64.5 L666.0 64.6 L666.3 64.5 L666.6 64.4 L667.0 64.4 L667.3 64.4 L667.6 64.3 L668.0 64.4 L668.3 64.5 L668.6 64.5 L668.9 64.4 L669.3 64.3 L669.6 64.4" fill="none" stroke="#ff10ff" stroke-width="1.0" stroke-linejoin="round" />
<path d="M510.3 15.7 L510.6 21.4 L511.0 27.1 L511.3 31.6 L511.6 36.2 L512.0 40.3 L512.3 43.8 L512.6 46.4 L512.9 48.4 L513.3 49.8 L513.6 51.0 L513.9 51.8 L514.3 52.3 L514.6 52.7 L514.9 53.0 L515.3 53.4 L515.6 53.6 L515.9 53.8 L516.2 54.0 L516.6 54.2 L516.9 54.3 L517.2 54.3 L517.6 54.5 L517.9 54.5 L518.2 54.5 L518.6 54.6 L518.9 54.7 L519.2 54.8 L519.5 54.8 L519.9 54.9 L520.2 55.0 L520.5 55.1 L520.9 55.1 L521.2 55.2 L521.5 55.2 L521.9 55.2 L522.2 55.2 L522.5 55.2 L522.8 55.1 L523.2 55.1 L523.5 55.0 L523.8 55.0 L524.2 55.0 L524.5 55.0 L524.8 55.0 L525.2 55.0 L525.5 55.1 L525.8 55.1 L526.1 55.0 L526.5 55.0 L526.8 55.1 L527.1 55.1 L527.5 55.1 L527.8 55.0 L528.1 55.0 L528.5 55.0 L528.8 55.0 L529.1 55.0 L529.4 55.0 L529.8 55.0 L530.1 55.0 L530.4 55.0 L530.8 55.0 L531.1 55.0 L531.4 55.0 L531.8 55.0 L532.1 55.1 L532.4 55.1 L532.8 55.1 L533.1 55.1 L533.4 55.1 L533.7 55.1 L534.1 55.0 L534.4 54.9 L534.7 54.7 L535.1 53.9 L535.5 51.4 L535.7 52.6 L536.1 54.3 L536.4 54.7 L536.7 54.8 L537.0 54.9 L537.4 54.9 L537.7 54.9 L538.0 55.0 L538.4 55.0 L538.7 55.1 L539.0 55.1 L539.4 55.0 L539.7 55.0 L540.0 54.9 L540.3 54.9 L540.7 54.9 L541.0 54.9 L541.3 54.9 L541.7 54.9 L542.0 54.9 L542.3 55.0 L542.7 55.0 L543.0 55.0 L543.3 55.0 L543.6 54.9 L544.0 54.8 L544.3 54.8 L544.6 54.9 L545.0 54.8 L545.3 54.8 L545.6 54.4 L546.0 54.1 L546.3 54.3 L546.6 54.7 L546.9 54.8 L547.3 54.9 L547.6 54.9 L547.9 54.9 L548.3 54.9 L548.6 55.0 L548.9 55.0 L549.3 54.9 L549.6 54.8 L549.9 54.9 L550.2 55.0 L550.6 54.9 L550.9 54.8 L551.2 54.8 L551.6 54.7 L551.9 54.6 L552.2 54.2 L552.6 53.0 L552.9 49.0 L553.2 35.5 L553.4 29.5 L553.9 47.5 L554.2 50.5 L554.6 48.6 L554.9 51.0 L555.2 53.5 L555.5 54.3 L555.9 54.6 L556.2 54.7 L556.5 54.7 L556.9 54.7 L557.2 54.7 L557.5 54.7 L557.8 54.6 L558.2 54.5 L558.5 54.4 L558.8 54.3 L559.2 54.1 L559.5 53.9 L559.8 53.5 L560.2 52.9 L560.5 52.0 L560.8 51.0 L561.1 50.6 L561.5 51.3 L561.8 52.2 L562.1 53.0 L562.5 53.6 L562.8 53.9 L563.1 54.1 L563.5 54.3 L563.8 54.5 L564.1 54.6 L564.4 54.6 L564.8 54.6 L565.1 54.6 L565.4 54.6 L565.8 54.6 L566.1 54.6 L566.4 54.6 L566.8 54.5 L567.1 54.2 L567.5 53.7 L567.7 53.9 L568.1 54.3 L568.4 54.6 L568.7 54.6 L569.1 54.7 L569.4 54.8 L569.7 54.8 L570.1 54.8 L570.4 54.8 L570.7 54.8 L571.0 54.8 L571.4 54.8 L571.7 54.8 L572.0 54.7 L572.4 54.5 L572.7 54.2 L573.0 53.5 L573.4 51.8 L573.7 50.1 L574.0 51.6 L574.3 53.4 L574.7 54.3 L575.0 54.6 L575.3 54.7 L575.7 54.7 L576.0 54.8 L576.3 54.7 L576.7 54.7 L577.0 54.8 L577.3 54.8 L577.7 54.8 L578.0 54.7 L578.3 54.7 L578.6 54.6 L579.0 54.6 L579.3 54.6 L579.6 54.6 L580.0 54.5 L580.3 54.1 L580.6 53.0 L581.0 50.1 L581.2 47.1 L581.6 50.8 L581.9 53.4 L582.3 54.3 L582.6 54.5 L582.9 54.5 L583.3 54.6 L583.6 54.6 L583.9 54.6 L584.3 54.7 L584.6 54.8 L584.9 54.7 L585.2 54.7 L585.6 54.6 L585.9 54.7 L586.2 54.8 L586.6 54.7 L586.9 54.6 L587.2 54.6 L587.6 54.6 L587.9 54.6 L588.2 54.6 L588.5 54.5 L588.9 54.6 L589.2 54.6 L589.5 54.7 L589.9 54.7 L590.2 54.8 L590.5 54.7 L590.9 54.7 L591.2 54.6 L591.5 54.6 L591.8 54.5 L592.2 54.6 L592.5 54.6 L592.8 54.7 L593.2 54.6 L593.5 54.6 L593.8 54.6 L594.2 54.7 L594.5 54.7 L594.8 54.6 L595.1 54.6 L595.5 54.6 L595.8 54.7 L596.1 54.7 L596.5 54.7 L596.8 54.7 L597.1 54.6 L597.5 54.6 L597.8 54.5 L598.1 54.5 L598.4 54.5 L598.8 54.5 L599.1 54.5 L599.4 54.5 L599.8 54.5 L600.1 54.6 L600.4 54.6 L600.8 54.6 L601.1 54.5 L601.4 54.5 L601.8 54.6 L602.1 54.6 L602.4 54.6 L602.7 54.6 L603.1 54.6 L603.4 54.6 L603.7 54.6 L604.1 54.6 L604.4 54.6 L604.7 54.6 L605.1 54.6 L605.4 54.5 L605.7 54.5 L606.0 54.6 L606.4 54.5 L606.7 54.5 L607.0 54.5 L607.4 54.5 L607.7 54.5 L608.0 54.5 L608.4 54.5 L608.7 54.5 L609.0 54.5 L609.3 54.5 L609.7 54.5 L610.0 54.4 L610.3 54.3 L610.7 53.9 L611.0 53.4 L611.3 53.9 L611.7 54.4 L612.0 54.5 L612.3 54.6 L612.6 54.6 L613.0 54.6 L613.3 54.5 L613.6 54.5 L614.0 54.6 L614.3 54.6 L614.6 54.5 L615.0 54.4 L615.3 54.4 L615.6 54.4 L615.9 54.4 L616.3 54.4 L616.6 54.5 L616.9 54.5 L617.3 54.5 L617.6 54.6 L617.9 54.5 L618.3 54.4 L618.6 54.4 L618.9 54.5 L619.2 54.5 L619.6 54.4 L619.9 54.4 L620.2 54.4 L620.6 54.6 L620.9 54.6 L621.2 54.5 L621.6 54.5 L621.9 54.5 L622.2 54.5 L622.6 54.5 L622.9 54.5 L623.2 54.5 L623.5 54.4 L623.9 54.4 L624.2 54.4 L624.5 54.5 L624.9 54.4 L625.2 54.4 L625.5 54.3 L625.9 54.3 L626.2 54.3 L626.5 54.3 L626.8 54.3 L627.2 54.3 L627.5 54.3 L627.8 54.3 L628.2 54.3 L628.5 54.3 L628.8 54.3 L629.2 54.3 L629.5 54.2 L629.8 54.3 L630.1 54.3 L630.5 54.4 L630.8 54.3 L631.1 54.3 L631.5 54.2 L631.8 54.2 L632.1 54.2 L632.5 54.3 L632.8 54.3 L633.1 54.2 L633.4 54.3 L633.8 54.2 L634.1 54.2 L634.4 54.2 L634.8 54.1 L635.1 54.0 L635.4 54.0 L635.8 54.0 L636.1 53.9 L636.4 53.9 L636.7 53.9 L637.1 53.7 L637.4 53.5 L637.7 53.4 L638.1 53.3 L638.4 53.2 L638.7 53.0 L639.1 52.7 L639.4 52.3 L639.7 51.9 L640.0 51.4 L640.4 50.6 L640.7 49.6 L641.0 48.3 L641.4 46.8 L641.7 45.1 L642.0 43.8 L642.4 43.4 L642.7 44.2 L643.0 45.7 L643.3 47.3 L643.7 48.7 L644.0 49.8 L644.3 50.7 L644.7 51.3 L645.0 51.8 L645.3 52.1 L645.7 52.3 L646.0 52.5 L646.3 52.5 L646.7 52.5 L647.0 52.3 L647.3 52.1 L647.6 51.6 L648.0 50.8 L648.3 49.5 L648.6 47.3 L649.0 44.4 L649.3 42.7 L649.6 44.3 L650.0 47.4 L650.3 49.7 L650.6 51.1 L650.9 52.0 L651.3 52.5 L651.6 52.9 L651.9 53.2 L652.3 53.4 L652.6 53.6 L652.9 53.8 L653.3 53.9 L653.6 54.0 L653.9 54.1 L654.2 54.2 L654.6 54.2 L654.9 54.3 L655.2 54.3 L655.6 54.3 L655.9 54.4 L656.2 54.4 L656.6 54.4 L656.9 54.4 L657.2 54.5 L657.5 54.5 L657.9 54.6 L658.2 54.5 L658.5 54.6 L658.9 54.7 L659.2 54.7 L659.5 54.7 L659.9 54.7 L660.2 54.7 L660.5 54.6 L660.8 54.7 L661.2 54.7 L661.5 54.8 L661.8 54.8 L662.2 54.9 L662.5 54.9 L662.8 54.8 L663.2 54.8 L663.5 54.9 L663.8 54.9 L664.1 54.9 L664.5 55.0 L664.8 55.0 L665.1 55.1 L665.5 55.1 L665.8 55.1" fill="none" stroke="#f52828" stroke-width="1.0" stroke-linejoin="round" />
<path d="M508.8 24.2 L509.1 24.6 L509.5 25.0 L509.8 25.5 L510.1 26.0 L510.4 26.4 L510.8 26.8 L511.1 27.3 L511.4 27.6 L511.8 27.8 L512.1 28.1 L512.4 28.6 L512.8 28.9 L513.1 29.1 L513.4 29.3 L513.7 29.3 L514.1 29.2 L514.4 29.1 L514.7 29.2 L515.1 29.3 L515.4 29.5 L515.7 29.7 L516.1 29.9 L516.4 29.9 L516.7 29.9 L517.0 29.9 L517.4 29.7 L517.7 29.6 L518.0 29.8 L518.4 30.0 L518.7 30.0 L519.0 29.8 L519.4 29.8 L519.7 29.8 L520.0 29.8 L520.3 29.7 L520.7 29.5 L521.0 29.5 L521.3 29.6 L521.7 29.6 L522.0 29.6 L522.3 29.8 L522.7 29.8 L523.0 29.7 L523.3 29.7 L523.6 29.6 L524.0 29.6 L524.3 29.7 L524.6 29.8 L525.0 29.8 L525.3 29.8 L525.6 29.8 L526.0 29.8 L526.3 29.7 L526.6 29.8 L526.9 29.8 L527.3 29.8 L527.6 29.6 L527.9 29.4 L528.3 29.4 L528.6 29.5 L528.9 29.7 L529.3 29.7 L529.6 29.8 L529.9 29.6 L530.2 29.6 L530.6 29.5 L530.9 29.5 L531.2 29.4 L531.6 29.3 L531.9 29.0 L532.2 28.9 L532.6 28.8 L532.9 28.6 L533.2 28.5 L533.5 28.6 L533.9 28.9 L534.2 29.1 L534.5 29.3 L534.9 29.4 L535.2 29.5 L535.5 29.5 L535.9 29.4 L536.2 29.4 L536.5 29.4 L536.8 29.5 L537.2 29.5 L537.5 29.6 L537.8 29.6 L538.2 29.6 L538.5 29.5 L538.8 29.5 L539.2 29.5 L539.5 29.6 L539.8 29.6 L540.1 29.6 L540.5 29.6 L540.8 29.6 L541.1 29.7 L541.5 29.7 L541.8 29.7 L542.1 29.7 L542.4 29.6 L542.8 29.5 L543.1 29.3 L543.4 29.4 L543.8 29.4 L544.1 29.4 L544.4 29.4 L544.8 29.4 L545.1 29.4 L545.4 29.4 L545.7 29.3 L546.1 29.4 L546.4 29.4 L546.7 29.6 L547.1 29.6 L547.4 29.7 L547.7 29.7 L548.1 29.7 L548.4 29.5 L548.7 29.3 L549.0 29.3 L549.4 29.3 L549.7 29.4 L550.0 29.5 L550.4 29.6 L550.7 29.5 L551.0 29.4 L551.4 29.3 L551.7 29.2 L552.0 29.1 L552.3 29.3 L552.7 29.3 L553.0 28.8 L553.4 27.3 L553.7 28.1 L554.0 29.0 L554.3 29.3 L554.7 29.2 L555.0 29.0 L555.3 28.9 L555.6 28.9 L556.0 28.8 L556.3 28.7 L556.6 28.5 L557.0 28.4 L557.3 28.0 L557.6 27.8 L558.0 27.9 L558.3 28.2 L558.6 28.4 L558.9 28.6 L559.3 28.8 L559.6 28.9 L559.9 28.9 L560.3 29.1 L560.6 29.3 L560.9 29.3 L561.3 29.4 L561.6 29.4 L561.9 29.4 L562.2 29.4 L562.6 29.5 L562.9 29.4 L563.2 29.5 L563.6 29.5 L563.9 29.5 L564.2 29.4 L564.6 29.3 L564.9 29.1 L565.2 29.2 L565.5 29.3 L565.9 29.2 L566.2 29.1 L566.5 29.1 L566.9 29.2 L567.2 29.3 L567.5 29.3 L567.9 29.3 L568.2 29.3 L568.5 29.4 L568.8 29.5 L569.2 29.4 L569.5 29.3 L569.8 29.4 L570.2 29.4 L570.5 29.4 L570.8 29.4 L571.2 29.5 L571.5 29.4 L571.8 29.3 L572.1 29.3 L572.5 29.4 L572.8 29.5 L573.1 29.4 L573.5 29.2 L573.8 29.3 L574.1 29.4 L574.4 29.6 L574.8 29.6 L575.1 29.5 L575.4 29.6 L575.8 29.6 L576.1 29.6 L576.4 29.7 L576.8 29.6 L577.1 29.5 L577.4 29.4 L577.7 29.3 L578.1 29.5 L578.4 29.5 L578.7 29.6 L579.1 29.6 L579.4 29.5 L579.7 29.4 L580.1 29.3 L580.4 29.3 L580.7 29.1 L581.0 28.9 L581.4 29.1 L581.7 29.3 L582.0 29.3 L582.4 29.4 L582.7 29.4 L583.0 29.2 L583.4 29.2 L583.7 29.3 L584.0 29.5 L584.3 29.4 L584.7 29.4 L585.0 29.3 L585.3 29.3 L585.7 29.2 L586.0 29.3 L586.3 29.4 L586.7 29.5 L587.0 29.5 L587.3 29.5 L587.6 29.4 L588.0 29.3 L588.3 29.4 L588.6 29.6 L589.0 29.5 L589.3 29.4 L589.6 29.3 L590.0 29.4 L590.3 29.6 L590.6 29.5 L590.9 29.4 L591.3 29.3 L591.6 29.5 L591.9 29.6 L592.3 29.6 L592.6 29.6 L592.9 29.5 L593.3 29.6 L593.6 29.6 L593.9 29.4 L594.2 29.3 L594.6 29.2 L594.9 29.2 L595.2 29.2 L595.6 29.4 L595.9 29.6 L596.2 29.6 L596.6 29.5 L596.9 29.5 L597.2 29.6 L597.5 29.6 L597.9 29.7 L598.2 29.6 L598.5 29.6 L598.9 29.4 L599.2 29.3 L599.5 29.4 L599.9 29.6 L600.2 29.5 L600.5 29.4 L600.8 29.2 L601.2 29.2 L601.5 29.2 L601.8 29.3 L602.2 29.5 L602.5 29.6 L602.8 29.4 L603.1 29.3 L603.5 29.3 L603.8 29.4 L604.1 29.4 L604.5 29.5 L604.8 29.6 L605.1 29.5 L605.5 29.4 L605.8 29.3 L606.1 29.3 L606.4 29.2 L606.8 29.3 L607.1 29.5 L607.4 29.6 L607.8 29.6 L608.1 29.5 L608.4 29.4 L608.8 29.4 L609.1 29.4 L609.4 29.3 L609.7 29.4 L610.1 29.4 L610.4 29.5 L610.7 29.5 L611.1 29.5 L611.4 29.5 L611.7 29.4 L612.1 29.4 L612.4 29.4 L612.7 29.4 L613.0 29.4 L613.4 29.4 L613.7 29.5 L614.0 29.4 L614.4 29.5 L614.7 29.4 L615.0 29.4 L615.4 29.2 L615.7 29.1 L616.0 29.0 L616.3 29.1 L616.7 29.1 L617.0 29.0 L617.3 28.9 L617.7 28.8 L618.0 28.7 L618.3 28.7 L618.7 28.6 L619.0 28.6 L619.3 28.5 L619.6 28.5 L620.0 28.6 L620.3 28.5 L620.6 28.3 L621.0 28.3 L621.3 28.3 L621.6 28.5 L622.0 28.5 L622.3 28.6 L622.6 28.6 L622.9 28.5 L623.3 28.5 L623.6 28.4 L623.9 28.4 L624.3 28.4 L624.6 28.4 L624.9 28.4 L625.3 28.4 L625.6 28.4 L625.9 28.4 L626.2 28.5 L626.6 28.5 L626.9 28.4 L627.2 28.3 L627.6 28.3 L627.9 28.3 L628.2 28.4 L628.6 28.5 L628.9 28.6 L629.2 28.5 L629.5 28.5 L629.9 28.4 L630.2 28.3 L630.5 28.2 L630.9 28.2 L631.2 28.2 L631.5 28.3 L631.9 28.4 L632.2 28.5 L632.5 28.6 L632.8 28.7 L633.2 28.6 L633.5 28.4 L633.8 28.5 L634.2 28.5 L634.5 28.5 L634.8 28.6 L635.1 28.6 L635.5 28.5 L635.8 28.4 L636.1 28.3 L636.5 28.3 L636.8 28.3 L637.1 28.0 L637.5 27.8 L637.8 27.7 L638.1 27.7 L638.4 27.7 L638.8 27.6 L639.1 27.6 L639.4 27.3 L639.8 27.1 L640.1 26.9 L640.4 26.8 L640.8 26.7 L641.1 26.6 L641.4 26.5 L641.7 26.4 L642.1 26.4 L642.4 26.5 L642.7 26.6 L643.1 26.8 L643.4 26.9 L643.7 26.8 L644.1 26.9 L644.4 27.0 L644.7 27.1 L645.0 27.2 L645.4 27.3 L645.7 27.5 L646.0 27.5 L646.4 27.6 L646.7 27.8 L647.0 28.0 L647.4 28.0 L647.7 28.0 L648.0 28.0 L648.3 28.2 L648.7 28.3 L649.0 28.4 L649.3 28.4 L649.7 28.4 L650.0 28.5 L650.3 28.5 L650.7 28.4 L651.0 28.4 L651.3 28.3 L651.6 28.3 L652.0 28.3 L652.3 28.4 L652.6 28.6 L653.0 28.6 L653.3 28.6 L653.6 28.6 L654.0 28.5 L654.3 28.3 L654.6 28.3 L654.9 28.3 L655.3 28.3 L655.6 28.4 L655.9 28.6 L656.3 28.4 L656.6 28.3 L656.9 28.3 L657.3 28.3 L657.6 28.4 L657.9 28.3 L658.2 28.3 L658.6 28.3 L658.9 28.4 L659.2 28.4 L659.6 28.3 L659.9 28.4 L660.2 28.3 L660.6 28.2 L660.9 28.2 L661.2 28.3 L661.5 28.3 L661.9 28.3 L662.2 28.3 L662.5 28.3 L662.9 28.5 L663.2 28.6 L663.5 28.5 L663.9 28.5 L664.2 28.4 L664.5 28.4 L664.8 28.3 L665.2 28.4 L665.5 28.5" fill="none" stroke="#2828f0" stroke-width="1.0" stroke-linejoin="round" />
<text x="685.60" y="20.30" font-size="7.9" fill="#1818e8" text-anchor="end" font-weight="normal" stroke="#1818e8" stroke-width="0.22">Middle-1</text>
<text x="685.60" y="52.30" font-size="7.9" fill="#e81818" text-anchor="end" font-weight="normal" stroke="#e81818" stroke-width="0.22">Middle-2</text>
<text x="685.60" y="62.30" font-size="7.9" fill="#e818e8" text-anchor="end" font-weight="normal" stroke="#e818e8" stroke-width="0.22">ABS</text>
<text x="685.60" y="79.10" font-size="7.9" fill="#18c818" text-anchor="end" font-weight="normal" stroke="#18c818" stroke-width="0.22">Middle-3</text>
<text x="685.60" y="94.10" font-size="7.9" fill="#948420" text-anchor="end" font-weight="normal" stroke="#948420" stroke-width="0.22">PS</text>
<text x="685.40" y="106.30" font-size="7.9" fill="#18d8ee" text-anchor="end" font-weight="normal" stroke="#18d8ee" stroke-width="0.22">Middle-4</text>
<text x="592.80" y="122.90" font-size="7.95" fill="#1a7a1a" text-anchor="start" font-weight="normal" stroke="#1a7a1a" stroke-width="0.15">styrene butyl methacrylate</text>
<line x1="506.50" y1="15.60" x2="506.50" y2="126.00" stroke="#444444" stroke-width="1" />
<line x1="506.00" y1="125.50" x2="670.00" y2="125.50" stroke="#444444" stroke-width="1" />
<line x1="506.50" y1="125.50" x2="506.50" y2="128.10" stroke="#666" stroke-width="0.9" />
<text x="506.50" y="136.50" font-size="9.7" fill="#111" text-anchor="middle" font-weight="normal" >0</text>
<line x1="553.10" y1="125.50" x2="553.10" y2="128.10" stroke="#666" stroke-width="0.9" />
<text x="553.10" y="136.50" font-size="9.7" fill="#111" text-anchor="middle" font-weight="normal" >1000</text>
<line x1="599.70" y1="125.50" x2="599.70" y2="128.10" stroke="#666" stroke-width="0.9" />
<text x="599.70" y="136.50" font-size="9.7" fill="#111" text-anchor="middle" font-weight="normal" >2000</text>
<line x1="646.30" y1="125.50" x2="646.30" y2="128.10" stroke="#666" stroke-width="0.9" />
<text x="646.30" y="136.50" font-size="9.7" fill="#111" text-anchor="middle" font-weight="normal" >3000</text>
<line x1="529.80" y1="125.50" x2="529.80" y2="127.10" stroke="#666" stroke-width="0.8" />
<line x1="576.40" y1="125.50" x2="576.40" y2="127.10" stroke="#666" stroke-width="0.8" />
<line x1="623.00" y1="125.50" x2="623.00" y2="127.10" stroke="#666" stroke-width="0.8" />
<line x1="669.60" y1="125.50" x2="669.60" y2="127.10" stroke="#666" stroke-width="0.8" />
<line x1="503.90" y1="23.10" x2="506.50" y2="23.10" stroke="#555" stroke-width="0.9" />
<text x="502.60" y="26.40" font-size="9.3" fill="#111" text-anchor="end" font-weight="normal" >14000</text>
<line x1="504.90" y1="30.68" x2="506.50" y2="30.68" stroke="#555" stroke-width="0.8" />
<line x1="503.90" y1="38.27" x2="506.50" y2="38.27" stroke="#555" stroke-width="0.9" />
<text x="502.60" y="41.57" font-size="9.3" fill="#111" text-anchor="end" font-weight="normal" >12000</text>
<line x1="504.90" y1="45.85" x2="506.50" y2="45.85" stroke="#555" stroke-width="0.8" />
<line x1="503.90" y1="53.44" x2="506.50" y2="53.44" stroke="#555" stroke-width="0.9" />
<text x="502.60" y="56.74" font-size="9.3" fill="#111" text-anchor="end" font-weight="normal" >10000</text>
<line x1="504.90" y1="61.02" x2="506.50" y2="61.02" stroke="#555" stroke-width="0.8" />
<line x1="503.90" y1="68.61" x2="506.50" y2="68.61" stroke="#555" stroke-width="0.9" />
<text x="502.60" y="71.91" font-size="9.3" fill="#111" text-anchor="end" font-weight="normal" >8000</text>
<line x1="504.90" y1="76.19" x2="506.50" y2="76.19" stroke="#555" stroke-width="0.8" />
<line x1="503.90" y1="83.78" x2="506.50" y2="83.78" stroke="#555" stroke-width="0.9" />
<text x="502.60" y="87.08" font-size="9.3" fill="#111" text-anchor="end" font-weight="normal" >6000</text>
<line x1="504.90" y1="91.36" x2="506.50" y2="91.36" stroke="#555" stroke-width="0.8" />
<line x1="503.90" y1="98.95" x2="506.50" y2="98.95" stroke="#555" stroke-width="0.9" />
<text x="502.60" y="102.25" font-size="9.3" fill="#111" text-anchor="end" font-weight="normal" >4000</text>
<line x1="504.90" y1="106.53" x2="506.50" y2="106.53" stroke="#555" stroke-width="0.8" />
<line x1="503.90" y1="114.12" x2="506.50" y2="114.12" stroke="#555" stroke-width="0.9" />
<text x="502.60" y="117.42" font-size="9.3" fill="#111" text-anchor="end" font-weight="normal" >2000</text>
<text x="592.40" y="145.60" font-size="9.5" fill="#111" text-anchor="middle" font-weight="normal" >Wavenumber / <tspan font-style="italic">cm</tspan><tspan font-style="italic" font-size="6.5" dy="-3.8">-1</tspan></text>
<text transform="translate(477.00 63.50) rotate(-90)" font-size="9.35" fill="#111" text-anchor="middle" font-weight="normal" >Offset Intensity / <tspan font-style="italic">cts</tspan></text>
<rect x="529.60" y="2.40" width="115.70" height="20.50" fill="#fff" stroke="#6b8fbe" stroke-width="1.2" />
<text x="532.70" y="15.90" font-size="9.7" fill="#262626" text-anchor="start" font-weight="normal" stroke="#262626" stroke-width="0.08">Paint #1: middle layer</text>
<line x1="512.20" y1="52.40" x2="516.30" y2="137.20" stroke="#222" stroke-width="0.75" />
<path d="M513.5 136.9 L519.4 136.9 L516.6 142.8 Z" fill="#111"/>
<text x="456.80" y="22.50" font-size="25" fill="#000" text-anchor="start" font-weight="bold" >c</text>
</g>
<g id="pd">
<line x1="44.20" y1="278.50" x2="208.00" y2="278.50" stroke="#9a9a9a" stroke-width="0.9" />
<rect x="45.90" y="278.70" width="12.80" height="7.14" fill="#ff0000" stroke="#c40000" stroke-width="0.75" />
<rect x="62.25" y="278.70" width="12.80" height="11.96" fill="#ff0000" stroke="#c40000" stroke-width="0.75" />
<rect x="78.60" y="278.70" width="12.80" height="6.00" fill="#ff0000" stroke="#c40000" stroke-width="0.75" />
<rect x="94.95" y="207.56" width="12.80" height="70.94" fill="#ff0000" stroke="#c40000" stroke-width="0.75" />
<rect x="111.30" y="278.70" width="12.80" height="3.70" fill="#ff0000" stroke="#c40000" stroke-width="0.75" />
<rect x="127.65" y="278.70" width="12.80" height="1.41" fill="#ff0000" stroke="#c40000" stroke-width="0.75" />
<rect x="144.00" y="277.78" width="12.80" height="0.72" fill="#ff0000" stroke="#c40000" stroke-width="0.75" />
<rect x="160.35" y="278.70" width="12.80" height="8.98" fill="#ff0000" stroke="#c40000" stroke-width="0.75" />
<rect x="176.70" y="278.70" width="12.80" height="13.57" fill="#ff0000" stroke="#c40000" stroke-width="0.75" />
<rect x="193.05" y="187.40" width="12.80" height="91.10" fill="#ff0000" stroke="#c40000" stroke-width="0.75" />
<line x1="44.20" y1="164.40" x2="44.20" y2="296.20" stroke="#8c8c8c" stroke-width="1.0" />
<line x1="43.80" y1="295.80" x2="208.00" y2="295.80" stroke="#8c8c8c" stroke-width="1.0" />
<line x1="43.00" y1="164.70" x2="44.20" y2="164.70" stroke="#8c8c8c" stroke-width="0.7" />
<line x1="41.80" y1="186.70" x2="44.20" y2="186.70" stroke="#666" stroke-width="0.8" />
<text x="39.40" y="189.25" font-size="7.0" fill="#111" text-anchor="end" font-weight="normal" >0.4</text>
<line x1="41.80" y1="232.60" x2="44.20" y2="232.60" stroke="#666" stroke-width="0.8" />
<text x="39.40" y="235.15" font-size="7.0" fill="#111" text-anchor="end" font-weight="normal" >0.2</text>
<line x1="41.80" y1="278.50" x2="44.20" y2="278.50" stroke="#666" stroke-width="0.8" />
<text x="39.40" y="281.05" font-size="7.0" fill="#111" text-anchor="end" font-weight="normal" >0</text>
<line x1="42.80" y1="209.65" x2="44.20" y2="209.65" stroke="#777" stroke-width="0.7" />
<line x1="42.80" y1="255.55" x2="44.20" y2="255.55" stroke="#777" stroke-width="0.7" />
<line x1="42.80" y1="209.65" x2="44.20" y2="209.65" stroke="#777" stroke-width="0.7" />
<line x1="42.80" y1="255.55" x2="44.20" y2="255.55" stroke="#777" stroke-width="0.7" />
<text transform="translate(54.95 297.00) rotate(-90)" font-size="7.3" fill="#111" text-anchor="end" font-weight="normal" >PS</text>
<text transform="translate(71.30 297.00) rotate(-90)" font-size="7.3" fill="#111" text-anchor="end" font-weight="normal" >PET</text>
<text transform="translate(87.65 297.00) rotate(-90)" font-size="7.3" fill="#111" text-anchor="end" font-weight="normal" >PE</text>
<text transform="translate(104.00 297.00) rotate(-90)" font-size="7.3" fill="#111" text-anchor="end" font-weight="normal" >PVC</text>
<text transform="translate(120.35 297.00) rotate(-90)" font-size="7.3" fill="#111" text-anchor="end" font-weight="normal" >PP</text>
<text transform="translate(136.70 297.00) rotate(-90)" font-size="7.3" fill="#111" text-anchor="end" font-weight="normal" >PA</text>
<text transform="translate(153.05 297.00) rotate(-90)" font-size="7.3" fill="#111" text-anchor="end" font-weight="normal" >PMMA</text>
<text transform="translate(169.40 297.00) rotate(-90)" font-size="7.3" fill="#111" text-anchor="end" font-weight="normal" >PC</text>
<text transform="translate(185.75 297.00) rotate(-90)" font-size="7.3" fill="#111" text-anchor="end" font-weight="normal" >PUR</text>
<text transform="translate(202.10 297.00) rotate(-90)" font-size="7.3" fill="#111" text-anchor="end" font-weight="normal" >ABS</text>
<text transform="translate(27.30 230.00) rotate(-90)" font-size="7.3" fill="#111" text-anchor="middle" font-weight="normal" >Correlation</text>
<text transform="translate(203.15 223.60) rotate(-90)" font-size="7.45" fill="#1a0000" text-anchor="start" font-weight="normal" stroke="#1a0000" stroke-width="0.12">0.40062</text>
<text x="9.40" y="188.00" font-size="26.5" fill="#000" text-anchor="start" font-weight="bold" >d</text>
</g>
<g id="pe">
<line x1="252.30" y1="285.30" x2="418.00" y2="285.30" stroke="#9a9a9a" stroke-width="0.9" />
<rect x="254.30" y="211.53" width="12.80" height="73.77" fill="#ff0000" stroke="#c40000" stroke-width="0.75" />
<rect x="270.64" y="261.32" width="12.80" height="23.98" fill="#ff0000" stroke="#c40000" stroke-width="0.75" />
<rect x="286.98" y="237.85" width="12.80" height="47.45" fill="#ff0000" stroke="#c40000" stroke-width="0.75" />
<rect x="303.32" y="205.13" width="12.80" height="80.17" fill="#ff0000" stroke="#c40000" stroke-width="0.75" />
<rect x="319.66" y="212.24" width="12.80" height="73.06" fill="#ff0000" stroke="#c40000" stroke-width="0.75" />
<rect x="336.00" y="202.28" width="12.80" height="83.02" fill="#ff0000" stroke="#c40000" stroke-width="0.75" />
<rect x="352.34" y="230.02" width="12.80" height="55.28" fill="#ff0000" stroke="#c40000" stroke-width="0.75" />
<rect x="368.68" y="222.91" width="12.80" height="62.39" fill="#ff0000" stroke="#c40000" stroke-width="0.75" />
<rect x="385.02" y="207.97" width="12.80" height="77.33" fill="#ff0000" stroke="#c40000" stroke-width="0.75" />
<rect x="401.36" y="184.00" width="12.80" height="101.30" fill="#ff0000" stroke="#c40000" stroke-width="0.75" />
<line x1="252.30" y1="164.20" x2="252.30" y2="296.20" stroke="#8c8c8c" stroke-width="1.0" />
<line x1="251.90" y1="295.80" x2="418.00" y2="295.80" stroke="#8c8c8c" stroke-width="1.0" />
<line x1="251.10" y1="164.50" x2="252.30" y2="164.50" stroke="#8c8c8c" stroke-width="0.7" />
<line x1="249.90" y1="171.50" x2="252.30" y2="171.50" stroke="#666" stroke-width="0.8" />
<text x="248.00" y="174.05" font-size="7.0" fill="#111" text-anchor="end" font-weight="normal" >0.8</text>
<line x1="249.90" y1="199.95" x2="252.30" y2="199.95" stroke="#666" stroke-width="0.8" />
<text x="248.00" y="202.50" font-size="7.0" fill="#111" text-anchor="end" font-weight="normal" >0.6</text>
<line x1="249.90" y1="228.40" x2="252.30" y2="228.40" stroke="#666" stroke-width="0.8" />
<text x="248.00" y="230.95" font-size="7.0" fill="#111" text-anchor="end" font-weight="normal" >0.4</text>
<line x1="249.90" y1="256.85" x2="252.30" y2="256.85" stroke="#666" stroke-width="0.8" />
<text x="248.00" y="259.40" font-size="7.0" fill="#111" text-anchor="end" font-weight="normal" >0.2</text>
<line x1="249.90" y1="285.30" x2="252.30" y2="285.30" stroke="#666" stroke-width="0.8" />
<text x="248.00" y="287.85" font-size="7.0" fill="#111" text-anchor="end" font-weight="normal" >0</text>
<line x1="250.90" y1="185.73" x2="252.30" y2="185.73" stroke="#777" stroke-width="0.7" />
<line x1="250.90" y1="214.18" x2="252.30" y2="214.18" stroke="#777" stroke-width="0.7" />
<line x1="250.90" y1="185.73" x2="252.30" y2="185.73" stroke="#777" stroke-width="0.7" />
<line x1="250.90" y1="242.62" x2="252.30" y2="242.62" stroke="#777" stroke-width="0.7" />
<line x1="250.90" y1="214.18" x2="252.30" y2="214.18" stroke="#777" stroke-width="0.7" />
<line x1="250.90" y1="271.07" x2="252.30" y2="271.07" stroke="#777" stroke-width="0.7" />
<line x1="250.90" y1="242.62" x2="252.30" y2="242.62" stroke="#777" stroke-width="0.7" />
<line x1="250.90" y1="271.07" x2="252.30" y2="271.07" stroke="#777" stroke-width="0.7" />
<text transform="translate(263.35 297.00) rotate(-90)" font-size="7.3" fill="#111" text-anchor="end" font-weight="normal" >PS</text>
<text transform="translate(279.69 297.00) rotate(-90)" font-size="7.3" fill="#111" text-anchor="end" font-weight="normal" >PET</text>
<text transform="translate(296.03 297.00) rotate(-90)" font-size="7.3" fill="#111" text-anchor="end" font-weight="normal" >PE</text>
<text transform="translate(312.37 297.00) rotate(-90)" font-size="7.3" fill="#111" text-anchor="end" font-weight="normal" >PVC</text>
<text transform="translate(328.71 297.00) rotate(-90)" font-size="7.3" fill="#111" text-anchor="end" font-weight="normal" >PP</text>
<text transform="translate(345.05 297.00) rotate(-90)" font-size="7.3" fill="#111" text-anchor="end" font-weight="normal" >PA</text>
<text transform="translate(361.39 297.00) rotate(-90)" font-size="7.3" fill="#111" text-anchor="end" font-weight="normal" >PMMA</text>
<text transform="translate(377.73 297.00) rotate(-90)" font-size="7.3" fill="#111" text-anchor="end" font-weight="normal" >PC</text>
<text transform="translate(394.07 297.00) rotate(-90)" font-size="7.3" fill="#111" text-anchor="end" font-weight="normal" >PUR</text>
<text transform="translate(410.41 297.00) rotate(-90)" font-size="7.3" fill="#111" text-anchor="end" font-weight="normal" >ABS</text>
<text transform="translate(235.00 229.80) rotate(-90)" font-size="7.3" fill="#111" text-anchor="middle" font-weight="normal" >Correlation</text>
<text transform="translate(411.46 223.60) rotate(-90)" font-size="7.45" fill="#1a0000" text-anchor="start" font-weight="normal" stroke="#1a0000" stroke-width="0.12">0.71354</text>
<text x="270.20" y="187.90" font-size="25.5" fill="#000" text-anchor="start" font-weight="bold" >e</text>
</g>
<g id="pf">
<line x1="505.40" y1="285.60" x2="669.30" y2="285.60" stroke="#9a9a9a" stroke-width="0.9" />
<rect x="507.30" y="186.85" width="12.80" height="98.75" fill="#ff0000" stroke="#c40000" stroke-width="0.75" />
<rect x="523.68" y="270.25" width="12.80" height="15.35" fill="#ff0000" stroke="#c40000" stroke-width="0.75" />
<rect x="540.06" y="249.96" width="12.80" height="35.64" fill="#ff0000" stroke="#c40000" stroke-width="0.75" />
<rect x="556.44" y="237.79" width="12.80" height="47.81" fill="#ff0000" stroke="#c40000" stroke-width="0.75" />
<rect x="572.82" y="228.32" width="12.80" height="57.28" fill="#ff0000" stroke="#c40000" stroke-width="0.75" />
<rect x="589.20" y="226.29" width="12.80" height="59.31" fill="#ff0000" stroke="#c40000" stroke-width="0.75" />
<rect x="605.58" y="223.59" width="12.80" height="62.02" fill="#ff0000" stroke="#c40000" stroke-width="0.75" />
<rect x="621.96" y="229.00" width="12.80" height="56.61" fill="#ff0000" stroke="#c40000" stroke-width="0.75" />
<rect x="638.34" y="218.18" width="12.80" height="67.42" fill="#ff0000" stroke="#c40000" stroke-width="0.75" />
<rect x="654.72" y="183.70" width="12.80" height="101.90" fill="#ff0000" stroke="#c40000" stroke-width="0.75" />
<line x1="505.40" y1="164.20" x2="505.40" y2="296.40" stroke="#8c8c8c" stroke-width="1.0" />
<line x1="505.00" y1="296.00" x2="669.30" y2="296.00" stroke="#8c8c8c" stroke-width="1.0" />
<line x1="504.20" y1="164.50" x2="505.40" y2="164.50" stroke="#8c8c8c" stroke-width="0.7" />
<line x1="503.00" y1="177.40" x2="505.40" y2="177.40" stroke="#666" stroke-width="0.8" />
<text x="501.20" y="179.95" font-size="7.0" fill="#111" text-anchor="end" font-weight="normal" >0.8</text>
<line x1="503.00" y1="204.45" x2="505.40" y2="204.45" stroke="#666" stroke-width="0.8" />
<text x="501.20" y="207.00" font-size="7.0" fill="#111" text-anchor="end" font-weight="normal" >0.6</text>
<line x1="503.00" y1="231.50" x2="505.40" y2="231.50" stroke="#666" stroke-width="0.8" />
<text x="501.20" y="234.05" font-size="7.0" fill="#111" text-anchor="end" font-weight="normal" >0.4</text>
<line x1="503.00" y1="258.55" x2="505.40" y2="258.55" stroke="#666" stroke-width="0.8" />
<text x="501.20" y="261.10" font-size="7.0" fill="#111" text-anchor="end" font-weight="normal" >0.2</text>
<line x1="503.00" y1="285.60" x2="505.40" y2="285.60" stroke="#666" stroke-width="0.8" />
<text x="501.20" y="288.15" font-size="7.0" fill="#111" text-anchor="end" font-weight="normal" >0</text>
<line x1="504.00" y1="190.93" x2="505.40" y2="190.93" stroke="#777" stroke-width="0.7" />
<line x1="504.00" y1="217.98" x2="505.40" y2="217.98" stroke="#777" stroke-width="0.7" />
<line x1="504.00" y1="190.93" x2="505.40" y2="190.93" stroke="#777" stroke-width="0.7" />
<line x1="504.00" y1="245.03" x2="505.40" y2="245.03" stroke="#777" stroke-width="0.7" />
<line x1="504.00" y1="217.98" x2="505.40" y2="217.98" stroke="#777" stroke-width="0.7" />
<line x1="504.00" y1="272.08" x2="505.40" y2="272.08" stroke="#777" stroke-width="0.7" />
<line x1="504.00" y1="245.03" x2="505.40" y2="245.03" stroke="#777" stroke-width="0.7" />
<line x1="504.00" y1="272.08" x2="505.40" y2="272.08" stroke="#777" stroke-width="0.7" />
<text transform="translate(516.35 297.20) rotate(-90)" font-size="7.3" fill="#111" text-anchor="end" font-weight="normal" >PS</text>
<text transform="translate(532.73 297.20) rotate(-90)" font-size="7.3" fill="#111" text-anchor="end" font-weight="normal" >PET</text>
<text transform="translate(549.11 297.20) rotate(-90)" font-size="7.3" fill="#111" text-anchor="end" font-weight="normal" >PE</text>
<text transform="translate(565.49 297.20) rotate(-90)" font-size="7.3" fill="#111" text-anchor="end" font-weight="normal" >PVC</text>
<text transform="translate(581.87 297.20) rotate(-90)" font-size="7.3" fill="#111" text-anchor="end" font-weight="normal" >PP</text>
<text transform="translate(598.25 297.20) rotate(-90)" font-size="7.3" fill="#111" text-anchor="end" font-weight="normal" >PA</text>
<text transform="translate(614.63 297.20) rotate(-90)" font-size="7.3" fill="#111" text-anchor="end" font-weight="normal" >PMMA</text>
<text transform="translate(631.01 297.20) rotate(-90)" font-size="7.3" fill="#111" text-anchor="end" font-weight="normal" >PC</text>
<text transform="translate(647.39 297.20) rotate(-90)" font-size="7.3" fill="#111" text-anchor="end" font-weight="normal" >PUR</text>
<text transform="translate(663.77 297.20) rotate(-90)" font-size="7.3" fill="#111" text-anchor="end" font-weight="normal" >ABS</text>
<text transform="translate(487.90 229.80) rotate(-90)" font-size="7.3" fill="#111" text-anchor="middle" font-weight="normal" >Correlation</text>
<text transform="translate(517.40 221.10) rotate(-90)" font-size="7.45" fill="#1a0000" text-anchor="start" font-weight="normal" stroke="#1a0000" stroke-width="0.12">0.73356</text>
<text transform="translate(664.82 223.60) rotate(-90)" font-size="7.45" fill="#1a0000" text-anchor="start" font-weight="normal" stroke="#1a0000" stroke-width="0.12">0.75753</text>
<text x="459.80" y="187.90" font-size="28" fill="#000" text-anchor="start" font-weight="bold" >f</text>
</g>
</svg></body></html>
